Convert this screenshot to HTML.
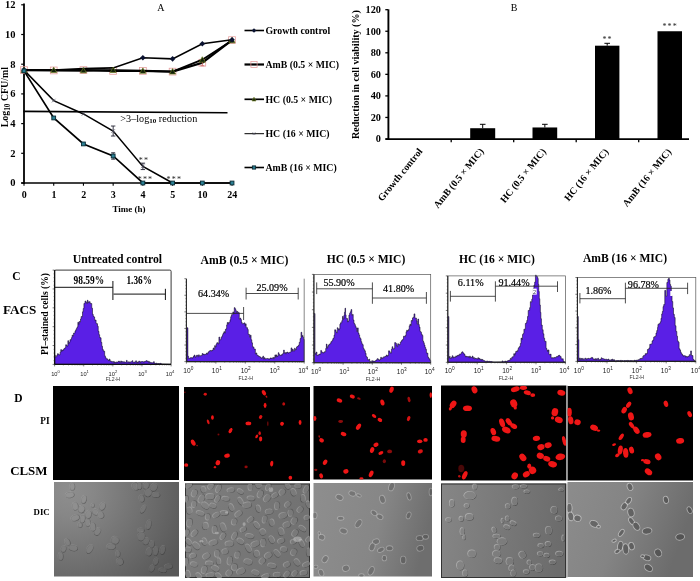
<!DOCTYPE html>
<html><head><meta charset="utf-8"><title>Figure</title>
<style>html,body{margin:0;padding:0;background:#fff}svg{display:block}</style></head>
<body>
<svg width="700" height="581" viewBox="0 0 700 581">
<rect width="700" height="581" fill="#fff"/>
<!-- panel A -->
<line x1="24" y1="3.6" x2="24" y2="183.9" stroke="#000" stroke-width="1.8"/>
<line x1="21.2" y1="183" x2="233" y2="183" stroke="#000" stroke-width="1.7"/>
<line x1="21.2" y1="183" x2="24" y2="183" stroke="#000" stroke-width="1.2"/>
<text x="15.6" y="186.4" font-family='"Liberation Serif", serif' font-size="10.5" font-weight="bold" text-anchor="end" fill="#000">0</text>
<line x1="21.2" y1="153.3" x2="24" y2="153.3" stroke="#000" stroke-width="1.2"/>
<text x="15.6" y="156.7" font-family='"Liberation Serif", serif' font-size="10.5" font-weight="bold" text-anchor="end" fill="#000">2</text>
<line x1="21.2" y1="123.6" x2="24" y2="123.6" stroke="#000" stroke-width="1.2"/>
<text x="15.6" y="127" font-family='"Liberation Serif", serif' font-size="10.5" font-weight="bold" text-anchor="end" fill="#000">4</text>
<line x1="21.2" y1="93.9" x2="24" y2="93.9" stroke="#000" stroke-width="1.2"/>
<text x="15.6" y="97.3" font-family='"Liberation Serif", serif' font-size="10.5" font-weight="bold" text-anchor="end" fill="#000">6</text>
<line x1="21.2" y1="64.2" x2="24" y2="64.2" stroke="#000" stroke-width="1.2"/>
<text x="15.6" y="67.6" font-family='"Liberation Serif", serif' font-size="10.5" font-weight="bold" text-anchor="end" fill="#000">8</text>
<line x1="21.2" y1="34.5" x2="24" y2="34.5" stroke="#000" stroke-width="1.2"/>
<text x="15.6" y="37.9" font-family='"Liberation Serif", serif' font-size="10.5" font-weight="bold" text-anchor="end" fill="#000">10</text>
<line x1="21.2" y1="4.8" x2="24" y2="4.8" stroke="#000" stroke-width="1.2"/>
<text x="15.6" y="8.2" font-family='"Liberation Serif", serif' font-size="10.5" font-weight="bold" text-anchor="end" fill="#000">12</text>
<text x="24.2" y="198" font-family='"Liberation Serif", serif' font-size="10" font-weight="bold" text-anchor="middle" fill="#000">0</text>
<line x1="24" y1="183" x2="24" y2="185.8" stroke="#000" stroke-width="1.1"/>
<text x="53.92" y="198" font-family='"Liberation Serif", serif' font-size="10" font-weight="bold" text-anchor="middle" fill="#000">1</text>
<line x1="53.72" y1="183" x2="53.72" y2="185.8" stroke="#000" stroke-width="1.1"/>
<text x="83.64" y="198" font-family='"Liberation Serif", serif' font-size="10" font-weight="bold" text-anchor="middle" fill="#000">2</text>
<line x1="83.44" y1="183" x2="83.44" y2="185.8" stroke="#000" stroke-width="1.1"/>
<text x="113.36" y="198" font-family='"Liberation Serif", serif' font-size="10" font-weight="bold" text-anchor="middle" fill="#000">3</text>
<line x1="113.16" y1="183" x2="113.16" y2="185.8" stroke="#000" stroke-width="1.1"/>
<text x="143.08" y="198" font-family='"Liberation Serif", serif' font-size="10" font-weight="bold" text-anchor="middle" fill="#000">4</text>
<line x1="142.88" y1="183" x2="142.88" y2="185.8" stroke="#000" stroke-width="1.1"/>
<text x="172.8" y="198" font-family='"Liberation Serif", serif' font-size="10" font-weight="bold" text-anchor="middle" fill="#000">5</text>
<line x1="172.6" y1="183" x2="172.6" y2="185.8" stroke="#000" stroke-width="1.1"/>
<text x="202.52" y="198" font-family='"Liberation Serif", serif' font-size="10" font-weight="bold" text-anchor="middle" fill="#000">10</text>
<line x1="202.32" y1="183" x2="202.32" y2="185.8" stroke="#000" stroke-width="1.1"/>
<text x="232.24" y="198" font-family='"Liberation Serif", serif' font-size="10" font-weight="bold" text-anchor="middle" fill="#000">24</text>
<line x1="232.04" y1="183" x2="232.04" y2="185.8" stroke="#000" stroke-width="1.1"/>
<text x="129" y="212" font-family='"Liberation Serif", serif' font-size="9" font-weight="bold" text-anchor="middle" fill="#000">Time (h)</text>
<text transform="translate(8.4,97.2) rotate(-90)" font-family='"Liberation Serif", serif' font-size="9.9" font-weight="bold" text-anchor="middle">Log<tspan font-size="7.3" dy="1.6">10</tspan><tspan dy="-1.6"> CFU/ml</tspan></text>
<text x="157.2" y="11.4" font-family='"Liberation Serif", serif' font-size="10" text-anchor="start" fill="#000">A</text>
<line x1="23.5" y1="111.4" x2="227.5" y2="112.7" stroke="#000" stroke-width="1.6"/>
<text x="120.3" y="121.7" font-family='"Liberation Serif", serif' font-size="10.2">&gt;3–log<tspan font-size="7" dy="1.5" font-weight="bold">10</tspan><tspan dy="-1.5"> reduction</tspan></text>
<rect x="20.6" y="66.74" width="6.8" height="6.8" fill="none" stroke="#e59a9a" stroke-width="0.75"/>
<rect x="50.32" y="67.04" width="6.8" height="6.8" fill="none" stroke="#e59a9a" stroke-width="0.75"/>
<rect x="80.04" y="66.74" width="6.8" height="6.8" fill="none" stroke="#e59a9a" stroke-width="0.75"/>
<rect x="109.76" y="67.48" width="6.8" height="6.8" fill="none" stroke="#e59a9a" stroke-width="0.75"/>
<rect x="139.48" y="67.48" width="6.8" height="6.8" fill="none" stroke="#e59a9a" stroke-width="0.75"/>
<rect x="169.2" y="68.22" width="6.8" height="6.8" fill="none" stroke="#e59a9a" stroke-width="0.75"/>
<rect x="198.92" y="59.32" width="6.8" height="6.8" fill="none" stroke="#e59a9a" stroke-width="0.75"/>
<rect x="228.64" y="36.74" width="6.8" height="6.8" fill="none" stroke="#e59a9a" stroke-width="0.75"/>
<polyline points="24,70.14 53.72,70.44 83.44,70.14 113.16,70.88 142.88,70.88 172.6,71.62 202.32,62.72 232.04,40.14" fill="none" stroke="#000" stroke-width="2.2"/>
<polyline points="24,70.14 53.72,70.14 83.44,70.44 113.16,70.14 142.88,70.88 172.6,71.62 202.32,59.74 232.04,40.44" fill="none" stroke="#000" stroke-width="1.9"/>
<polyline points="24,70.14 53.72,70.14 83.44,68.66 113.16,67.91 142.88,57.81 172.6,58.85 202.32,43.71 232.04,39.7" fill="none" stroke="#000" stroke-width="1.6"/>
<polyline points="24,70.14 53.72,100.58 83.44,113.95 113.16,131.03 142.88,166.37 172.6,183" fill="none" stroke="#000" stroke-width="1.5"/>
<polyline points="24,70.88 53.72,117.96 83.44,143.94 113.16,155.97 142.88,183 172.6,183 202.32,183 232.04,183" fill="none" stroke="#000" stroke-width="1.7"/>
<line x1="113.16" y1="126.03" x2="113.16" y2="136.03" stroke="#223" stroke-width="0.9"/><line x1="110.96" y1="126.03" x2="115.36" y2="126.03" stroke="#223" stroke-width="0.9"/><line x1="110.96" y1="136.03" x2="115.36" y2="136.03" stroke="#223" stroke-width="0.9"/>
<line x1="142.88" y1="163.17" x2="142.88" y2="169.57" stroke="#223" stroke-width="0.9"/><line x1="140.68" y1="163.17" x2="145.08" y2="163.17" stroke="#223" stroke-width="0.9"/><line x1="140.68" y1="169.57" x2="145.08" y2="169.57" stroke="#223" stroke-width="0.9"/>
<line x1="113.16" y1="152.77" x2="113.16" y2="159.17" stroke="#223" stroke-width="0.9"/><line x1="111.16" y1="152.77" x2="115.16" y2="152.77" stroke="#223" stroke-width="0.9"/><line x1="111.16" y1="159.17" x2="115.16" y2="159.17" stroke="#223" stroke-width="0.9"/>
<line x1="202.32" y1="59.72" x2="202.32" y2="65.72" stroke="#c66" stroke-width="0.9"/><line x1="200.32" y1="59.72" x2="204.32" y2="59.72" stroke="#c66" stroke-width="0.9"/><line x1="200.32" y1="65.72" x2="204.32" y2="65.72" stroke="#c66" stroke-width="0.9"/>
<polygon points="24,67.14 27,72.54 21,72.54" fill="#10200a" stroke="#6b7a1f" stroke-width="0.7"/>
<polygon points="53.72,67.14 56.72,72.54 50.72,72.54" fill="#10200a" stroke="#6b7a1f" stroke-width="0.7"/>
<polygon points="83.44,67.44 86.44,72.84 80.44,72.84" fill="#10200a" stroke="#6b7a1f" stroke-width="0.7"/>
<polygon points="113.16,67.14 116.16,72.54 110.16,72.54" fill="#10200a" stroke="#6b7a1f" stroke-width="0.7"/>
<polygon points="142.88,67.88 145.88,73.28 139.88,73.28" fill="#10200a" stroke="#6b7a1f" stroke-width="0.7"/>
<polygon points="172.6,68.62 175.6,74.03 169.6,74.03" fill="#10200a" stroke="#6b7a1f" stroke-width="0.7"/>
<polygon points="202.32,56.74 205.32,62.14 199.32,62.14" fill="#10200a" stroke="#6b7a1f" stroke-width="0.7"/>
<polygon points="232.04,37.44 235.04,42.84 229.04,42.84" fill="#10200a" stroke="#6b7a1f" stroke-width="0.7"/>
<polygon points="21.2,70.14 24,67.34 26.8,70.14 24,72.94" fill="#0a1230"/>
<polygon points="140.08,57.81 142.88,55.01 145.68,57.81 142.88,60.61" fill="#0a1230"/>
<polygon points="169.8,58.85 172.6,56.05 175.4,58.85 172.6,61.65" fill="#0a1230"/>
<polygon points="199.52,43.71 202.32,40.91 205.12,43.71 202.32,46.51" fill="#0a1230"/>
<polygon points="229.24,39.7 232.04,36.9 234.84,39.7 232.04,42.5" fill="#0a1230"/>
<line x1="22.2" y1="68.34" x2="25.8" y2="71.94" stroke="#556" stroke-width="0.7"/><line x1="22.2" y1="71.94" x2="25.8" y2="68.34" stroke="#556" stroke-width="0.7"/>
<line x1="51.92" y1="98.78" x2="55.52" y2="102.38" stroke="#556" stroke-width="0.7"/><line x1="51.92" y1="102.38" x2="55.52" y2="98.78" stroke="#556" stroke-width="0.7"/>
<line x1="81.64" y1="112.15" x2="85.24" y2="115.75" stroke="#556" stroke-width="0.7"/><line x1="81.64" y1="115.75" x2="85.24" y2="112.15" stroke="#556" stroke-width="0.7"/>
<line x1="111.36" y1="129.22" x2="114.96" y2="132.83" stroke="#556" stroke-width="0.7"/><line x1="111.36" y1="132.83" x2="114.96" y2="129.22" stroke="#556" stroke-width="0.7"/>
<line x1="141.08" y1="164.57" x2="144.68" y2="168.17" stroke="#556" stroke-width="0.7"/><line x1="141.08" y1="168.17" x2="144.68" y2="164.57" stroke="#556" stroke-width="0.7"/>
<line x1="170.8" y1="181.2" x2="174.4" y2="184.8" stroke="#556" stroke-width="0.7"/><line x1="170.8" y1="184.8" x2="174.4" y2="181.2" stroke="#556" stroke-width="0.7"/>
<rect x="22.1" y="68.98" width="3.8" height="3.8" fill="#2a7f93" stroke="#0a2a33" stroke-width="0.9"/>
<rect x="51.82" y="116.06" width="3.8" height="3.8" fill="#2a7f93" stroke="#0a2a33" stroke-width="0.9"/>
<rect x="81.54" y="142.04" width="3.8" height="3.8" fill="#2a7f93" stroke="#0a2a33" stroke-width="0.9"/>
<rect x="111.26" y="154.07" width="3.8" height="3.8" fill="#2a7f93" stroke="#0a2a33" stroke-width="0.9"/>
<rect x="140.98" y="181.1" width="3.8" height="3.8" fill="#2a7f93" stroke="#0a2a33" stroke-width="0.9"/>
<rect x="170.7" y="181.1" width="3.8" height="3.8" fill="#2a7f93" stroke="#0a2a33" stroke-width="0.9"/>
<rect x="200.42" y="181.1" width="3.8" height="3.8" fill="#2a7f93" stroke="#0a2a33" stroke-width="0.9"/>
<rect x="230.14" y="181.1" width="3.8" height="3.8" fill="#2a7f93" stroke="#0a2a33" stroke-width="0.9"/>
<text x="144" y="162.6" font-family='"Liberation Serif", serif' font-size="8" text-anchor="middle" fill="#222" letter-spacing="1.2">**</text>
<text x="145.5" y="181.6" font-family='"Liberation Serif", serif' font-size="8" text-anchor="middle" fill="#222" letter-spacing="1.2">***</text>
<text x="174.3" y="181.6" font-family='"Liberation Serif", serif' font-size="8" text-anchor="middle" fill="#222" letter-spacing="1.2">***</text>
<line x1="244.5" y1="30.5" x2="264" y2="30.5" stroke="#000" stroke-width="1.6"/>
<text x="265.5" y="33.8" font-family='"Liberation Serif", serif' font-size="9.8" font-weight="bold" text-anchor="start" fill="#000">Growth control</text>
<line x1="244.5" y1="64.5" x2="264" y2="64.5" stroke="#000" stroke-width="2.2"/>
<text x="265.5" y="67.8" font-family='"Liberation Serif", serif' font-size="9.8" font-weight="bold" text-anchor="start" fill="#000">AmB (0.5 × MIC)</text>
<line x1="244.5" y1="99.3" x2="264" y2="99.3" stroke="#000" stroke-width="1.7"/>
<text x="265.5" y="102.6" font-family='"Liberation Serif", serif' font-size="9.8" font-weight="bold" text-anchor="start" fill="#000">HC (0.5 × MIC)</text>
<line x1="244.5" y1="133.7" x2="264" y2="133.7" stroke="#000" stroke-width="1"/>
<text x="265.5" y="137" font-family='"Liberation Serif", serif' font-size="9.8" font-weight="bold" text-anchor="start" fill="#000">HC (16 × MIC)</text>
<line x1="244.5" y1="167.5" x2="264" y2="167.5" stroke="#000" stroke-width="1.6"/>
<text x="265.5" y="170.8" font-family='"Liberation Serif", serif' font-size="9.8" font-weight="bold" text-anchor="start" fill="#000">AmB (16 × MIC)</text>
<polygon points="251.7,30.5 254,28.2 256.3,30.5 254,32.8" fill="#0a1230"/>
<rect x="250.9" y="61.4" width="6.2" height="6.2" fill="none" stroke="#e59a9a" stroke-width="0.75"/>
<polygon points="254,97.3 256,100.9 252,100.9" fill="#10200a" stroke="#6b7a1f" stroke-width="0.7"/>
<line x1="252.7" y1="132.4" x2="255.3" y2="135" stroke="#556" stroke-width="0.7"/><line x1="252.7" y1="135" x2="255.3" y2="132.4" stroke="#556" stroke-width="0.7"/>
<rect x="252.4" y="165.9" width="3.2" height="3.2" fill="#2a7f93" stroke="#0a2a33" stroke-width="0.9"/>
<!-- panel B -->
<line x1="388.4" y1="9.3" x2="388.4" y2="140" stroke="#000" stroke-width="1.9"/>
<line x1="385.5" y1="139.1" x2="689" y2="139.1" stroke="#000" stroke-width="1.8"/>
<line x1="385.3" y1="139" x2="388" y2="139" stroke="#000" stroke-width="1.3"/>
<text x="381" y="142.3" font-family='"Liberation Serif", serif' font-size="10.3" font-weight="bold" text-anchor="end" fill="#000">0</text>
<line x1="385.3" y1="117.45" x2="388" y2="117.45" stroke="#000" stroke-width="1.3"/>
<text x="381" y="120.75" font-family='"Liberation Serif", serif' font-size="10.3" font-weight="bold" text-anchor="end" fill="#000">20</text>
<line x1="385.3" y1="95.9" x2="388" y2="95.9" stroke="#000" stroke-width="1.3"/>
<text x="381" y="99.2" font-family='"Liberation Serif", serif' font-size="10.3" font-weight="bold" text-anchor="end" fill="#000">40</text>
<line x1="385.3" y1="74.35" x2="388" y2="74.35" stroke="#000" stroke-width="1.3"/>
<text x="381" y="77.65" font-family='"Liberation Serif", serif' font-size="10.3" font-weight="bold" text-anchor="end" fill="#000">60</text>
<line x1="385.3" y1="52.8" x2="388" y2="52.8" stroke="#000" stroke-width="1.3"/>
<text x="381" y="56.1" font-family='"Liberation Serif", serif' font-size="10.3" font-weight="bold" text-anchor="end" fill="#000">80</text>
<line x1="385.3" y1="31.25" x2="388" y2="31.25" stroke="#000" stroke-width="1.3"/>
<text x="381" y="34.55" font-family='"Liberation Serif", serif' font-size="10.3" font-weight="bold" text-anchor="end" fill="#000">100</text>
<line x1="385.3" y1="9.7" x2="388" y2="9.7" stroke="#000" stroke-width="1.3"/>
<text x="381" y="13" font-family='"Liberation Serif", serif' font-size="10.3" font-weight="bold" text-anchor="end" fill="#000">120</text>
<line x1="451.2" y1="139" x2="451.2" y2="142.2" stroke="#000" stroke-width="1.3"/>
<line x1="513.7" y1="139" x2="513.7" y2="142.2" stroke="#000" stroke-width="1.3"/>
<line x1="576.2" y1="139" x2="576.2" y2="142.2" stroke="#000" stroke-width="1.3"/>
<line x1="638.7" y1="139" x2="638.7" y2="142.2" stroke="#000" stroke-width="1.3"/>
<text transform="translate(359.2,74.6) rotate(-90)" font-family='"Liberation Serif", serif' font-size="10.05" font-weight="bold" text-anchor="middle">Reduction in cell viability (%)</text>
<text x="514" y="11.2" font-family='"Liberation Serif", serif' font-size="10" text-anchor="middle" fill="#000">B</text>
<rect x="470.2" y="128.22" width="25" height="10.78" fill="#000"/>
<line x1="482.7" y1="124.3" x2="482.7" y2="128.22" stroke="#000" stroke-width="1"/>
<line x1="479.9" y1="124.3" x2="485.5" y2="124.3" stroke="#000" stroke-width="1"/>
<rect x="532.5" y="127.47" width="24.7" height="11.53" fill="#000"/>
<line x1="544.85" y1="124.3" x2="544.85" y2="127.47" stroke="#000" stroke-width="1"/>
<line x1="542.05" y1="124.3" x2="547.65" y2="124.3" stroke="#000" stroke-width="1"/>
<rect x="595" y="45.69" width="24.4" height="93.31" fill="#000"/>
<line x1="607.2" y1="43.3" x2="607.2" y2="45.69" stroke="#000" stroke-width="1"/>
<line x1="604.4" y1="43.3" x2="610" y2="43.3" stroke="#000" stroke-width="1"/>
<rect x="657.5" y="31.25" width="24.5" height="107.75" fill="#000"/>
<text x="607.6" y="42.3" font-family='"Liberation Serif", serif' font-size="8" text-anchor="middle" fill="#222" letter-spacing="1.2">**</text>
<text x="670.2" y="29.3" font-family='"Liberation Serif", serif' font-size="8" text-anchor="middle" fill="#222" letter-spacing="1.2">***</text>
<text transform="translate(423,151.5) rotate(-51)" font-family='"Liberation Serif", serif' font-size="9.8" font-weight="bold" text-anchor="end">Growth control</text>
<text transform="translate(484.2,151.5) rotate(-51)" font-family='"Liberation Serif", serif' font-size="9.8" font-weight="bold" text-anchor="end">AmB (0.5 × MIC)</text>
<text transform="translate(546.5,151.7) rotate(-51)" font-family='"Liberation Serif", serif' font-size="9.8" font-weight="bold" text-anchor="end">HC (0.5 × MIC)</text>
<text transform="translate(609,151.9) rotate(-51)" font-family='"Liberation Serif", serif' font-size="9.8" font-weight="bold" text-anchor="end">HC (16 × MIC)</text>
<text transform="translate(671.8,151.9) rotate(-51)" font-family='"Liberation Serif", serif' font-size="9.8" font-weight="bold" text-anchor="end">AmB (16 × MIC)</text>
<!-- panel C -->
<text x="117.4" y="262.8" font-family='"Liberation Serif", serif' font-size="11.75" font-weight="bold" text-anchor="middle" fill="#000">Untreated control</text>
<text x="244.5" y="264.3" font-family='"Liberation Serif", serif' font-size="11.7" font-weight="bold" text-anchor="middle" fill="#000">AmB (0.5 × MIC)</text>
<text x="366" y="263" font-family='"Liberation Serif", serif' font-size="11.6" font-weight="bold" text-anchor="middle" fill="#000">HC (0.5 × MIC)</text>
<text x="497" y="263" font-family='"Liberation Serif", serif' font-size="11.6" font-weight="bold" text-anchor="middle" fill="#000">HC (16 × MIC)</text>
<text x="625" y="262.2" font-family='"Liberation Serif", serif' font-size="11.6" font-weight="bold" text-anchor="middle" fill="#000">AmB (16 × MIC)</text>
<text x="16.5" y="280.3" font-family='"Liberation Serif", serif' font-size="11.5" font-weight="bold" text-anchor="middle" fill="#000">C</text>
<text x="3" y="313.8" font-family='"Liberation Serif", serif' font-size="13.2" font-weight="bold" text-anchor="start" fill="#000">FACS</text>
<text transform="translate(47.6,314) rotate(-90)" font-family='"Liberation Serif", serif' font-size="9.6" font-weight="bold" text-anchor="middle">PI–stained cells (%)</text>
<polyline points="54.57,364.43 54.57,364.43 54.57,355.28 55.3,355.28 55.3,356.88 56.03,356.88 56.03,356.72 56.76,356.72 56.76,355.3 57.49,355.3 57.49,353.71 58.21,353.71 58.21,354.23 58.86,354.23 58.86,354.96 59.5,354.96 59.5,354.79 60.14,354.79 60.14,352.24 60.79,352.24 60.79,349.6 61.43,349.6 61.43,351.3 62.14,351.3 62.14,350.12 62.86,350.12 62.86,350.36 63.57,350.36 63.57,349.12 64.29,349.12 64.29,348.35 65,348.35 65,347.81 65.71,347.81 65.71,344.74 66.43,344.74 66.43,345.58 67.14,345.58 67.14,346.1 67.86,346.1 67.86,340.7 68.57,340.7 68.57,343.8 69.29,343.8 69.29,342.27 70,342.27 70,339.64 70.71,339.64 70.71,339.91 71.43,339.91 71.43,337.67 72.14,337.67 72.14,335.18 72.86,335.18 72.86,335.93 73.57,335.93 73.57,333.04 74.29,333.04 74.29,333.18 75,333.18 75,330.89 75.71,330.89 75.71,329.82 76.43,329.82 76.43,328.42 77.14,328.42 77.14,326.91 77.86,326.91 77.86,322.34 78.57,322.34 78.57,324.32 79.21,324.32 79.21,321.5 79.86,321.5 79.86,321.92 80.5,321.92 80.5,319.04 81.14,319.04 81.14,316.52 81.79,316.52 81.79,316.7 82.5,316.7 82.5,311.83 83.21,311.83 83.21,308.49 83.93,308.49 83.93,303.5 84.46,303.5 84.46,303.49 85,303.49 85,301.14 85.86,301.14 85.86,302.16 86.71,302.16 86.71,303.53 87.36,303.53 87.36,300.25 88,300.25 88,302.66 88.64,302.66 88.64,301.74 89.29,301.74 89.29,301.68 90.14,301.68 90.14,303.48 91,303.48 91,303.56 91.75,303.56 91.75,308.23 92.5,308.23 92.5,314.31 93.21,314.31 93.21,316.29 93.93,316.29 93.93,317.01 94.64,317.01 94.64,320.25 95.36,320.25 95.36,319.97 96.07,319.97 96.07,323.42 96.79,323.42 96.79,323.68 97.5,323.68 97.5,326.22 98.21,326.22 98.21,331.34 98.93,331.34 98.93,334.68 99.64,334.68 99.64,337.58 100.36,337.58 100.36,337.83 101.07,337.83 101.07,342.34 101.79,342.34 101.79,346.25 102.5,346.25 102.5,349.36 103.21,349.36 103.21,350.86 103.93,350.86 103.93,351.23 104.64,351.23 104.64,355.9 105.36,355.9 105.36,357.39 106,357.39 106,358.7 106.64,358.7 106.64,358.63 107.29,358.63 107.29,359.46 107.93,359.46 107.93,360 108.57,360 108.57,360.7 109.29,360.7 109.29,359.15 110,359.15 110,360.89 110.71,360.89 110.71,361.18 111.43,361.18 111.43,361.96 112.14,361.96 112.14,361.71 112.86,361.71 112.86,361.46 113.57,361.46 113.57,362.72 114.29,362.72 114.29,361.87 115,361.87 115,362.69 115.71,362.69 115.71,362.17 116.43,362.17 116.43,361.98 117.14,361.98 117.14,362.3 117.86,362.3 117.86,361.77 118.57,361.77 118.57,361.07 119.29,361.07 119.29,361.86 120,361.86 120,362.45 120.71,362.45 120.71,360.97 121.43,360.97 121.43,362.28 122.14,362.28 122.14,361.64 122.86,361.64 122.86,362.29 123.57,362.29 123.57,361.73 124.29,361.73 124.29,362.08 125,362.08 125,362.38 125.71,362.38 125.71,362.08 126.43,362.08 126.43,360.39 127.14,360.39 127.14,362.17 127.86,362.17 127.86,362.29 128.57,362.29 128.57,361.77 129.29,361.77 129.29,362.37 130,362.37 130,362.49 130.71,362.49 130.71,361.64 131.43,361.64 131.43,361.64 132.14,361.64 132.14,360.69 132.86,360.69 132.86,362.47 133.57,362.47 133.57,362.27 134.29,362.27 134.29,362.05 135,362.05 135,361.91 135.71,361.91 135.71,360.84 136.43,360.84 136.43,362.7 137.14,362.7 137.14,361.98 137.86,361.98 137.86,362.52 138.57,362.52 138.57,361.29 139.29,361.29 139.29,361.27 140,361.27 140,362.57 140.71,362.57 140.71,361.59 141.43,361.59 141.43,361.68 142.14,361.68 142.14,361.49 142.86,361.49 142.86,361.74 143.57,361.74 143.57,362.28 144.28,362.28 144.28,361.52 145,361.52 145,361.3 145.71,361.3 145.71,361.19 146.43,361.19 146.43,360.62 147.14,360.62 147.14,361.56 147.86,361.56 147.86,361.31 148.57,361.31 148.57,362.48 149.28,362.48 149.28,361.74 150,361.74 150,362.45 150.71,362.45 150.71,362.55 151.43,362.55 151.43,362.85 152.14,362.85 152.14,362.84 152.86,362.84 152.86,362.66 153.57,362.66 153.57,361.68 154.28,361.68 154.28,363.26 155,363.26 155,363.64 155.71,363.64 155.71,363.16 156.43,363.16 156.43,363.28 157.14,363.28 157.14,363.9 157.86,363.9 157.86,363.51 158.57,363.51 158.57,363.83 159.28,363.83 159.28,363.65 160,363.65 160,363.32 160.7,363.32 160.7,363.65 161.39,363.65 161.39,364.05 162.09,364.05 162.09,364.08 162.78,364.08 162.78,364.11 163.48,364.11 163.48,364.13 164.18,364.13 164.18,364.16 164.87,364.16 164.87,364.19 165.57,364.19 165.57,364.21 166.27,364.21 166.27,364.24 166.96,364.24 166.96,364.27 167.66,364.27 167.66,364.29 168.36,364.29 168.36,364.32 169.05,364.32 169.05,364.35 169.75,364.35 169.75,364.37 170.45,364.37 170.45,364.4 171.14,364.4 171.14,364.43 171.1,364.4 54.6,364.4" fill="#5a1fe6" stroke="#08021a" stroke-width="0.55"/>
<rect x="54.6" y="270.1" width="116.5" height="94.3" fill="none" stroke="#383838" stroke-width="1" rx="1.2"/>
<line x1="54.6" y1="270.1" x2="54.6" y2="364.4" stroke="#111" stroke-width="1.3"/>
<line x1="54.6" y1="364.4" x2="171.1" y2="364.4" stroke="#111" stroke-width="1.2"/>
<line x1="52.6" y1="364.4" x2="54.6" y2="364.4" stroke="#222" stroke-width="0.6"/><line x1="53.5" y1="360.63" x2="54.6" y2="360.63" stroke="#222" stroke-width="0.4"/><line x1="53.5" y1="356.86" x2="54.6" y2="356.86" stroke="#222" stroke-width="0.4"/><line x1="53.5" y1="353.08" x2="54.6" y2="353.08" stroke="#222" stroke-width="0.4"/><line x1="53.5" y1="349.31" x2="54.6" y2="349.31" stroke="#222" stroke-width="0.4"/><line x1="52.6" y1="345.54" x2="54.6" y2="345.54" stroke="#222" stroke-width="0.6"/><line x1="53.5" y1="341.77" x2="54.6" y2="341.77" stroke="#222" stroke-width="0.4"/><line x1="53.5" y1="338" x2="54.6" y2="338" stroke="#222" stroke-width="0.4"/><line x1="53.5" y1="334.22" x2="54.6" y2="334.22" stroke="#222" stroke-width="0.4"/><line x1="53.5" y1="330.45" x2="54.6" y2="330.45" stroke="#222" stroke-width="0.4"/><line x1="52.6" y1="326.68" x2="54.6" y2="326.68" stroke="#222" stroke-width="0.6"/><line x1="53.5" y1="322.91" x2="54.6" y2="322.91" stroke="#222" stroke-width="0.4"/><line x1="53.5" y1="319.14" x2="54.6" y2="319.14" stroke="#222" stroke-width="0.4"/><line x1="53.5" y1="315.36" x2="54.6" y2="315.36" stroke="#222" stroke-width="0.4"/><line x1="53.5" y1="311.59" x2="54.6" y2="311.59" stroke="#222" stroke-width="0.4"/><line x1="52.6" y1="307.82" x2="54.6" y2="307.82" stroke="#222" stroke-width="0.6"/><line x1="53.5" y1="304.05" x2="54.6" y2="304.05" stroke="#222" stroke-width="0.4"/><line x1="53.5" y1="300.28" x2="54.6" y2="300.28" stroke="#222" stroke-width="0.4"/><line x1="53.5" y1="296.5" x2="54.6" y2="296.5" stroke="#222" stroke-width="0.4"/><line x1="53.5" y1="292.73" x2="54.6" y2="292.73" stroke="#222" stroke-width="0.4"/><line x1="52.6" y1="288.96" x2="54.6" y2="288.96" stroke="#222" stroke-width="0.6"/><line x1="53.5" y1="285.19" x2="54.6" y2="285.19" stroke="#222" stroke-width="0.4"/><line x1="53.5" y1="281.42" x2="54.6" y2="281.42" stroke="#222" stroke-width="0.4"/><line x1="53.5" y1="277.64" x2="54.6" y2="277.64" stroke="#222" stroke-width="0.4"/><line x1="53.5" y1="273.87" x2="54.6" y2="273.87" stroke="#222" stroke-width="0.4"/><line x1="52.6" y1="270.1" x2="54.6" y2="270.1" stroke="#222" stroke-width="0.6"/>
<line x1="63.37" y1="364.4" x2="63.37" y2="365.6" stroke="#222" stroke-width="0.35"/><line x1="68.5" y1="364.4" x2="68.5" y2="365.6" stroke="#222" stroke-width="0.35"/><line x1="72.13" y1="364.4" x2="72.13" y2="365.6" stroke="#222" stroke-width="0.35"/><line x1="74.96" y1="364.4" x2="74.96" y2="365.6" stroke="#222" stroke-width="0.35"/><line x1="77.26" y1="364.4" x2="77.26" y2="365.6" stroke="#222" stroke-width="0.35"/><line x1="79.21" y1="364.4" x2="79.21" y2="365.6" stroke="#222" stroke-width="0.35"/><line x1="80.9" y1="364.4" x2="80.9" y2="365.6" stroke="#222" stroke-width="0.35"/><line x1="82.39" y1="364.4" x2="82.39" y2="365.6" stroke="#222" stroke-width="0.35"/><line x1="92.49" y1="364.4" x2="92.49" y2="365.6" stroke="#222" stroke-width="0.35"/><line x1="97.62" y1="364.4" x2="97.62" y2="365.6" stroke="#222" stroke-width="0.35"/><line x1="101.26" y1="364.4" x2="101.26" y2="365.6" stroke="#222" stroke-width="0.35"/><line x1="104.08" y1="364.4" x2="104.08" y2="365.6" stroke="#222" stroke-width="0.35"/><line x1="106.39" y1="364.4" x2="106.39" y2="365.6" stroke="#222" stroke-width="0.35"/><line x1="108.34" y1="364.4" x2="108.34" y2="365.6" stroke="#222" stroke-width="0.35"/><line x1="110.03" y1="364.4" x2="110.03" y2="365.6" stroke="#222" stroke-width="0.35"/><line x1="111.52" y1="364.4" x2="111.52" y2="365.6" stroke="#222" stroke-width="0.35"/><line x1="121.62" y1="364.4" x2="121.62" y2="365.6" stroke="#222" stroke-width="0.35"/><line x1="126.75" y1="364.4" x2="126.75" y2="365.6" stroke="#222" stroke-width="0.35"/><line x1="130.38" y1="364.4" x2="130.38" y2="365.6" stroke="#222" stroke-width="0.35"/><line x1="133.21" y1="364.4" x2="133.21" y2="365.6" stroke="#222" stroke-width="0.35"/><line x1="135.51" y1="364.4" x2="135.51" y2="365.6" stroke="#222" stroke-width="0.35"/><line x1="137.46" y1="364.4" x2="137.46" y2="365.6" stroke="#222" stroke-width="0.35"/><line x1="139.15" y1="364.4" x2="139.15" y2="365.6" stroke="#222" stroke-width="0.35"/><line x1="140.64" y1="364.4" x2="140.64" y2="365.6" stroke="#222" stroke-width="0.35"/><line x1="150.74" y1="364.4" x2="150.74" y2="365.6" stroke="#222" stroke-width="0.35"/><line x1="155.87" y1="364.4" x2="155.87" y2="365.6" stroke="#222" stroke-width="0.35"/><line x1="159.51" y1="364.4" x2="159.51" y2="365.6" stroke="#222" stroke-width="0.35"/><line x1="162.33" y1="364.4" x2="162.33" y2="365.6" stroke="#222" stroke-width="0.35"/><line x1="164.64" y1="364.4" x2="164.64" y2="365.6" stroke="#222" stroke-width="0.35"/><line x1="166.59" y1="364.4" x2="166.59" y2="365.6" stroke="#222" stroke-width="0.35"/><line x1="168.28" y1="364.4" x2="168.28" y2="365.6" stroke="#222" stroke-width="0.35"/><line x1="169.77" y1="364.4" x2="169.77" y2="365.6" stroke="#222" stroke-width="0.35"/><line x1="54.6" y1="364.4" x2="54.6" y2="366.4" stroke="#222" stroke-width="0.6"/><line x1="83.72" y1="364.4" x2="83.72" y2="366.4" stroke="#222" stroke-width="0.6"/><line x1="112.85" y1="364.4" x2="112.85" y2="366.4" stroke="#222" stroke-width="0.6"/><line x1="141.97" y1="364.4" x2="141.97" y2="366.4" stroke="#222" stroke-width="0.6"/><line x1="171.1" y1="364.4" x2="171.1" y2="366.4" stroke="#222" stroke-width="0.6"/>
<line x1="54.6" y1="287.3" x2="112.9" y2="287.3" stroke="#111" stroke-width="1"/><line x1="112.9" y1="281" x2="112.9" y2="300" stroke="#111" stroke-width="1"/>
<line x1="113.5" y1="294.1" x2="165.4" y2="294.1" stroke="#111" stroke-width="1"/><line x1="165.4" y1="288.8" x2="165.4" y2="300" stroke="#111" stroke-width="1"/>
<text x="88.9" y="284.4" font-family='"Liberation Serif", serif' font-size="11.6" font-weight="bold" text-anchor="middle" fill="#000" textLength="30.6" lengthAdjust="spacingAndGlyphs">98.59%</text>
<text x="139.2" y="284.4" font-family='"Liberation Serif", serif' font-size="11.6" font-weight="bold" text-anchor="middle" fill="#000" textLength="25.5" lengthAdjust="spacingAndGlyphs">1.36%</text>
<text x="55.43" y="375.6" font-family='"Liberation Sans", sans-serif' font-size="5.7" text-anchor="middle" fill="#222">10<tspan font-size="4.1" dy="-2.6">0</tspan></text><text x="84.57" y="375.6" font-family='"Liberation Sans", sans-serif' font-size="5.7" text-anchor="middle" fill="#222">10<tspan font-size="4.1" dy="-2.6">1</tspan></text><text x="112.86" y="375.6" font-family='"Liberation Sans", sans-serif' font-size="5.7" text-anchor="middle" fill="#222">10<tspan font-size="4.1" dy="-2.6">2</tspan></text><text x="142.43" y="375.6" font-family='"Liberation Sans", sans-serif' font-size="5.7" text-anchor="middle" fill="#222">10<tspan font-size="4.1" dy="-2.6">3</tspan></text><text x="170.07" y="375.6" font-family='"Liberation Sans", sans-serif' font-size="5.7" text-anchor="middle" fill="#222">10<tspan font-size="4.1" dy="-2.6">4</tspan></text><text x="112.9" y="381.3" font-family='"Liberation Sans", sans-serif' font-size="5.2" text-anchor="middle" fill="#333">FL2-H</text>
<polyline points="186.36,361.64 187,361.64 187,327.8 187.86,327.8 187.86,356.33 188.57,356.33 188.57,358.49 189.29,358.49 189.29,358.21 190,358.21 190,357.99 190.71,357.99 190.71,357.55 191.43,357.55 191.43,357.88 192.14,357.88 192.14,358.11 192.86,358.11 192.86,357.04 193.57,357.04 193.57,356.11 194.29,356.11 194.29,355.02 195,355.02 195,357.33 195.71,357.33 195.71,356.53 196.43,356.53 196.43,355.31 197.14,355.31 197.14,355.28 197.86,355.28 197.86,356.77 198.57,356.77 198.57,354.87 199.29,354.87 199.29,355.9 200,355.9 200,355.91 200.71,355.91 200.71,355.43 201.43,355.43 201.43,355.63 202.14,355.63 202.14,353.56 202.86,353.56 202.86,354.58 203.57,354.58 203.57,353.98 204.29,353.98 204.29,354.73 205,354.73 205,354.34 205.71,354.34 205.71,354.29 206.43,354.29 206.43,353.1 207.14,353.1 207.14,354.05 207.81,354.05 207.81,352.57 208.48,352.57 208.48,351.75 209.15,351.75 209.15,350.91 209.82,350.91 209.82,350.77 210.49,350.77 210.49,350.46 211.16,350.46 211.16,351.18 211.83,351.18 211.83,350.24 212.5,350.24 212.5,350.05 213.21,350.05 213.21,347.98 213.93,347.98 213.93,349.41 214.64,349.41 214.64,345.65 215.36,345.65 215.36,347.01 216.07,347.01 216.07,344.21 216.79,344.21 216.79,342.84 217.5,342.84 217.5,342.71 218.21,342.71 218.21,343.97 218.93,343.97 218.93,337.07 219.64,337.07 219.64,339.81 220.36,339.81 220.36,339.67 221.07,339.67 221.07,337.39 221.79,337.39 221.79,336.46 222.5,336.46 222.5,334.71 223.21,334.71 223.21,333.08 223.93,333.08 223.93,331.63 224.64,331.63 224.64,333.03 225.36,333.03 225.36,329.36 226,329.36 226,328.79 226.64,328.79 226.64,324.92 227.29,324.92 227.29,322.53 227.93,322.53 227.93,323.96 228.57,323.96 228.57,322.38 229.29,322.38 229.29,322.15 230,322.15 230,319.78 230.71,319.78 230.71,316.78 231.43,316.78 231.43,314.67 232.14,314.67 232.14,314.63 232.86,314.63 232.86,311.92 233.57,311.92 233.57,313.61 234.29,313.61 234.29,307.63 235,307.63 235,308.86 235.71,308.86 235.71,310.7 236.43,310.7 236.43,312.7 237.14,312.7 237.14,311.45 237.86,311.45 237.86,312.47 238.57,312.47 238.57,312.71 239.29,312.71 239.29,319.18 240,319.18 240,318.1 240.71,318.1 240.71,319.6 241.43,319.6 241.43,322.36 242.14,322.36 242.14,323.73 242.86,323.73 242.86,323.78 243.57,323.78 243.57,323.36 244.21,323.36 244.21,322.87 244.86,322.87 244.86,325.49 245.5,325.49 245.5,323.87 246.14,323.87 246.14,327.77 246.79,327.77 246.79,327.66 247.5,327.66 247.5,329.46 248.21,329.46 248.21,334.28 248.93,334.28 248.93,334.54 249.64,334.54 249.64,337.2 250.36,337.2 250.36,335.17 251.07,335.17 251.07,339.75 251.79,339.75 251.79,342.87 252.5,342.87 252.5,346.99 253.21,346.99 253.21,346.93 253.93,346.93 253.93,349.04 254.64,349.04 254.64,349 255.36,349 255.36,353.85 256.07,353.85 256.07,352.98 256.79,352.98 256.79,354.97 257.5,354.97 257.5,355.67 258.14,355.67 258.14,355.78 258.79,355.78 258.79,356.69 259.43,356.69 259.43,356.52 260.07,356.52 260.07,357.09 260.71,357.09 260.71,357.78 261.43,357.78 261.43,358.47 262.14,358.47 262.14,357.53 262.86,357.53 262.86,356.14 263.57,356.14 263.57,359.08 264.29,359.08 264.29,357.68 265,357.68 265,358.97 265.71,358.97 265.71,358.63 266.43,358.63 266.43,358.66 267.14,358.66 267.14,358.47 267.86,358.47 267.86,358.69 268.57,358.69 268.57,359.1 269.29,359.1 269.29,359.06 270,359.06 270,358.01 270.71,358.01 270.71,357.96 271.43,357.96 271.43,358.54 272.14,358.54 272.14,358.29 272.86,358.29 272.86,357.39 273.57,357.39 273.57,358.79 274.24,358.79 274.24,357.47 274.91,357.47 274.91,354.89 275.58,354.89 275.58,357.18 276.25,357.18 276.25,354.88 276.92,354.88 276.92,356.56 277.59,356.56 277.59,355.91 278.26,355.91 278.26,352.69 278.93,352.69 278.93,354.31 279.6,354.31 279.6,355.36 280.27,355.36 280.27,355.49 280.94,355.49 280.94,354.81 281.61,354.81 281.61,355.22 282.28,355.22 282.28,353.99 282.95,353.99 282.95,353.41 283.62,353.41 283.62,350.07 284.28,350.07 284.28,353.04 284.95,353.04 284.95,352.64 285.62,352.64 285.62,353.84 286.29,353.84 286.29,352.54 286.96,352.54 286.96,352.04 287.63,352.04 287.63,352.75 288.3,352.75 288.3,353.12 288.97,353.12 288.97,352.39 289.64,352.39 289.64,352.38 290.36,352.38 290.36,351.94 291.07,351.94 291.07,347.88 291.78,347.88 291.78,351.28 292.5,351.28 292.5,349.12 293.21,349.12 293.21,350.82 293.93,350.82 293.93,350.99 294.57,350.99 294.57,348.14 295.21,348.14 295.21,349.76 295.86,349.76 295.86,349.27 296.5,349.27 296.5,347.06 297.14,347.06 297.14,346.43 297.86,346.43 297.86,345.97 298.57,345.97 298.57,345.01 299.28,345.01 299.28,342.29 300.14,342.29 300.14,338.6 301,338.6 301,332.29 301.75,332.29 301.75,336.75 302.5,336.75 302.5,335.4 303.03,335.4 303.03,337.15 303.57,337.15 303.57,339.51 304.21,339.51 304.21,361.64 304.2,361.6 186.4,361.6" fill="#5a1fe6" stroke="#08021a" stroke-width="0.55"/>
<line x1="186.4" y1="278.7" x2="186.4" y2="361.6" stroke="#222" stroke-width="1.1"/>
<line x1="186.4" y1="361.6" x2="304.2" y2="361.6" stroke="#222" stroke-width="1.1"/>
<line x1="304.2" y1="278.7" x2="304.2" y2="361.6" stroke="#555" stroke-width="0.7"/>
<line x1="184.4" y1="361.6" x2="186.4" y2="361.6" stroke="#222" stroke-width="0.6"/><line x1="185.3" y1="358.28" x2="186.4" y2="358.28" stroke="#222" stroke-width="0.4"/><line x1="185.3" y1="354.97" x2="186.4" y2="354.97" stroke="#222" stroke-width="0.4"/><line x1="185.3" y1="351.65" x2="186.4" y2="351.65" stroke="#222" stroke-width="0.4"/><line x1="185.3" y1="348.34" x2="186.4" y2="348.34" stroke="#222" stroke-width="0.4"/><line x1="184.4" y1="345.02" x2="186.4" y2="345.02" stroke="#222" stroke-width="0.6"/><line x1="185.3" y1="341.7" x2="186.4" y2="341.7" stroke="#222" stroke-width="0.4"/><line x1="185.3" y1="338.39" x2="186.4" y2="338.39" stroke="#222" stroke-width="0.4"/><line x1="185.3" y1="335.07" x2="186.4" y2="335.07" stroke="#222" stroke-width="0.4"/><line x1="185.3" y1="331.76" x2="186.4" y2="331.76" stroke="#222" stroke-width="0.4"/><line x1="184.4" y1="328.44" x2="186.4" y2="328.44" stroke="#222" stroke-width="0.6"/><line x1="185.3" y1="325.12" x2="186.4" y2="325.12" stroke="#222" stroke-width="0.4"/><line x1="185.3" y1="321.81" x2="186.4" y2="321.81" stroke="#222" stroke-width="0.4"/><line x1="185.3" y1="318.49" x2="186.4" y2="318.49" stroke="#222" stroke-width="0.4"/><line x1="185.3" y1="315.18" x2="186.4" y2="315.18" stroke="#222" stroke-width="0.4"/><line x1="184.4" y1="311.86" x2="186.4" y2="311.86" stroke="#222" stroke-width="0.6"/><line x1="185.3" y1="308.54" x2="186.4" y2="308.54" stroke="#222" stroke-width="0.4"/><line x1="185.3" y1="305.23" x2="186.4" y2="305.23" stroke="#222" stroke-width="0.4"/><line x1="185.3" y1="301.91" x2="186.4" y2="301.91" stroke="#222" stroke-width="0.4"/><line x1="185.3" y1="298.6" x2="186.4" y2="298.6" stroke="#222" stroke-width="0.4"/><line x1="184.4" y1="295.28" x2="186.4" y2="295.28" stroke="#222" stroke-width="0.6"/><line x1="185.3" y1="291.96" x2="186.4" y2="291.96" stroke="#222" stroke-width="0.4"/><line x1="185.3" y1="288.65" x2="186.4" y2="288.65" stroke="#222" stroke-width="0.4"/><line x1="185.3" y1="285.33" x2="186.4" y2="285.33" stroke="#222" stroke-width="0.4"/><line x1="185.3" y1="282.02" x2="186.4" y2="282.02" stroke="#222" stroke-width="0.4"/><line x1="184.4" y1="278.7" x2="186.4" y2="278.7" stroke="#222" stroke-width="0.6"/>
<line x1="195.27" y1="361.6" x2="195.27" y2="362.8" stroke="#222" stroke-width="0.35"/><line x1="200.45" y1="361.6" x2="200.45" y2="362.8" stroke="#222" stroke-width="0.35"/><line x1="204.13" y1="361.6" x2="204.13" y2="362.8" stroke="#222" stroke-width="0.35"/><line x1="206.98" y1="361.6" x2="206.98" y2="362.8" stroke="#222" stroke-width="0.35"/><line x1="209.32" y1="361.6" x2="209.32" y2="362.8" stroke="#222" stroke-width="0.35"/><line x1="211.29" y1="361.6" x2="211.29" y2="362.8" stroke="#222" stroke-width="0.35"/><line x1="213" y1="361.6" x2="213" y2="362.8" stroke="#222" stroke-width="0.35"/><line x1="214.5" y1="361.6" x2="214.5" y2="362.8" stroke="#222" stroke-width="0.35"/><line x1="224.72" y1="361.6" x2="224.72" y2="362.8" stroke="#222" stroke-width="0.35"/><line x1="229.9" y1="361.6" x2="229.9" y2="362.8" stroke="#222" stroke-width="0.35"/><line x1="233.58" y1="361.6" x2="233.58" y2="362.8" stroke="#222" stroke-width="0.35"/><line x1="236.43" y1="361.6" x2="236.43" y2="362.8" stroke="#222" stroke-width="0.35"/><line x1="238.77" y1="361.6" x2="238.77" y2="362.8" stroke="#222" stroke-width="0.35"/><line x1="240.74" y1="361.6" x2="240.74" y2="362.8" stroke="#222" stroke-width="0.35"/><line x1="242.45" y1="361.6" x2="242.45" y2="362.8" stroke="#222" stroke-width="0.35"/><line x1="243.95" y1="361.6" x2="243.95" y2="362.8" stroke="#222" stroke-width="0.35"/><line x1="254.17" y1="361.6" x2="254.17" y2="362.8" stroke="#222" stroke-width="0.35"/><line x1="259.35" y1="361.6" x2="259.35" y2="362.8" stroke="#222" stroke-width="0.35"/><line x1="263.03" y1="361.6" x2="263.03" y2="362.8" stroke="#222" stroke-width="0.35"/><line x1="265.88" y1="361.6" x2="265.88" y2="362.8" stroke="#222" stroke-width="0.35"/><line x1="268.22" y1="361.6" x2="268.22" y2="362.8" stroke="#222" stroke-width="0.35"/><line x1="270.19" y1="361.6" x2="270.19" y2="362.8" stroke="#222" stroke-width="0.35"/><line x1="271.9" y1="361.6" x2="271.9" y2="362.8" stroke="#222" stroke-width="0.35"/><line x1="273.4" y1="361.6" x2="273.4" y2="362.8" stroke="#222" stroke-width="0.35"/><line x1="283.62" y1="361.6" x2="283.62" y2="362.8" stroke="#222" stroke-width="0.35"/><line x1="288.8" y1="361.6" x2="288.8" y2="362.8" stroke="#222" stroke-width="0.35"/><line x1="292.48" y1="361.6" x2="292.48" y2="362.8" stroke="#222" stroke-width="0.35"/><line x1="295.33" y1="361.6" x2="295.33" y2="362.8" stroke="#222" stroke-width="0.35"/><line x1="297.67" y1="361.6" x2="297.67" y2="362.8" stroke="#222" stroke-width="0.35"/><line x1="299.64" y1="361.6" x2="299.64" y2="362.8" stroke="#222" stroke-width="0.35"/><line x1="301.35" y1="361.6" x2="301.35" y2="362.8" stroke="#222" stroke-width="0.35"/><line x1="302.85" y1="361.6" x2="302.85" y2="362.8" stroke="#222" stroke-width="0.35"/><line x1="186.4" y1="361.6" x2="186.4" y2="363.6" stroke="#222" stroke-width="0.6"/><line x1="215.85" y1="361.6" x2="215.85" y2="363.6" stroke="#222" stroke-width="0.6"/><line x1="245.3" y1="361.6" x2="245.3" y2="363.6" stroke="#222" stroke-width="0.6"/><line x1="274.75" y1="361.6" x2="274.75" y2="363.6" stroke="#222" stroke-width="0.6"/><line x1="304.2" y1="361.6" x2="304.2" y2="363.6" stroke="#222" stroke-width="0.6"/>
<line x1="186.4" y1="313.4" x2="243.6" y2="313.4" stroke="#222" stroke-width="0.8"/><line x1="243.6" y1="307" x2="243.6" y2="320" stroke="#222" stroke-width="0.8"/>
<line x1="246.1" y1="293.5" x2="298.2" y2="293.5" stroke="#222" stroke-width="0.8"/><line x1="246.1" y1="287.7" x2="246.1" y2="299.5" stroke="#222" stroke-width="0.8"/><line x1="298.2" y1="287.7" x2="298.2" y2="299.5" stroke="#222" stroke-width="0.8"/>
<text x="213.6" y="296.6" font-family='"Liberation Serif", serif' font-size="10.1" text-anchor="middle" fill="#000" stroke="#000" stroke-width="0.2">64.34%</text>
<text x="272" y="290.8" font-family='"Liberation Serif", serif' font-size="10.1" text-anchor="middle" fill="#000" stroke="#000" stroke-width="0.2">25.09%</text>
<text x="188.29" y="373" font-family='"Liberation Sans", sans-serif' font-size="6.6" text-anchor="middle" fill="#222">10<tspan font-size="4.75" dy="-2.6">0</tspan></text><text x="216.79" y="373" font-family='"Liberation Sans", sans-serif' font-size="6.6" text-anchor="middle" fill="#222">10<tspan font-size="4.75" dy="-2.6">1</tspan></text><text x="245.71" y="373" font-family='"Liberation Sans", sans-serif' font-size="6.6" text-anchor="middle" fill="#222">10<tspan font-size="4.75" dy="-2.6">2</tspan></text><text x="274.64" y="373" font-family='"Liberation Sans", sans-serif' font-size="6.6" text-anchor="middle" fill="#222">10<tspan font-size="4.75" dy="-2.6">3</tspan></text><text x="303.14" y="373" font-family='"Liberation Sans", sans-serif' font-size="6.6" text-anchor="middle" fill="#222">10<tspan font-size="4.75" dy="-2.6">4</tspan></text><text x="245.7" y="379.5" font-family='"Liberation Sans", sans-serif' font-size="5.2" text-anchor="middle" fill="#333">FL2-H</text>
<polyline points="313.93,362.71 314.36,362.71 314.36,313.5 315,313.5 315,354.34 315.64,354.34 315.64,353.11 316.29,353.11 316.29,352.04 316.93,352.04 316.93,355.54 317.57,355.54 317.57,355.24 318.21,355.24 318.21,354.85 318.86,354.85 318.86,354.54 319.5,354.54 319.5,353.97 320.14,353.97 320.14,354.05 320.79,354.05 320.79,350.38 321.43,350.38 321.43,351.77 322.14,351.77 322.14,352.4 322.86,352.4 322.86,353 323.57,353 323.57,352.61 324.29,352.61 324.29,351.75 325,351.75 325,351.66 325.71,351.66 325.71,348.51 326.36,348.51 326.36,344.1 327,344.1 327,348.07 327.64,348.07 327.64,346.58 328.29,346.58 328.29,344.95 328.93,344.95 328.93,344.72 329.57,344.72 329.57,343.99 330.21,343.99 330.21,343.54 330.86,343.54 330.86,341.81 331.5,341.81 331.5,341.42 332.14,341.42 332.14,340.5 332.79,340.5 332.79,338.75 333.43,338.75 333.43,338.1 334.07,338.1 334.07,335.08 334.71,335.08 334.71,329.78 335.36,329.78 335.36,330.09 336,330.09 336,331.89 336.64,331.89 336.64,332.89 337.29,332.89 337.29,327.74 337.93,327.74 337.93,328.81 338.57,328.81 338.57,330.06 339.21,330.06 339.21,328.84 339.86,328.84 339.86,324.26 340.5,324.26 340.5,322.81 341.14,322.81 341.14,322.87 341.79,322.87 341.79,320.69 342.5,320.69 342.5,316.39 343.21,316.39 343.21,319.04 343.93,319.04 343.93,315.34 344.46,315.34 344.46,312.25 345,312.25 345,308.2 345.54,308.2 345.54,314.92 346.07,314.92 346.07,318.45 346.79,318.45 346.79,318.48 347.5,318.48 347.5,321.83 348.21,321.83 348.21,321.02 348.93,321.02 348.93,315.04 349.64,315.04 349.64,313.13 350.36,313.13 350.36,311.74 351,311.74 351,309.6 351.75,309.6 351.75,315.26 352.5,315.26 352.5,314.46 353.21,314.46 353.21,319.95 353.93,319.95 353.93,323.32 354.64,323.32 354.64,324.64 355.36,324.64 355.36,326.45 356.07,326.45 356.07,327.99 356.79,327.99 356.79,331.46 357.5,331.46 357.5,327.89 358.21,327.89 358.21,333.07 358.93,333.07 358.93,334.91 359.64,334.91 359.64,337.75 360.36,337.75 360.36,338.71 361.07,338.71 361.07,341.68 361.79,341.68 361.79,343.84 362.5,343.84 362.5,344.66 363.21,344.66 363.21,348.16 363.93,348.16 363.93,349.63 364.64,349.63 364.64,350.87 365.36,350.87 365.36,353.32 366.07,353.32 366.07,356.61 366.79,356.61 366.79,357.25 367.5,357.25 367.5,359.69 368.21,359.69 368.21,359.95 368.93,359.95 368.93,359.17 369.64,359.17 369.64,361.42 370.36,361.42 370.36,361.4 371.07,361.4 371.07,361.94 371.79,361.94 371.79,360.65 372.5,360.65 372.5,361.68 373.21,361.68 373.21,360.99 373.93,360.99 373.93,361.54 374.6,361.54 374.6,361.12 375.27,361.12 375.27,360.82 375.94,360.82 375.94,360.1 376.61,360.1 376.61,359.81 377.28,359.81 377.28,358.63 377.95,358.63 377.95,359.14 378.62,359.14 378.62,359.95 379.29,359.95 379.29,360.09 380,360.09 380,359.23 380.71,359.23 380.71,357.29 381.43,357.29 381.43,358.67 382.14,358.67 382.14,357.87 382.86,357.87 382.86,357.88 383.57,357.88 383.57,356.83 384.29,356.83 384.29,356.91 385,356.91 385,356.29 385.71,356.29 385.71,356.31 386.43,356.31 386.43,354.97 387.14,354.97 387.14,356.12 387.86,356.12 387.86,355.39 388.57,355.39 388.57,350.85 389.29,350.85 389.29,351.21 390,351.21 390,352.81 390.71,352.81 390.71,353.05 391.43,353.05 391.43,349.21 392.14,349.21 392.14,346.72 392.86,346.72 392.86,348.86 393.57,348.86 393.57,348.83 394.29,348.83 394.29,348.21 394.71,348.21 394.71,342.58 395.57,342.58 395.57,343.31 396.43,343.31 396.43,345.21 397.07,345.21 397.07,346.69 397.71,346.69 397.71,343.77 398.36,343.77 398.36,344.18 399,344.18 399,344.99 399.64,344.99 399.64,344.42 400.28,344.42 400.28,342.24 400.93,342.24 400.93,341.61 401.57,341.61 401.57,340.49 402.21,340.49 402.21,339.77 402.86,339.77 402.86,339.19 403.5,339.19 403.5,336.24 404.14,336.24 404.14,336.22 404.78,336.22 404.78,336.76 405.43,336.76 405.43,335.33 406.07,335.33 406.07,331.78 406.71,331.78 406.71,330.21 407.36,330.21 407.36,331.07 408,331.07 408,330.46 408.64,330.46 408.64,329.18 409.28,329.18 409.28,325.85 409.93,325.85 409.93,324.22 410.57,324.22 410.57,325.68 411.21,325.68 411.21,320.54 411.86,320.54 411.86,320.98 412.5,320.98 412.5,317.92 413.25,317.92 413.25,317.18 414,317.18 414,313.89 414.86,313.89 414.86,318.16 415.71,318.16 415.71,318.06 416.43,318.06 416.43,320.87 417.14,320.87 417.14,324.18 417.86,324.18 417.86,319.01 418.57,319.01 418.57,324.57 419.28,324.57 419.28,327.09 420,327.09 420,331.39 420.71,331.39 420.71,332.16 421.43,332.16 421.43,334.24 422.14,334.24 422.14,335.43 422.86,335.43 422.86,341.1 423.57,341.1 423.57,342.8 424.28,342.8 424.28,345.1 425,345.1 425,347.54 425.71,347.54 425.71,349.37 426.43,349.37 426.43,353.05 427.14,353.05 427.14,353.09 427.86,353.09 427.86,357.12 428.57,357.12 428.57,358.29 429.28,358.29 429.28,359.19 430,359.19 430,360.56 430.71,360.56 430.71,362.28 430.7,362.7 313.9,362.7" fill="#5a1fe6" stroke="#08021a" stroke-width="0.55"/>
<rect x="313.9" y="274.4" width="116.8" height="88.3" fill="none" stroke="#555" stroke-width="0.7"/>
<line x1="313.9" y1="274.4" x2="313.9" y2="362.7" stroke="#222" stroke-width="1.1"/>
<line x1="313.9" y1="362.7" x2="430.7" y2="362.7" stroke="#222" stroke-width="1.1"/>
<line x1="311.9" y1="362.7" x2="313.9" y2="362.7" stroke="#222" stroke-width="0.6"/><line x1="312.8" y1="359.17" x2="313.9" y2="359.17" stroke="#222" stroke-width="0.4"/><line x1="312.8" y1="355.64" x2="313.9" y2="355.64" stroke="#222" stroke-width="0.4"/><line x1="312.8" y1="352.1" x2="313.9" y2="352.1" stroke="#222" stroke-width="0.4"/><line x1="312.8" y1="348.57" x2="313.9" y2="348.57" stroke="#222" stroke-width="0.4"/><line x1="311.9" y1="345.04" x2="313.9" y2="345.04" stroke="#222" stroke-width="0.6"/><line x1="312.8" y1="341.51" x2="313.9" y2="341.51" stroke="#222" stroke-width="0.4"/><line x1="312.8" y1="337.98" x2="313.9" y2="337.98" stroke="#222" stroke-width="0.4"/><line x1="312.8" y1="334.44" x2="313.9" y2="334.44" stroke="#222" stroke-width="0.4"/><line x1="312.8" y1="330.91" x2="313.9" y2="330.91" stroke="#222" stroke-width="0.4"/><line x1="311.9" y1="327.38" x2="313.9" y2="327.38" stroke="#222" stroke-width="0.6"/><line x1="312.8" y1="323.85" x2="313.9" y2="323.85" stroke="#222" stroke-width="0.4"/><line x1="312.8" y1="320.32" x2="313.9" y2="320.32" stroke="#222" stroke-width="0.4"/><line x1="312.8" y1="316.78" x2="313.9" y2="316.78" stroke="#222" stroke-width="0.4"/><line x1="312.8" y1="313.25" x2="313.9" y2="313.25" stroke="#222" stroke-width="0.4"/><line x1="311.9" y1="309.72" x2="313.9" y2="309.72" stroke="#222" stroke-width="0.6"/><line x1="312.8" y1="306.19" x2="313.9" y2="306.19" stroke="#222" stroke-width="0.4"/><line x1="312.8" y1="302.66" x2="313.9" y2="302.66" stroke="#222" stroke-width="0.4"/><line x1="312.8" y1="299.12" x2="313.9" y2="299.12" stroke="#222" stroke-width="0.4"/><line x1="312.8" y1="295.59" x2="313.9" y2="295.59" stroke="#222" stroke-width="0.4"/><line x1="311.9" y1="292.06" x2="313.9" y2="292.06" stroke="#222" stroke-width="0.6"/><line x1="312.8" y1="288.53" x2="313.9" y2="288.53" stroke="#222" stroke-width="0.4"/><line x1="312.8" y1="285" x2="313.9" y2="285" stroke="#222" stroke-width="0.4"/><line x1="312.8" y1="281.46" x2="313.9" y2="281.46" stroke="#222" stroke-width="0.4"/><line x1="312.8" y1="277.93" x2="313.9" y2="277.93" stroke="#222" stroke-width="0.4"/><line x1="311.9" y1="274.4" x2="313.9" y2="274.4" stroke="#222" stroke-width="0.6"/>
<line x1="322.69" y1="362.7" x2="322.69" y2="363.9" stroke="#222" stroke-width="0.35"/><line x1="327.83" y1="362.7" x2="327.83" y2="363.9" stroke="#222" stroke-width="0.35"/><line x1="331.48" y1="362.7" x2="331.48" y2="363.9" stroke="#222" stroke-width="0.35"/><line x1="334.31" y1="362.7" x2="334.31" y2="363.9" stroke="#222" stroke-width="0.35"/><line x1="336.62" y1="362.7" x2="336.62" y2="363.9" stroke="#222" stroke-width="0.35"/><line x1="338.58" y1="362.7" x2="338.58" y2="363.9" stroke="#222" stroke-width="0.35"/><line x1="340.27" y1="362.7" x2="340.27" y2="363.9" stroke="#222" stroke-width="0.35"/><line x1="341.76" y1="362.7" x2="341.76" y2="363.9" stroke="#222" stroke-width="0.35"/><line x1="351.89" y1="362.7" x2="351.89" y2="363.9" stroke="#222" stroke-width="0.35"/><line x1="357.03" y1="362.7" x2="357.03" y2="363.9" stroke="#222" stroke-width="0.35"/><line x1="360.68" y1="362.7" x2="360.68" y2="363.9" stroke="#222" stroke-width="0.35"/><line x1="363.51" y1="362.7" x2="363.51" y2="363.9" stroke="#222" stroke-width="0.35"/><line x1="365.82" y1="362.7" x2="365.82" y2="363.9" stroke="#222" stroke-width="0.35"/><line x1="367.78" y1="362.7" x2="367.78" y2="363.9" stroke="#222" stroke-width="0.35"/><line x1="369.47" y1="362.7" x2="369.47" y2="363.9" stroke="#222" stroke-width="0.35"/><line x1="370.96" y1="362.7" x2="370.96" y2="363.9" stroke="#222" stroke-width="0.35"/><line x1="381.09" y1="362.7" x2="381.09" y2="363.9" stroke="#222" stroke-width="0.35"/><line x1="386.23" y1="362.7" x2="386.23" y2="363.9" stroke="#222" stroke-width="0.35"/><line x1="389.88" y1="362.7" x2="389.88" y2="363.9" stroke="#222" stroke-width="0.35"/><line x1="392.71" y1="362.7" x2="392.71" y2="363.9" stroke="#222" stroke-width="0.35"/><line x1="395.02" y1="362.7" x2="395.02" y2="363.9" stroke="#222" stroke-width="0.35"/><line x1="396.98" y1="362.7" x2="396.98" y2="363.9" stroke="#222" stroke-width="0.35"/><line x1="398.67" y1="362.7" x2="398.67" y2="363.9" stroke="#222" stroke-width="0.35"/><line x1="400.16" y1="362.7" x2="400.16" y2="363.9" stroke="#222" stroke-width="0.35"/><line x1="410.29" y1="362.7" x2="410.29" y2="363.9" stroke="#222" stroke-width="0.35"/><line x1="415.43" y1="362.7" x2="415.43" y2="363.9" stroke="#222" stroke-width="0.35"/><line x1="419.08" y1="362.7" x2="419.08" y2="363.9" stroke="#222" stroke-width="0.35"/><line x1="421.91" y1="362.7" x2="421.91" y2="363.9" stroke="#222" stroke-width="0.35"/><line x1="424.22" y1="362.7" x2="424.22" y2="363.9" stroke="#222" stroke-width="0.35"/><line x1="426.18" y1="362.7" x2="426.18" y2="363.9" stroke="#222" stroke-width="0.35"/><line x1="427.87" y1="362.7" x2="427.87" y2="363.9" stroke="#222" stroke-width="0.35"/><line x1="429.36" y1="362.7" x2="429.36" y2="363.9" stroke="#222" stroke-width="0.35"/><line x1="313.9" y1="362.7" x2="313.9" y2="364.7" stroke="#222" stroke-width="0.6"/><line x1="343.1" y1="362.7" x2="343.1" y2="364.7" stroke="#222" stroke-width="0.6"/><line x1="372.3" y1="362.7" x2="372.3" y2="364.7" stroke="#222" stroke-width="0.6"/><line x1="401.5" y1="362.7" x2="401.5" y2="364.7" stroke="#222" stroke-width="0.6"/><line x1="430.7" y1="362.7" x2="430.7" y2="364.7" stroke="#222" stroke-width="0.6"/>
<line x1="316.7" y1="288.8" x2="372.4" y2="288.8" stroke="#222" stroke-width="0.8"/><line x1="316.7" y1="282.4" x2="316.7" y2="294.1" stroke="#222" stroke-width="0.8"/><line x1="372.4" y1="282.4" x2="372.4" y2="303.8" stroke="#222" stroke-width="0.8"/>
<line x1="372.4" y1="298" x2="426.4" y2="298" stroke="#222" stroke-width="0.8"/><line x1="426.4" y1="292" x2="426.4" y2="303.8" stroke="#222" stroke-width="0.8"/>
<text x="339" y="285.9" font-family='"Liberation Serif", serif' font-size="10.1" text-anchor="middle" fill="#000" stroke="#000" stroke-width="0.2">55.90%</text>
<text x="398.6" y="292.3" font-family='"Liberation Serif", serif' font-size="10.1" text-anchor="middle" fill="#000" stroke="#000" stroke-width="0.2">41.80%</text>
<text x="316.07" y="374" font-family='"Liberation Sans", sans-serif' font-size="6.6" text-anchor="middle" fill="#222">10<tspan font-size="4.75" dy="-2.6">0</tspan></text><text x="344.36" y="374" font-family='"Liberation Sans", sans-serif' font-size="6.6" text-anchor="middle" fill="#222">10<tspan font-size="4.75" dy="-2.6">1</tspan></text><text x="372.86" y="374" font-family='"Liberation Sans", sans-serif' font-size="6.6" text-anchor="middle" fill="#222">10<tspan font-size="4.75" dy="-2.6">2</tspan></text><text x="401.78" y="374" font-family='"Liberation Sans", sans-serif' font-size="6.6" text-anchor="middle" fill="#222">10<tspan font-size="4.75" dy="-2.6">3</tspan></text><text x="429.64" y="374" font-family='"Liberation Sans", sans-serif' font-size="6.6" text-anchor="middle" fill="#222">10<tspan font-size="4.75" dy="-2.6">4</tspan></text><text x="373" y="380.5" font-family='"Liberation Sans", sans-serif' font-size="5.2" text-anchor="middle" fill="#333">FL2-H</text>
<polyline points="447.79,362.28 448.21,362.28 448.21,316.57 448.86,316.57 448.86,357.95 449.53,357.95 449.53,356.47 450.2,356.47 450.2,358.44 450.88,358.44 450.88,357.99 451.55,357.99 451.55,357.33 452.22,357.33 452.22,355.74 452.9,355.74 452.9,357.91 453.57,357.91 453.57,356.88 454.29,356.88 454.29,357.26 455,357.26 455,357.35 455.71,357.35 455.71,355.94 456.43,355.94 456.43,356.59 457.14,356.59 457.14,355.56 457.86,355.56 457.86,355.15 458.57,355.15 458.57,355.79 459.29,355.79 459.29,354.17 460,354.17 460,354.02 460.71,354.02 460.71,353.91 461.43,353.91 461.43,352.42 462.14,352.42 462.14,351.8 462.86,351.8 462.86,352.86 463.57,352.86 463.57,353.72 464.29,353.72 464.29,354.32 464.96,354.32 464.96,355.96 465.62,355.96 465.62,356.97 466.29,356.97 466.29,356.25 466.96,356.25 466.96,356.77 467.63,356.77 467.63,356.54 468.3,356.54 468.3,356.68 468.97,356.68 468.97,357.72 469.64,357.72 469.64,356.05 470.31,356.05 470.31,357.62 470.98,357.62 470.98,357.35 471.65,357.35 471.65,357.67 472.32,357.67 472.32,356.04 472.99,356.04 472.99,358.31 473.66,358.31 473.66,357.49 474.33,357.49 474.33,358.88 475,358.88 475,358.28 475.71,358.28 475.71,358.79 476.43,358.79 476.43,358.62 477.14,358.62 477.14,359.05 477.86,359.05 477.86,357.73 478.57,357.73 478.57,359.03 479.29,359.03 479.29,358.42 480,358.42 480,359.84 480.71,359.84 480.71,359.22 481.43,359.22 481.43,360.09 482.14,360.09 482.14,359.46 482.86,359.46 482.86,360.32 483.57,360.32 483.57,360.66 484.29,360.66 484.29,360.66 485,360.66 485,361.41 485.71,361.41 485.71,361.72 486.43,361.72 486.43,361.14 487.14,361.14 487.14,361.08 487.86,361.08 487.86,361.39 488.57,361.39 488.57,361.96 489.29,361.96 489.29,361.3 490,361.3 490,361.54 490.71,361.54 490.71,361.58 491.43,361.58 491.43,361.55 492.14,361.55 492.14,361.93 492.86,361.93 492.86,361.98 493.57,361.98 493.57,362.02 494.29,362.02 494.29,362.07 495,362.07 495,362.05 495.71,362.05 495.71,362.03 496.43,362.03 496.43,362.02 497.14,362.02 497.14,362 497.86,362 497.86,361.98 498.57,361.98 498.57,361.96 499.29,361.96 499.29,361.95 500,361.95 500,361.93 500.71,361.93 500.71,361.91 501.43,361.91 501.43,361.89 502.14,361.89 502.14,360.88 502.86,360.88 502.86,361.75 503.53,361.75 503.53,361.81 504.2,361.81 504.2,361.74 504.87,361.74 504.87,360.97 505.54,360.97 505.54,361.55 506.2,361.55 506.2,361.44 506.87,361.44 506.87,361.02 507.54,361.02 507.54,360.85 508.21,360.85 508.21,360.58 508.93,360.58 508.93,360.21 509.64,360.21 509.64,359.96 510.36,359.96 510.36,358.41 511.07,358.41 511.07,359 511.79,359 511.79,357.24 512.5,357.24 512.5,356.79 513.14,356.79 513.14,356.72 513.79,356.72 513.79,353.69 514.43,353.69 514.43,355.17 515.07,355.17 515.07,353.36 515.71,353.36 515.71,351.56 516.36,351.56 516.36,351.14 517,351.14 517,351.51 517.64,351.51 517.64,349.92 518.29,349.92 518.29,347.98 518.93,347.98 518.93,347.21 519.64,347.21 519.64,346.25 520.36,346.25 520.36,343.44 521.07,343.44 521.07,338.12 521.79,338.12 521.79,339.36 522.5,339.36 522.5,334.52 523.21,334.52 523.21,333.38 523.93,333.38 523.93,329.17 524.64,329.17 524.64,329.26 525.36,329.26 525.36,323.51 526.07,323.51 526.07,322.85 526.79,322.85 526.79,320.47 527.5,320.47 527.5,316.54 528.21,316.54 528.21,310.45 528.93,310.45 528.93,310.33 529.64,310.33 529.64,307.69 530.36,307.69 530.36,301.71 531.07,301.71 531.07,302.14 531.78,302.14 531.78,299.18 532.5,299.18 532.5,295.1 533.21,295.1 533.21,288.83 533.93,288.83 533.93,285.07 534.68,285.07 534.68,282.11 535.43,282.11 535.43,275.16 536.28,275.16 536.28,276.41 537.14,276.41 537.14,276.67 537.68,276.67 537.68,278.56 538.21,278.56 538.21,284.31 538.75,284.31 538.75,291.59 539.28,291.59 539.28,298.71 539.82,298.71 539.82,305.09 540.36,305.09 540.36,312.35 540.89,312.35 540.89,318.77 541.43,318.77 541.43,325.08 542.28,325.08 542.28,329.74 543.14,329.74 543.14,333.81 543.89,333.81 543.89,338.17 544.64,338.17 544.64,341.29 545.36,341.29 545.36,341.3 546.07,341.3 546.07,348.37 546.78,348.37 546.78,349.98 547.5,349.98 547.5,351.5 548.21,351.5 548.21,349.93 548.93,349.93 548.93,354.38 549.64,354.38 549.64,354.83 550.36,354.83 550.36,354.1 551.07,354.1 551.07,357.75 551.71,357.75 551.71,358.09 552.36,358.09 552.36,357.7 553,357.7 553,357.81 553.64,357.81 553.64,358.19 554.28,358.19 554.28,357.45 554.93,357.45 554.93,357.87 555.57,357.87 555.57,357.45 556.21,357.45 556.21,356.64 556.86,356.64 556.86,356.45 557.5,356.45 557.5,356.87 558.21,356.87 558.21,355.58 558.93,355.58 558.93,355.24 559.64,355.24 559.64,356.02 560.39,356.02 560.39,356.64 561.14,356.64 561.14,358.81 561.84,358.81 561.84,359.1 562.53,359.1 562.53,358.8 563.23,358.8 563.23,360.93 563.93,360.93 563.93,362.03 564.68,362.03 564.68,361.96 565.43,361.96 565.43,362.28 565.4,362.3 447.8,362.3" fill="#5a1fe6" stroke="#08021a" stroke-width="0.55"/>
<rect x="447.8" y="275.9" width="117.6" height="86.4" fill="none" stroke="#555" stroke-width="0.7"/>
<line x1="447.8" y1="275.9" x2="447.8" y2="362.3" stroke="#222" stroke-width="1.1"/>
<line x1="447.8" y1="362.3" x2="565.4" y2="362.3" stroke="#222" stroke-width="1.1"/>
<line x1="445.8" y1="362.3" x2="447.8" y2="362.3" stroke="#222" stroke-width="0.6"/><line x1="446.7" y1="358.84" x2="447.8" y2="358.84" stroke="#222" stroke-width="0.4"/><line x1="446.7" y1="355.39" x2="447.8" y2="355.39" stroke="#222" stroke-width="0.4"/><line x1="446.7" y1="351.93" x2="447.8" y2="351.93" stroke="#222" stroke-width="0.4"/><line x1="446.7" y1="348.48" x2="447.8" y2="348.48" stroke="#222" stroke-width="0.4"/><line x1="445.8" y1="345.02" x2="447.8" y2="345.02" stroke="#222" stroke-width="0.6"/><line x1="446.7" y1="341.56" x2="447.8" y2="341.56" stroke="#222" stroke-width="0.4"/><line x1="446.7" y1="338.11" x2="447.8" y2="338.11" stroke="#222" stroke-width="0.4"/><line x1="446.7" y1="334.65" x2="447.8" y2="334.65" stroke="#222" stroke-width="0.4"/><line x1="446.7" y1="331.2" x2="447.8" y2="331.2" stroke="#222" stroke-width="0.4"/><line x1="445.8" y1="327.74" x2="447.8" y2="327.74" stroke="#222" stroke-width="0.6"/><line x1="446.7" y1="324.28" x2="447.8" y2="324.28" stroke="#222" stroke-width="0.4"/><line x1="446.7" y1="320.83" x2="447.8" y2="320.83" stroke="#222" stroke-width="0.4"/><line x1="446.7" y1="317.37" x2="447.8" y2="317.37" stroke="#222" stroke-width="0.4"/><line x1="446.7" y1="313.92" x2="447.8" y2="313.92" stroke="#222" stroke-width="0.4"/><line x1="445.8" y1="310.46" x2="447.8" y2="310.46" stroke="#222" stroke-width="0.6"/><line x1="446.7" y1="307" x2="447.8" y2="307" stroke="#222" stroke-width="0.4"/><line x1="446.7" y1="303.55" x2="447.8" y2="303.55" stroke="#222" stroke-width="0.4"/><line x1="446.7" y1="300.09" x2="447.8" y2="300.09" stroke="#222" stroke-width="0.4"/><line x1="446.7" y1="296.64" x2="447.8" y2="296.64" stroke="#222" stroke-width="0.4"/><line x1="445.8" y1="293.18" x2="447.8" y2="293.18" stroke="#222" stroke-width="0.6"/><line x1="446.7" y1="289.72" x2="447.8" y2="289.72" stroke="#222" stroke-width="0.4"/><line x1="446.7" y1="286.27" x2="447.8" y2="286.27" stroke="#222" stroke-width="0.4"/><line x1="446.7" y1="282.81" x2="447.8" y2="282.81" stroke="#222" stroke-width="0.4"/><line x1="446.7" y1="279.36" x2="447.8" y2="279.36" stroke="#222" stroke-width="0.4"/><line x1="445.8" y1="275.9" x2="447.8" y2="275.9" stroke="#222" stroke-width="0.6"/>
<line x1="456.65" y1="362.3" x2="456.65" y2="363.5" stroke="#222" stroke-width="0.35"/><line x1="461.83" y1="362.3" x2="461.83" y2="363.5" stroke="#222" stroke-width="0.35"/><line x1="465.5" y1="362.3" x2="465.5" y2="363.5" stroke="#222" stroke-width="0.35"/><line x1="468.35" y1="362.3" x2="468.35" y2="363.5" stroke="#222" stroke-width="0.35"/><line x1="470.68" y1="362.3" x2="470.68" y2="363.5" stroke="#222" stroke-width="0.35"/><line x1="472.65" y1="362.3" x2="472.65" y2="363.5" stroke="#222" stroke-width="0.35"/><line x1="474.35" y1="362.3" x2="474.35" y2="363.5" stroke="#222" stroke-width="0.35"/><line x1="475.85" y1="362.3" x2="475.85" y2="363.5" stroke="#222" stroke-width="0.35"/><line x1="486.05" y1="362.3" x2="486.05" y2="363.5" stroke="#222" stroke-width="0.35"/><line x1="491.23" y1="362.3" x2="491.23" y2="363.5" stroke="#222" stroke-width="0.35"/><line x1="494.9" y1="362.3" x2="494.9" y2="363.5" stroke="#222" stroke-width="0.35"/><line x1="497.75" y1="362.3" x2="497.75" y2="363.5" stroke="#222" stroke-width="0.35"/><line x1="500.08" y1="362.3" x2="500.08" y2="363.5" stroke="#222" stroke-width="0.35"/><line x1="502.05" y1="362.3" x2="502.05" y2="363.5" stroke="#222" stroke-width="0.35"/><line x1="503.75" y1="362.3" x2="503.75" y2="363.5" stroke="#222" stroke-width="0.35"/><line x1="505.25" y1="362.3" x2="505.25" y2="363.5" stroke="#222" stroke-width="0.35"/><line x1="515.45" y1="362.3" x2="515.45" y2="363.5" stroke="#222" stroke-width="0.35"/><line x1="520.63" y1="362.3" x2="520.63" y2="363.5" stroke="#222" stroke-width="0.35"/><line x1="524.3" y1="362.3" x2="524.3" y2="363.5" stroke="#222" stroke-width="0.35"/><line x1="527.15" y1="362.3" x2="527.15" y2="363.5" stroke="#222" stroke-width="0.35"/><line x1="529.48" y1="362.3" x2="529.48" y2="363.5" stroke="#222" stroke-width="0.35"/><line x1="531.45" y1="362.3" x2="531.45" y2="363.5" stroke="#222" stroke-width="0.35"/><line x1="533.15" y1="362.3" x2="533.15" y2="363.5" stroke="#222" stroke-width="0.35"/><line x1="534.65" y1="362.3" x2="534.65" y2="363.5" stroke="#222" stroke-width="0.35"/><line x1="544.85" y1="362.3" x2="544.85" y2="363.5" stroke="#222" stroke-width="0.35"/><line x1="550.03" y1="362.3" x2="550.03" y2="363.5" stroke="#222" stroke-width="0.35"/><line x1="553.7" y1="362.3" x2="553.7" y2="363.5" stroke="#222" stroke-width="0.35"/><line x1="556.55" y1="362.3" x2="556.55" y2="363.5" stroke="#222" stroke-width="0.35"/><line x1="558.88" y1="362.3" x2="558.88" y2="363.5" stroke="#222" stroke-width="0.35"/><line x1="560.85" y1="362.3" x2="560.85" y2="363.5" stroke="#222" stroke-width="0.35"/><line x1="562.55" y1="362.3" x2="562.55" y2="363.5" stroke="#222" stroke-width="0.35"/><line x1="564.05" y1="362.3" x2="564.05" y2="363.5" stroke="#222" stroke-width="0.35"/><line x1="447.8" y1="362.3" x2="447.8" y2="364.3" stroke="#222" stroke-width="0.6"/><line x1="477.2" y1="362.3" x2="477.2" y2="364.3" stroke="#222" stroke-width="0.6"/><line x1="506.6" y1="362.3" x2="506.6" y2="364.3" stroke="#222" stroke-width="0.6"/><line x1="536" y1="362.3" x2="536" y2="364.3" stroke="#222" stroke-width="0.6"/><line x1="565.4" y1="362.3" x2="565.4" y2="364.3" stroke="#222" stroke-width="0.6"/>
<line x1="450.4" y1="296.3" x2="495.4" y2="296.3" stroke="#222" stroke-width="0.8"/><line x1="450.4" y1="290.9" x2="450.4" y2="301.6" stroke="#222" stroke-width="0.8"/><line x1="495.4" y1="281.3" x2="495.4" y2="301.6" stroke="#222" stroke-width="0.8"/>
<line x1="495.4" y1="286.2" x2="557.5" y2="286.2" stroke="#222" stroke-width="0.8"/><line x1="557.5" y1="281.3" x2="557.5" y2="292" stroke="#222" stroke-width="0.8"/>
<text x="470.7" y="286.2" font-family='"Liberation Serif", serif' font-size="10.1" text-anchor="middle" fill="#000" stroke="#000" stroke-width="0.2">6.11%</text>
<text x="514" y="286.2" font-family='"Liberation Serif", serif' font-size="10.1" text-anchor="middle" fill="#000" stroke="#000" stroke-width="0.2">91.44%</text>
<rect x="532.3" y="288.6" width="4.4" height="6" fill="#fff"/>
<text x="534.5" y="293.8" font-family='"Liberation Sans", sans-serif' font-size="5.5" text-anchor="middle" fill="#335">2</text>
<text x="449.71" y="373" font-family='"Liberation Sans", sans-serif' font-size="6.6" text-anchor="middle" fill="#222">10<tspan font-size="4.75" dy="-2.6">0</tspan></text><text x="478.64" y="373" font-family='"Liberation Sans", sans-serif' font-size="6.6" text-anchor="middle" fill="#222">10<tspan font-size="4.75" dy="-2.6">1</tspan></text><text x="507.14" y="373" font-family='"Liberation Sans", sans-serif' font-size="6.6" text-anchor="middle" fill="#222">10<tspan font-size="4.75" dy="-2.6">2</tspan></text><text x="536.07" y="373" font-family='"Liberation Sans", sans-serif' font-size="6.6" text-anchor="middle" fill="#222">10<tspan font-size="4.75" dy="-2.6">3</tspan></text><text x="564.36" y="373" font-family='"Liberation Sans", sans-serif' font-size="6.6" text-anchor="middle" fill="#222">10<tspan font-size="4.75" dy="-2.6">4</tspan></text><text x="506" y="379.5" font-family='"Liberation Sans", sans-serif' font-size="5.2" text-anchor="middle" fill="#333">FL2-H</text>
<polyline points="577.37,361.43 577.79,361.43 577.79,316.41 578.2,316.41 578.2,339.7 578.82,339.7 578.82,359.75 579.56,359.75 579.56,357.98 580.3,357.98 580.3,359.73 581.04,359.73 581.04,358.44 581.78,358.44 581.78,359.41 582.52,359.41 582.52,358.42 583.26,358.42 583.26,359.6 584,359.6 584,359.63 584.69,359.63 584.69,358.39 585.38,358.39 585.38,358.21 586.07,358.21 586.07,359.49 586.76,359.49 586.76,358.65 587.45,358.65 587.45,358.8 588.14,358.8 588.14,358.32 588.83,358.32 588.83,358.73 589.52,358.73 589.52,358.84 590.21,358.84 590.21,358.14 590.9,358.14 590.9,358.07 591.6,358.07 591.6,357.39 592.29,357.39 592.29,357.76 592.98,357.76 592.98,359.27 593.67,359.27 593.67,358.91 594.36,358.91 594.36,359.47 595.05,359.47 595.05,358.69 595.74,358.69 595.74,359.92 596.43,359.92 596.43,358.82 597.12,358.82 597.12,359.19 597.81,359.19 597.81,358.23 598.5,358.23 598.5,359.72 599.19,359.72 599.19,359.82 599.88,359.82 599.88,359.14 600.57,359.14 600.57,359.47 601.26,359.47 601.26,357.81 601.95,357.81 601.95,358.53 602.64,358.53 602.64,358.49 603.33,358.49 603.33,359.17 604.02,359.17 604.02,359.03 604.71,359.03 604.71,359.38 605.4,359.38 605.4,359.29 606.1,359.29 606.1,359.2 606.79,359.2 606.79,359.93 607.48,359.93 607.48,359.57 608.17,359.57 608.17,359.03 608.86,359.03 608.86,359.93 609.55,359.93 609.55,360.49 610.24,360.49 610.24,360.16 610.93,360.16 610.93,359.59 611.62,359.59 611.62,360.6 612.31,360.6 612.31,359.13 613,359.13 613,360.62 613.69,360.62 613.69,359.68 614.38,359.68 614.38,360.26 615.07,360.26 615.07,360.91 615.76,360.91 615.76,360.92 616.45,360.92 616.45,360.53 617.14,360.53 617.14,360.56 617.83,360.56 617.83,360.51 618.52,360.51 618.52,360.5 619.21,360.5 619.21,361.01 619.9,361.01 619.9,360.63 620.6,360.63 620.6,360.3 621.29,360.3 621.29,360.9 621.98,360.9 621.98,360.56 622.67,360.56 622.67,360.92 623.36,360.92 623.36,360.84 624.05,360.84 624.05,360.6 624.74,360.6 624.74,360.55 625.43,360.55 625.43,360.97 626.12,360.97 626.12,360.59 626.81,360.59 626.81,360.9 627.5,360.9 627.5,360.38 628.19,360.38 628.19,360.56 628.88,360.56 628.88,360.71 629.57,360.71 629.57,360.84 630.26,360.84 630.26,360.57 630.95,360.57 630.95,360.87 631.64,360.87 631.64,360.52 632.33,360.52 632.33,360.94 633.02,360.94 633.02,361.01 633.71,361.01 633.71,360.59 634.4,360.59 634.4,360.15 635.1,360.15 635.1,360.69 635.79,360.69 635.79,360.34 636.48,360.34 636.48,360.24 637.17,360.24 637.17,360.15 637.86,360.15 637.86,359.91 638.55,359.91 638.55,359.63 639.24,359.63 639.24,359.4 639.93,359.4 639.93,358.54 640.62,358.54 640.62,358.72 641.31,358.72 641.31,358.23 642,358.23 642,358.44 642.78,358.44 642.78,356.45 643.55,356.45 643.55,355.51 644.33,355.51 644.33,355.54 645.11,355.54 645.11,353.72 645.88,353.72 645.88,354.03 646.66,354.03 646.66,353.29 647.44,353.29 647.44,349.52 648.21,349.52 648.21,349.19 648.99,349.19 648.99,347.88 649.77,347.88 649.77,344.37 650.54,344.37 650.54,344.13 651.32,344.13 651.32,343.88 652.1,343.88 652.1,340.97 652.87,340.97 652.87,339.98 653.65,339.98 653.65,337.16 654.43,337.16 654.43,336.67 655.21,336.67 655.21,336.14 655.98,336.14 655.98,333.03 656.76,333.03 656.76,330.59 657.54,330.59 657.54,327.4 657.95,327.4 657.95,324.41 658.78,324.41 658.78,323.77 659.61,323.77 659.61,323.39 660.3,323.39 660.3,321.82 660.99,321.82 660.99,318.34 661.68,318.34 661.68,313.97 662.37,313.97 662.37,311.49 663.06,311.49 663.06,306.61 663.75,306.61 663.75,304.59 664.79,304.59 664.79,290.4 665.82,290.4 665.82,296.2 666.86,296.2 666.86,282.51 667.89,282.51 667.89,279.22 668.62,279.22 668.62,278.32 669.34,278.32 669.34,280.01 669.96,280.01 669.96,284.4 670.59,284.4 670.59,286.21 671.31,286.21 671.31,295.28 672.04,295.28 672.04,301.57 672.76,301.57 672.76,307.88 673.49,307.88 673.49,314.34 674.31,314.34 674.31,317.57 675.14,317.57 675.14,325.74 675.97,325.74 675.97,331.41 676.8,331.41 676.8,336.16 677.52,336.16 677.52,340.88 678.25,340.88 678.25,342.17 679.08,342.17 679.08,348.8 679.91,348.8 679.91,350.08 680.53,350.08 680.53,351.93 681.15,351.93 681.15,353.46 681.77,353.46 681.77,354.11 682.39,354.11 682.39,355.01 683.17,355.01 683.17,356.09 683.95,356.09 683.95,355.73 684.72,355.73 684.72,355.85 685.5,355.85 685.5,357.09 686.28,357.09 686.28,356.41 687.05,356.41 687.05,357.07 687.83,357.07 687.83,356.34 688.61,356.34 688.61,356.21 689.3,356.21 689.3,354.67 689.99,354.67 689.99,354.64 690.68,354.64 690.68,350.91 691.4,350.91 691.4,355.42 692.13,355.42 692.13,355.55 692.96,355.55 692.96,359.33 693.79,359.33 693.79,360.28 694.48,360.28 694.48,361.15 695.17,361.15 695.17,361.29 695.86,361.29 695.86,361.43 695.8,361.4 577.4,361.4" fill="#5a1fe6" stroke="#08021a" stroke-width="0.55"/>
<rect x="577.4" y="277.5" width="118.4" height="83.9" fill="none" stroke="#555" stroke-width="0.7"/>
<line x1="577.4" y1="277.5" x2="577.4" y2="361.4" stroke="#222" stroke-width="1.1"/>
<line x1="577.4" y1="361.4" x2="695.8" y2="361.4" stroke="#222" stroke-width="1.1"/>
<line x1="575.4" y1="361.4" x2="577.4" y2="361.4" stroke="#222" stroke-width="0.6"/><line x1="576.3" y1="358.04" x2="577.4" y2="358.04" stroke="#222" stroke-width="0.4"/><line x1="576.3" y1="354.69" x2="577.4" y2="354.69" stroke="#222" stroke-width="0.4"/><line x1="576.3" y1="351.33" x2="577.4" y2="351.33" stroke="#222" stroke-width="0.4"/><line x1="576.3" y1="347.98" x2="577.4" y2="347.98" stroke="#222" stroke-width="0.4"/><line x1="575.4" y1="344.62" x2="577.4" y2="344.62" stroke="#222" stroke-width="0.6"/><line x1="576.3" y1="341.26" x2="577.4" y2="341.26" stroke="#222" stroke-width="0.4"/><line x1="576.3" y1="337.91" x2="577.4" y2="337.91" stroke="#222" stroke-width="0.4"/><line x1="576.3" y1="334.55" x2="577.4" y2="334.55" stroke="#222" stroke-width="0.4"/><line x1="576.3" y1="331.2" x2="577.4" y2="331.2" stroke="#222" stroke-width="0.4"/><line x1="575.4" y1="327.84" x2="577.4" y2="327.84" stroke="#222" stroke-width="0.6"/><line x1="576.3" y1="324.48" x2="577.4" y2="324.48" stroke="#222" stroke-width="0.4"/><line x1="576.3" y1="321.13" x2="577.4" y2="321.13" stroke="#222" stroke-width="0.4"/><line x1="576.3" y1="317.77" x2="577.4" y2="317.77" stroke="#222" stroke-width="0.4"/><line x1="576.3" y1="314.42" x2="577.4" y2="314.42" stroke="#222" stroke-width="0.4"/><line x1="575.4" y1="311.06" x2="577.4" y2="311.06" stroke="#222" stroke-width="0.6"/><line x1="576.3" y1="307.7" x2="577.4" y2="307.7" stroke="#222" stroke-width="0.4"/><line x1="576.3" y1="304.35" x2="577.4" y2="304.35" stroke="#222" stroke-width="0.4"/><line x1="576.3" y1="300.99" x2="577.4" y2="300.99" stroke="#222" stroke-width="0.4"/><line x1="576.3" y1="297.64" x2="577.4" y2="297.64" stroke="#222" stroke-width="0.4"/><line x1="575.4" y1="294.28" x2="577.4" y2="294.28" stroke="#222" stroke-width="0.6"/><line x1="576.3" y1="290.92" x2="577.4" y2="290.92" stroke="#222" stroke-width="0.4"/><line x1="576.3" y1="287.57" x2="577.4" y2="287.57" stroke="#222" stroke-width="0.4"/><line x1="576.3" y1="284.21" x2="577.4" y2="284.21" stroke="#222" stroke-width="0.4"/><line x1="576.3" y1="280.86" x2="577.4" y2="280.86" stroke="#222" stroke-width="0.4"/><line x1="575.4" y1="277.5" x2="577.4" y2="277.5" stroke="#222" stroke-width="0.6"/>
<line x1="586.31" y1="361.4" x2="586.31" y2="362.6" stroke="#222" stroke-width="0.35"/><line x1="591.52" y1="361.4" x2="591.52" y2="362.6" stroke="#222" stroke-width="0.35"/><line x1="595.22" y1="361.4" x2="595.22" y2="362.6" stroke="#222" stroke-width="0.35"/><line x1="598.09" y1="361.4" x2="598.09" y2="362.6" stroke="#222" stroke-width="0.35"/><line x1="600.43" y1="361.4" x2="600.43" y2="362.6" stroke="#222" stroke-width="0.35"/><line x1="602.41" y1="361.4" x2="602.41" y2="362.6" stroke="#222" stroke-width="0.35"/><line x1="604.13" y1="361.4" x2="604.13" y2="362.6" stroke="#222" stroke-width="0.35"/><line x1="605.65" y1="361.4" x2="605.65" y2="362.6" stroke="#222" stroke-width="0.35"/><line x1="615.91" y1="361.4" x2="615.91" y2="362.6" stroke="#222" stroke-width="0.35"/><line x1="621.12" y1="361.4" x2="621.12" y2="362.6" stroke="#222" stroke-width="0.35"/><line x1="624.82" y1="361.4" x2="624.82" y2="362.6" stroke="#222" stroke-width="0.35"/><line x1="627.69" y1="361.4" x2="627.69" y2="362.6" stroke="#222" stroke-width="0.35"/><line x1="630.03" y1="361.4" x2="630.03" y2="362.6" stroke="#222" stroke-width="0.35"/><line x1="632.01" y1="361.4" x2="632.01" y2="362.6" stroke="#222" stroke-width="0.35"/><line x1="633.73" y1="361.4" x2="633.73" y2="362.6" stroke="#222" stroke-width="0.35"/><line x1="635.25" y1="361.4" x2="635.25" y2="362.6" stroke="#222" stroke-width="0.35"/><line x1="645.51" y1="361.4" x2="645.51" y2="362.6" stroke="#222" stroke-width="0.35"/><line x1="650.72" y1="361.4" x2="650.72" y2="362.6" stroke="#222" stroke-width="0.35"/><line x1="654.42" y1="361.4" x2="654.42" y2="362.6" stroke="#222" stroke-width="0.35"/><line x1="657.29" y1="361.4" x2="657.29" y2="362.6" stroke="#222" stroke-width="0.35"/><line x1="659.63" y1="361.4" x2="659.63" y2="362.6" stroke="#222" stroke-width="0.35"/><line x1="661.61" y1="361.4" x2="661.61" y2="362.6" stroke="#222" stroke-width="0.35"/><line x1="663.33" y1="361.4" x2="663.33" y2="362.6" stroke="#222" stroke-width="0.35"/><line x1="664.85" y1="361.4" x2="664.85" y2="362.6" stroke="#222" stroke-width="0.35"/><line x1="675.11" y1="361.4" x2="675.11" y2="362.6" stroke="#222" stroke-width="0.35"/><line x1="680.32" y1="361.4" x2="680.32" y2="362.6" stroke="#222" stroke-width="0.35"/><line x1="684.02" y1="361.4" x2="684.02" y2="362.6" stroke="#222" stroke-width="0.35"/><line x1="686.89" y1="361.4" x2="686.89" y2="362.6" stroke="#222" stroke-width="0.35"/><line x1="689.23" y1="361.4" x2="689.23" y2="362.6" stroke="#222" stroke-width="0.35"/><line x1="691.21" y1="361.4" x2="691.21" y2="362.6" stroke="#222" stroke-width="0.35"/><line x1="692.93" y1="361.4" x2="692.93" y2="362.6" stroke="#222" stroke-width="0.35"/><line x1="694.45" y1="361.4" x2="694.45" y2="362.6" stroke="#222" stroke-width="0.35"/><line x1="577.4" y1="361.4" x2="577.4" y2="363.4" stroke="#222" stroke-width="0.6"/><line x1="607" y1="361.4" x2="607" y2="363.4" stroke="#222" stroke-width="0.6"/><line x1="636.6" y1="361.4" x2="636.6" y2="363.4" stroke="#222" stroke-width="0.6"/><line x1="666.2" y1="361.4" x2="666.2" y2="363.4" stroke="#222" stroke-width="0.6"/><line x1="695.8" y1="361.4" x2="695.8" y2="363.4" stroke="#222" stroke-width="0.6"/>
<line x1="579.9" y1="298.7" x2="625.4" y2="298.7" stroke="#222" stroke-width="0.8"/><line x1="579.9" y1="293" x2="579.9" y2="303.4" stroke="#222" stroke-width="0.8"/><line x1="625.4" y1="282.7" x2="625.4" y2="303.4" stroke="#222" stroke-width="0.8"/>
<line x1="625.4" y1="288.3" x2="687.6" y2="288.3" stroke="#222" stroke-width="0.8"/><line x1="687.6" y1="282.7" x2="687.6" y2="294.1" stroke="#222" stroke-width="0.8"/>
<text x="598.5" y="294.2" font-family='"Liberation Serif", serif' font-size="10.1" text-anchor="middle" fill="#000" stroke="#000" stroke-width="0.2">1.86%</text>
<text x="643.4" y="287.6" font-family='"Liberation Serif", serif' font-size="10.1" text-anchor="middle" fill="#000" stroke="#000" stroke-width="0.2">96.78%</text>
<rect x="670.3" y="291" width="2.4" height="5" fill="#fff"/>
<text x="578.82" y="372.6" font-family='"Liberation Sans", sans-serif' font-size="6.6" text-anchor="middle" fill="#222">10<tspan font-size="4.75" dy="-2.6">0</tspan></text><text x="607.82" y="372.6" font-family='"Liberation Sans", sans-serif' font-size="6.6" text-anchor="middle" fill="#222">10<tspan font-size="4.75" dy="-2.6">1</tspan></text><text x="636.82" y="372.6" font-family='"Liberation Sans", sans-serif' font-size="6.6" text-anchor="middle" fill="#222">10<tspan font-size="4.75" dy="-2.6">2</tspan></text><text x="665.82" y="372.6" font-family='"Liberation Sans", sans-serif' font-size="6.6" text-anchor="middle" fill="#222">10<tspan font-size="4.75" dy="-2.6">3</tspan></text><text x="695.86" y="372.6" font-family='"Liberation Sans", sans-serif' font-size="6.6" text-anchor="middle" fill="#222">10<tspan font-size="4.75" dy="-2.6">4</tspan></text><text x="636.8" y="378.6" font-family='"Liberation Sans", sans-serif' font-size="5.2" text-anchor="middle" fill="#333">FL2-H</text>
<!-- panel D -->
<defs><filter id="b1" x="-5%" y="-5%" width="110%" height="110%"><feGaussianBlur stdDeviation="0.6"/></filter><filter id="b2" x="-5%" y="-5%" width="110%" height="110%"><feGaussianBlur stdDeviation="0.55"/></filter><clipPath id="p1"><rect x="53" y="386" width="126" height="94"/></clipPath><clipPath id="p2"><rect x="184" y="387" width="126" height="94"/></clipPath><clipPath id="p3"><rect x="313.5" y="386" width="118.5" height="93.5"/></clipPath><clipPath id="p4"><rect x="441" y="385.5" width="125" height="95"/></clipPath><clipPath id="p5"><rect x="567.5" y="386" width="125.5" height="94.5"/></clipPath><clipPath id="d1"><rect x="54" y="482" width="125" height="94.5"/></clipPath><clipPath id="d2"><rect x="185" y="483.5" width="125" height="94.5"/></clipPath><clipPath id="d3"><rect x="313.5" y="483" width="118.5" height="93.5"/></clipPath><clipPath id="d4"><rect x="441" y="483.5" width="125" height="94.5"/></clipPath><clipPath id="d5"><rect x="567.5" y="482" width="125.5" height="95"/></clipPath><radialGradient id="gd1" gradientUnits="userSpaceOnUse" cx="69" cy="490" r="125"><stop offset="0" stop-color="#8e8e8e"/><stop offset="0.2" stop-color="#878787"/><stop offset="1" stop-color="#585858"/></radialGradient><linearGradient id="gd2" gradientUnits="userSpaceOnUse" x1="185" y1="483.5" x2="297.5" y2="521"><stop offset="0" stop-color="#7e7e7e"/><stop offset="1" stop-color="#727272"/></linearGradient><linearGradient id="gd3" gradientUnits="userSpaceOnUse" x1="313.5" y1="483" x2="432" y2="512.62"><stop offset="0" stop-color="#8e8e8e"/><stop offset="0.6" stop-color="#868686"/><stop offset="1" stop-color="#6e6e6e"/></linearGradient><linearGradient id="gd4" gradientUnits="userSpaceOnUse" x1="441" y1="483.5" x2="566" y2="498.5"><stop offset="0" stop-color="#868686"/><stop offset="1" stop-color="#6c6c6c"/></linearGradient><linearGradient id="gd5" gradientUnits="userSpaceOnUse" x1="567.5" y1="482" x2="686.73" y2="525.92"><stop offset="0" stop-color="#8c8c8c"/><stop offset="0.5" stop-color="#848484"/><stop offset="1" stop-color="#6c6c6c"/></linearGradient></defs>
<rect x="53" y="386" width="126" height="94" fill="#000"/>
<rect x="184" y="387" width="126" height="94" fill="#000"/>
<rect x="313.5" y="386" width="118.5" height="93.5" fill="#000"/>
<rect x="441" y="385.5" width="125" height="95" fill="#000"/>
<rect x="567.5" y="386" width="125.5" height="94.5" fill="#000"/>
<rect x="566" y="385.5" width="1.5" height="95" fill="#9a9a9a"/>
<rect x="566" y="483.5" width="1.5" height="94" fill="#b0b0b0"/>
<rect x="54" y="482" width="125" height="94.5" fill="url(#gd1)"/>
<rect x="185" y="483.5" width="125" height="94.5" fill="url(#gd2)"/>
<rect x="313.5" y="483" width="118.5" height="93.5" fill="url(#gd3)"/>
<rect x="441" y="483.5" width="125" height="94.5" fill="url(#gd4)"/>
<rect x="567.5" y="482" width="125.5" height="95" fill="url(#gd5)"/>
<rect x="185.5" y="484" width="124" height="93.5" fill="none" stroke="#333" stroke-width="1"/>
<rect x="441.5" y="484" width="124" height="93.5" fill="none" stroke="#333" stroke-width="1"/>
<g clip-path="url(#p2)" filter="url(#b1)"><ellipse cx="205.26" cy="394.27" rx="1.63" ry="1.43" fill="#ee1414" opacity="0.9" transform="rotate(0 205.26 394.27)"/><ellipse cx="263.93" cy="392.71" rx="1.84" ry="2.86" fill="#ee1414" opacity="1" transform="rotate(-30 263.93 392.71)"/><ellipse cx="266.46" cy="396.6" rx="0.82" ry="1.22" fill="#ee1414" opacity="0.8" transform="rotate(-30 266.46 396.6)"/><ellipse cx="265.1" cy="405.34" rx="1.43" ry="2.65" fill="#ee1414" opacity="1" transform="rotate(0 265.1 405.34)"/><ellipse cx="283.75" cy="403.98" rx="1.43" ry="1.63" fill="#ee1414" opacity="0.8" transform="rotate(0 283.75 403.98)"/><ellipse cx="212.45" cy="417.58" rx="1.43" ry="2.24" fill="#ee1414" opacity="1" transform="rotate(0 212.45 417.58)"/><ellipse cx="208.17" cy="421.86" rx="1.22" ry="2.45" fill="#ee1414" opacity="0.9" transform="rotate(-20 208.17 421.86)"/><ellipse cx="260.63" cy="417" rx="1.63" ry="2.04" fill="#ee1414" opacity="0.9" transform="rotate(30 260.63 417)"/><ellipse cx="248.39" cy="423.41" rx="2.86" ry="1.84" fill="#ee1414" opacity="1" transform="rotate(0 248.39 423.41)"/><ellipse cx="267.82" cy="423.8" rx="0.82" ry="2.45" fill="#ee1414" opacity="0.4" transform="rotate(0 267.82 423.8)"/><ellipse cx="282" cy="423.8" rx="1.84" ry="2.04" fill="#ee1414" opacity="1" transform="rotate(40 282 423.8)"/><ellipse cx="300.07" cy="422.44" rx="1.43" ry="2.45" fill="#ee1414" opacity="1" transform="rotate(0 300.07 422.44)"/><ellipse cx="230.51" cy="430.6" rx="1.63" ry="2.86" fill="#ee1414" opacity="1" transform="rotate(30 230.51 430.6)"/><ellipse cx="218.47" cy="434.49" rx="1.02" ry="1.02" fill="#ee1414" opacity="0.5" transform="rotate(0 218.47 434.49)"/><ellipse cx="259.66" cy="433.13" rx="1.22" ry="1.84" fill="#ee1414" opacity="0.9" transform="rotate(0 259.66 433.13)"/><ellipse cx="256.74" cy="436.43" rx="1.22" ry="2.04" fill="#ee1414" opacity="1" transform="rotate(30 256.74 436.43)"/><ellipse cx="260.63" cy="438.95" rx="1.63" ry="2.45" fill="#ee1414" opacity="1" transform="rotate(0 260.63 438.95)"/><ellipse cx="193.21" cy="442.65" rx="2.04" ry="3.26" fill="#ee1414" opacity="1" transform="rotate(-30 193.21 442.65)"/><ellipse cx="197.1" cy="445.56" rx="0.82" ry="0.82" fill="#ee1414" opacity="0.6" transform="rotate(0 197.1 445.56)"/><ellipse cx="227.02" cy="455.66" rx="2.86" ry="2.04" fill="#ee1414" opacity="1" transform="rotate(-15 227.02 455.66)"/><ellipse cx="217.89" cy="462.66" rx="2.24" ry="2.65" fill="#ee1414" opacity="1" transform="rotate(20 217.89 462.66)"/><ellipse cx="214.97" cy="467.13" rx="1.22" ry="1.22" fill="#ee1414" opacity="0.9" transform="rotate(0 214.97 467.13)"/><ellipse cx="186.22" cy="464.99" rx="2.04" ry="1.84" fill="#ee1414" opacity="1" transform="rotate(0 186.22 464.99)"/><ellipse cx="246.06" cy="466.93" rx="1.63" ry="1.43" fill="#ee1414" opacity="0.6" transform="rotate(0 246.06 466.93)"/><ellipse cx="271.7" cy="463.63" rx="1.63" ry="2.86" fill="#ee1414" opacity="1" transform="rotate(10 271.7 463.63)"/><ellipse cx="290.36" cy="477.81" rx="1.84" ry="2.04" fill="#ee1414" opacity="1" transform="rotate(0 290.36 477.81)"/><ellipse cx="184.86" cy="392.33" rx="0.82" ry="0.82" fill="#ee1414" opacity="0.5" transform="rotate(0 184.86 392.33)"/></g>
<g clip-path="url(#p3)" filter="url(#b1)"><ellipse cx="391.54" cy="389.8" rx="2.04" ry="3.26" fill="#ee1414" opacity="1" transform="rotate(20 391.54 389.8)"/><ellipse cx="339.47" cy="400.49" rx="2.86" ry="2.04" fill="#ee1414" opacity="1" transform="rotate(25 339.47 400.49)"/><ellipse cx="352.3" cy="396.6" rx="2.65" ry="1.84" fill="#ee1414" opacity="1" transform="rotate(20 352.3 396.6)"/><ellipse cx="358.9" cy="398.54" rx="1.84" ry="1.02" fill="#ee1414" opacity="0.6" transform="rotate(20 358.9 398.54)"/><ellipse cx="382.41" cy="402.43" rx="2.04" ry="3.06" fill="#ee1414" opacity="1" transform="rotate(-15 382.41 402.43)"/><ellipse cx="409.03" cy="399.51" rx="1.43" ry="2.86" fill="#ee1414" opacity="0.7" transform="rotate(-15 409.03 399.51)"/><ellipse cx="430.79" cy="395.05" rx="1.22" ry="2.86" fill="#ee1414" opacity="1" transform="rotate(0 430.79 395.05)"/><ellipse cx="314.8" cy="418.55" rx="1.63" ry="2.45" fill="#ee1414" opacity="1" transform="rotate(0 314.8 418.55)"/><ellipse cx="340.64" cy="421.47" rx="2.45" ry="1.43" fill="#ee1414" opacity="0.6" transform="rotate(0 340.64 421.47)"/><ellipse cx="374.06" cy="416.03" rx="2.45" ry="1.63" fill="#ee1414" opacity="1" transform="rotate(35 374.06 416.03)"/><ellipse cx="379.89" cy="419.91" rx="2.45" ry="1.84" fill="#ee1414" opacity="1" transform="rotate(30 379.89 419.91)"/><ellipse cx="408.64" cy="418.55" rx="1.63" ry="2.65" fill="#ee1414" opacity="0.9" transform="rotate(20 408.64 418.55)"/><ellipse cx="358.51" cy="426.71" rx="2.04" ry="3.47" fill="#ee1414" opacity="1" transform="rotate(35 358.51 426.71)"/><ellipse cx="343.55" cy="434.1" rx="2.86" ry="2.04" fill="#ee1414" opacity="1" transform="rotate(20 343.55 434.1)"/><ellipse cx="321.6" cy="440.31" rx="2.45" ry="2.04" fill="#ee1414" opacity="1" transform="rotate(25 321.6 440.31)"/><ellipse cx="319.27" cy="436.43" rx="0.82" ry="1.22" fill="#ee1414" opacity="0.7" transform="rotate(-20 319.27 436.43)"/><ellipse cx="419.72" cy="441.29" rx="2.65" ry="1.84" fill="#ee1414" opacity="1" transform="rotate(0 419.72 441.29)"/><ellipse cx="425.54" cy="439.93" rx="2.24" ry="1.84" fill="#ee1414" opacity="1" transform="rotate(0 425.54 439.93)"/><ellipse cx="376" cy="444.78" rx="2.65" ry="2.04" fill="#ee1414" opacity="1" transform="rotate(-20 376 444.78)"/><ellipse cx="372.12" cy="450.03" rx="2.04" ry="3.06" fill="#ee1414" opacity="1" transform="rotate(20 372.12 450.03)"/><ellipse cx="380.86" cy="452.94" rx="2.65" ry="1.63" fill="#ee1414" opacity="1" transform="rotate(-25 380.86 452.94)"/><ellipse cx="389.6" cy="451.39" rx="2.45" ry="1.84" fill="#ee1414" opacity="0.6" transform="rotate(0 389.6 451.39)"/><ellipse cx="420.3" cy="451.39" rx="2.65" ry="2.04" fill="#ee1414" opacity="0.9" transform="rotate(-20 420.3 451.39)"/><ellipse cx="325.1" cy="462.27" rx="2.04" ry="2.86" fill="#ee1414" opacity="1" transform="rotate(30 325.1 462.27)"/><ellipse cx="384.36" cy="461.3" rx="1.63" ry="2.04" fill="#ee1414" opacity="0.5" transform="rotate(0 384.36 461.3)"/><ellipse cx="403.2" cy="463.05" rx="2.04" ry="2.86" fill="#ee1414" opacity="1" transform="rotate(0 403.2 463.05)"/><ellipse cx="345.89" cy="471.4" rx="2.65" ry="2.24" fill="#ee1414" opacity="1" transform="rotate(-20 345.89 471.4)"/><ellipse cx="371.14" cy="473.93" rx="2.04" ry="3.47" fill="#ee1414" opacity="1" transform="rotate(25 371.14 473.93)"/><ellipse cx="321.21" cy="475.87" rx="1.84" ry="2.65" fill="#ee1414" opacity="1" transform="rotate(-20 321.21 475.87)"/><ellipse cx="315.77" cy="469.85" rx="1.63" ry="1.22" fill="#ee1414" opacity="0.6" transform="rotate(0 315.77 469.85)"/><ellipse cx="361.43" cy="478.59" rx="2.04" ry="1.22" fill="#ee1414" opacity="1" transform="rotate(0 361.43 478.59)"/></g>
<g clip-path="url(#p4)" filter="url(#b1)"><ellipse cx="474.47" cy="389.8" rx="2.86" ry="3.67" fill="#ee1414" opacity="1" transform="rotate(-20 474.47 389.8)"/><ellipse cx="515.27" cy="389.22" rx="4.49" ry="2.65" fill="#ee1414" opacity="1" transform="rotate(-15 515.27 389.22)"/><ellipse cx="523.43" cy="387.86" rx="3.67" ry="2.04" fill="#ee1414" opacity="1" transform="rotate(0 523.43 387.86)"/><ellipse cx="527.32" cy="392.71" rx="3.67" ry="2.24" fill="#ee1414" opacity="1" transform="rotate(15 527.32 392.71)"/><ellipse cx="532.76" cy="395.05" rx="2.45" ry="1.84" fill="#ee1414" opacity="1" transform="rotate(0 532.76 395.05)"/><ellipse cx="561.32" cy="392.71" rx="4.08" ry="2.86" fill="#ee1414" opacity="1" transform="rotate(15 561.32 392.71)"/><ellipse cx="453.1" cy="404.37" rx="2.86" ry="4.08" fill="#ee1414" opacity="1" transform="rotate(35 453.1 404.37)"/><ellipse cx="450.38" cy="408.65" rx="1.43" ry="1.84" fill="#ee1414" opacity="1" transform="rotate(35 450.38 408.65)"/><ellipse cx="467.47" cy="408.26" rx="4.49" ry="2.86" fill="#ee1414" opacity="1" transform="rotate(0 467.47 408.26)"/><ellipse cx="513.72" cy="403.4" rx="3.47" ry="4.08" fill="#ee1414" opacity="1" transform="rotate(-20 513.72 403.4)"/><ellipse cx="515.27" cy="407.67" rx="1.63" ry="1.84" fill="#ee1414" opacity="1" transform="rotate(0 515.27 407.67)"/><ellipse cx="554.9" cy="412.14" rx="3.26" ry="4.08" fill="#ee1414" opacity="1" transform="rotate(15 554.9 412.14)"/><ellipse cx="552.57" cy="417.97" rx="1.63" ry="1.63" fill="#ee1414" opacity="1" transform="rotate(0 552.57 417.97)"/><ellipse cx="558.79" cy="419.91" rx="4.08" ry="3.06" fill="#ee1414" opacity="1" transform="rotate(20 558.79 419.91)"/><ellipse cx="502.06" cy="422.83" rx="2.65" ry="4.49" fill="#ee1414" opacity="1" transform="rotate(-20 502.06 422.83)"/><ellipse cx="508.86" cy="421.86" rx="2.45" ry="4.08" fill="#ee1414" opacity="1" transform="rotate(-35 508.86 421.86)"/><ellipse cx="513.72" cy="426.13" rx="3.67" ry="2.45" fill="#ee1414" opacity="1" transform="rotate(30 513.72 426.13)"/><ellipse cx="506.33" cy="430.02" rx="4.49" ry="3.06" fill="#ee1414" opacity="1" transform="rotate(25 506.33 430.02)"/><ellipse cx="493.31" cy="431.57" rx="2.65" ry="3.67" fill="#ee1414" opacity="1" transform="rotate(-20 493.31 431.57)"/><ellipse cx="495.84" cy="438.76" rx="4.49" ry="2.86" fill="#ee1414" opacity="1" transform="rotate(10 495.84 438.76)"/><ellipse cx="463.78" cy="433.9" rx="3.06" ry="3.67" fill="#ee1414" opacity="1" transform="rotate(0 463.78 433.9)"/><ellipse cx="463.2" cy="439.73" rx="2.45" ry="3.26" fill="#ee1414" opacity="1" transform="rotate(0 463.2 439.73)"/><ellipse cx="536.45" cy="438.37" rx="3.67" ry="2.65" fill="#ee1414" opacity="1" transform="rotate(-10 536.45 438.37)"/><ellipse cx="548.1" cy="445.17" rx="3.67" ry="2.86" fill="#ee1414" opacity="1" transform="rotate(-15 548.1 445.17)"/><ellipse cx="540.92" cy="447.12" rx="3.67" ry="2.86" fill="#ee1414" opacity="1" transform="rotate(-15 540.92 447.12)"/><ellipse cx="564.23" cy="440.9" rx="1.84" ry="4.9" fill="#ee1414" opacity="1" transform="rotate(-15 564.23 440.9)"/><ellipse cx="540.33" cy="455.86" rx="3.67" ry="3.06" fill="#ee1414" opacity="1" transform="rotate(20 540.33 455.86)"/><ellipse cx="546.74" cy="458.77" rx="3.67" ry="2.65" fill="#ee1414" opacity="1" transform="rotate(20 546.74 458.77)"/><ellipse cx="560.34" cy="456.83" rx="4.9" ry="3.26" fill="#ee1414" opacity="1" transform="rotate(-10 560.34 456.83)"/><ellipse cx="522.85" cy="457.41" rx="3.06" ry="4.08" fill="#ee1414" opacity="1" transform="rotate(-40 522.85 457.41)"/><ellipse cx="552.57" cy="464.21" rx="4.49" ry="3.06" fill="#ee1414" opacity="1" transform="rotate(15 552.57 464.21)"/><ellipse cx="529.26" cy="466.16" rx="2.04" ry="2.65" fill="#ee1414" opacity="1" transform="rotate(0 529.26 466.16)"/><ellipse cx="532.56" cy="470.43" rx="3.67" ry="3.67" fill="#ee1414" opacity="1" transform="rotate(-30 532.56 470.43)"/><ellipse cx="526.34" cy="474.32" rx="3.67" ry="2.86" fill="#ee1414" opacity="1" transform="rotate(-30 526.34 474.32)"/><ellipse cx="514.69" cy="475.87" rx="3.06" ry="3.67" fill="#ee1414" opacity="1" transform="rotate(30 514.69 475.87)"/><ellipse cx="461.26" cy="468.49" rx="3.06" ry="3.67" fill="#ee1414" opacity="0.3" transform="rotate(0 461.26 468.49)"/><ellipse cx="464.75" cy="475.29" rx="2.24" ry="4.49" fill="#ee1414" opacity="1" transform="rotate(25 464.75 475.29)"/><ellipse cx="459.31" cy="476.26" rx="1.22" ry="1.22" fill="#ee1414" opacity="0.8" transform="rotate(0 459.31 476.26)"/></g>
<g clip-path="url(#p5)" filter="url(#b1)"><ellipse cx="630" cy="390.77" rx="2.45" ry="3.47" fill="#ee1414" opacity="1" transform="rotate(-20 630 390.77)"/><ellipse cx="628.64" cy="404.76" rx="2.04" ry="3.47" fill="#ee1414" opacity="1" transform="rotate(35 628.64 404.76)"/><ellipse cx="624.17" cy="410.2" rx="2.45" ry="3.47" fill="#ee1414" opacity="1" transform="rotate(30 624.17 410.2)"/><ellipse cx="630.97" cy="416.42" rx="2.86" ry="4.08" fill="#ee1414" opacity="1" transform="rotate(-15 630.97 416.42)"/><ellipse cx="665.94" cy="403.79" rx="2.24" ry="3.26" fill="#ee1414" opacity="1" transform="rotate(-15 665.94 403.79)"/><ellipse cx="689.65" cy="414.09" rx="2.04" ry="3.26" fill="#ee1414" opacity="1" transform="rotate(-25 689.65 414.09)"/><ellipse cx="569.38" cy="412.14" rx="2.45" ry="4.49" fill="#ee1414" opacity="1" transform="rotate(0 569.38 412.14)"/><ellipse cx="570.74" cy="420.3" rx="2.65" ry="4.08" fill="#ee1414" opacity="1" transform="rotate(-10 570.74 420.3)"/><ellipse cx="577.54" cy="422.25" rx="3.26" ry="2.86" fill="#ee1414" opacity="1" transform="rotate(15 577.54 422.25)"/><ellipse cx="594.06" cy="427.69" rx="4.08" ry="2.86" fill="#ee1414" opacity="1" transform="rotate(25 594.06 427.69)"/><ellipse cx="598.53" cy="430.6" rx="1.63" ry="1.22" fill="#ee1414" opacity="1" transform="rotate(0 598.53 430.6)"/><ellipse cx="631.56" cy="425.16" rx="2.04" ry="3.67" fill="#ee1414" opacity="1" transform="rotate(-35 631.56 425.16)"/><ellipse cx="636.41" cy="430.21" rx="2.65" ry="4.08" fill="#ee1414" opacity="1" transform="rotate(-35 636.41 430.21)"/><ellipse cx="647.1" cy="434.87" rx="4.49" ry="2.86" fill="#ee1414" opacity="1" transform="rotate(-10 647.1 434.87)"/><ellipse cx="621.26" cy="436.82" rx="1.84" ry="3.67" fill="#ee1414" opacity="1" transform="rotate(35 621.26 436.82)"/><ellipse cx="680.13" cy="440.9" rx="4.08" ry="2.86" fill="#ee1414" opacity="1" transform="rotate(-10 680.13 440.9)"/><ellipse cx="614.07" cy="444.59" rx="2.04" ry="1.22" fill="#ee1414" opacity="1" transform="rotate(-20 614.07 444.59)"/><ellipse cx="620.29" cy="450.03" rx="2.45" ry="4.49" fill="#ee1414" opacity="1" transform="rotate(10 620.29 450.03)"/><ellipse cx="625.73" cy="452.94" rx="2.65" ry="4.9" fill="#ee1414" opacity="1" transform="rotate(-5 625.73 452.94)"/><ellipse cx="631.56" cy="450.03" rx="2.45" ry="3.47" fill="#ee1414" opacity="1" transform="rotate(-15 631.56 450.03)"/><ellipse cx="617.37" cy="455.28" rx="2.45" ry="1.63" fill="#ee1414" opacity="1" transform="rotate(-30 617.37 455.28)"/><ellipse cx="658.17" cy="456.83" rx="3.06" ry="3.67" fill="#ee1414" opacity="1" transform="rotate(-30 658.17 456.83)"/><ellipse cx="646.9" cy="461.69" rx="3.67" ry="2.45" fill="#ee1414" opacity="1" transform="rotate(15 646.9 461.69)"/><ellipse cx="642.63" cy="460.13" rx="1.63" ry="1.22" fill="#ee1414" opacity="1" transform="rotate(0 642.63 460.13)"/><ellipse cx="648.46" cy="471.79" rx="4.08" ry="2.86" fill="#ee1414" opacity="1" transform="rotate(35 648.46 471.79)"/></g>
<g clip-path="url(#d1)" filter="url(#b2)"><g transform="rotate(0 72.29 486.38)"><ellipse cx="72.54" cy="486.63" rx="2.72" ry="3.89" fill="rgba(0,0,0,0.26)"/><ellipse cx="72.04" cy="486.13" rx="2.72" ry="3.89" fill="rgba(255,255,255,0.12)"/><ellipse cx="72.29" cy="486.38" rx="2.17" ry="3.34" fill="url(#gd1)"/><ellipse cx="72.29" cy="486.38" rx="2.17" ry="3.34" fill="rgba(255,255,255,0.05)"/></g><g transform="rotate(-10 69.76 494.93)"><ellipse cx="70.01" cy="495.18" rx="4.66" ry="3.11" fill="rgba(0,0,0,0.26)"/><ellipse cx="69.51" cy="494.68" rx="4.66" ry="3.11" fill="rgba(255,255,255,0.12)"/><ellipse cx="69.76" cy="494.93" rx="4.11" ry="2.56" fill="url(#gd1)"/><ellipse cx="69.76" cy="494.93" rx="4.11" ry="2.56" fill="rgba(255,255,255,0.05)"/></g><g transform="rotate(15 83.94 499.4)"><ellipse cx="84.19" cy="499.65" rx="2.72" ry="4.27" fill="rgba(0,0,0,0.26)"/><ellipse cx="83.69" cy="499.15" rx="2.72" ry="4.27" fill="rgba(255,255,255,0.12)"/><ellipse cx="83.94" cy="499.4" rx="2.17" ry="3.72" fill="url(#gd1)"/><ellipse cx="83.94" cy="499.4" rx="2.17" ry="3.72" fill="rgba(255,255,255,0.05)"/></g><g transform="rotate(-10 75.2 506.2)"><ellipse cx="75.45" cy="506.45" rx="3.11" ry="4.27" fill="rgba(0,0,0,0.26)"/><ellipse cx="74.95" cy="505.95" rx="3.11" ry="4.27" fill="rgba(255,255,255,0.12)"/><ellipse cx="75.2" cy="506.2" rx="2.56" ry="3.72" fill="url(#gd1)"/><ellipse cx="75.2" cy="506.2" rx="2.56" ry="3.72" fill="rgba(255,255,255,0.05)"/></g><g transform="rotate(20 81.42 509.11)"><ellipse cx="81.67" cy="509.36" rx="3.5" ry="3.89" fill="rgba(0,0,0,0.26)"/><ellipse cx="81.17" cy="508.86" rx="3.5" ry="3.89" fill="rgba(255,255,255,0.12)"/><ellipse cx="81.42" cy="509.11" rx="2.95" ry="3.34" fill="url(#gd1)"/><ellipse cx="81.42" cy="509.11" rx="2.95" ry="3.34" fill="rgba(255,255,255,0.05)"/></g><g transform="rotate(0 92.69 505.23)"><ellipse cx="92.94" cy="505.48" rx="1.94" ry="2.33" fill="rgba(0,0,0,0.26)"/><ellipse cx="92.44" cy="504.98" rx="1.94" ry="2.33" fill="rgba(255,255,255,0.12)"/><ellipse cx="92.69" cy="505.23" rx="1.39" ry="1.78" fill="url(#gd1)"/><ellipse cx="92.69" cy="505.23" rx="1.39" ry="1.78" fill="rgba(255,255,255,0.05)"/></g><g transform="rotate(20 102.4 506.2)"><ellipse cx="102.65" cy="506.45" rx="3.11" ry="4.27" fill="rgba(0,0,0,0.26)"/><ellipse cx="102.15" cy="505.95" rx="3.11" ry="4.27" fill="rgba(255,255,255,0.12)"/><ellipse cx="102.4" cy="506.2" rx="2.56" ry="3.72" fill="url(#gd1)"/><ellipse cx="102.4" cy="506.2" rx="2.56" ry="3.72" fill="rgba(255,255,255,0.05)"/></g><g transform="rotate(30 95.6 512.03)"><ellipse cx="95.85" cy="512.28" rx="3.5" ry="3.11" fill="rgba(0,0,0,0.26)"/><ellipse cx="95.35" cy="511.78" rx="3.5" ry="3.11" fill="rgba(255,255,255,0.12)"/><ellipse cx="95.6" cy="512.03" rx="2.95" ry="2.56" fill="url(#gd1)"/><ellipse cx="95.6" cy="512.03" rx="2.95" ry="2.56" fill="rgba(255,255,255,0.05)"/></g><g transform="rotate(10 88.41 514.36)"><ellipse cx="88.66" cy="514.61" rx="3.11" ry="4.27" fill="rgba(0,0,0,0.26)"/><ellipse cx="88.16" cy="514.11" rx="3.11" ry="4.27" fill="rgba(255,255,255,0.12)"/><ellipse cx="88.41" cy="514.36" rx="2.56" ry="3.72" fill="url(#gd1)"/><ellipse cx="88.41" cy="514.36" rx="2.56" ry="3.72" fill="rgba(255,255,255,0.05)"/></g><g transform="rotate(-20 100.46 514.94)"><ellipse cx="100.71" cy="515.19" rx="3.5" ry="3.89" fill="rgba(0,0,0,0.26)"/><ellipse cx="100.21" cy="514.69" rx="3.5" ry="3.89" fill="rgba(255,255,255,0.12)"/><ellipse cx="100.46" cy="514.94" rx="2.95" ry="3.34" fill="url(#gd1)"/><ellipse cx="100.46" cy="514.94" rx="2.95" ry="3.34" fill="rgba(255,255,255,0.05)"/></g><g transform="rotate(-20 75.2 517.86)"><ellipse cx="75.45" cy="518.11" rx="4.66" ry="3.11" fill="rgba(0,0,0,0.26)"/><ellipse cx="74.95" cy="517.61" rx="4.66" ry="3.11" fill="rgba(255,255,255,0.12)"/><ellipse cx="75.2" cy="517.86" rx="4.11" ry="2.56" fill="url(#gd1)"/><ellipse cx="75.2" cy="517.86" rx="4.11" ry="2.56" fill="rgba(255,255,255,0.05)"/></g><g transform="rotate(10 82.58 518.83)"><ellipse cx="82.83" cy="519.08" rx="2.72" ry="4.27" fill="rgba(0,0,0,0.26)"/><ellipse cx="82.33" cy="518.58" rx="2.72" ry="4.27" fill="rgba(255,255,255,0.12)"/><ellipse cx="82.58" cy="518.83" rx="2.17" ry="3.72" fill="url(#gd1)"/><ellipse cx="82.58" cy="518.83" rx="2.17" ry="3.72" fill="rgba(255,255,255,0.05)"/></g><g transform="rotate(0 80.06 525.05)"><ellipse cx="80.31" cy="525.3" rx="2.33" ry="2.72" fill="rgba(0,0,0,0.26)"/><ellipse cx="79.81" cy="524.8" rx="2.33" ry="2.72" fill="rgba(255,255,255,0.12)"/><ellipse cx="80.06" cy="525.05" rx="1.78" ry="2.17" fill="url(#gd1)"/><ellipse cx="80.06" cy="525.05" rx="1.78" ry="2.17" fill="rgba(255,255,255,0.05)"/></g><g transform="rotate(0 87.83 522.71)"><ellipse cx="88.08" cy="522.96" rx="2.72" ry="3.89" fill="rgba(0,0,0,0.26)"/><ellipse cx="87.58" cy="522.46" rx="2.72" ry="3.89" fill="rgba(255,255,255,0.12)"/><ellipse cx="87.83" cy="522.71" rx="2.17" ry="3.34" fill="url(#gd1)"/><ellipse cx="87.83" cy="522.71" rx="2.17" ry="3.34" fill="rgba(255,255,255,0.05)"/></g><g transform="rotate(-10 92.69 526.6)"><ellipse cx="92.94" cy="526.85" rx="3.11" ry="4.66" fill="rgba(0,0,0,0.26)"/><ellipse cx="92.44" cy="526.35" rx="3.11" ry="4.66" fill="rgba(255,255,255,0.12)"/><ellipse cx="92.69" cy="526.6" rx="2.56" ry="4.11" fill="url(#gd1)"/><ellipse cx="92.69" cy="526.6" rx="2.56" ry="4.11" fill="rgba(255,255,255,0.05)"/></g><g transform="rotate(30 97.54 531.46)"><ellipse cx="97.79" cy="531.71" rx="3.11" ry="4.27" fill="rgba(0,0,0,0.26)"/><ellipse cx="97.29" cy="531.21" rx="3.11" ry="4.27" fill="rgba(255,255,255,0.12)"/><ellipse cx="97.54" cy="531.46" rx="2.56" ry="3.72" fill="url(#gd1)"/><ellipse cx="97.54" cy="531.46" rx="2.56" ry="3.72" fill="rgba(255,255,255,0.05)"/></g><g transform="rotate(-30 135.43 486.38)"><ellipse cx="135.68" cy="486.63" rx="3.5" ry="4.27" fill="rgba(0,0,0,0.26)"/><ellipse cx="135.18" cy="486.13" rx="3.5" ry="4.27" fill="rgba(255,255,255,0.12)"/><ellipse cx="135.43" cy="486.38" rx="2.95" ry="3.72" fill="url(#gd1)"/><ellipse cx="135.43" cy="486.38" rx="2.95" ry="3.72" fill="rgba(255,255,255,0.05)"/></g><g transform="rotate(0 139.32 485.8)"><ellipse cx="139.57" cy="486.05" rx="2.72" ry="3.89" fill="rgba(0,0,0,0.26)"/><ellipse cx="139.07" cy="485.55" rx="2.72" ry="3.89" fill="rgba(255,255,255,0.12)"/><ellipse cx="139.32" cy="485.8" rx="2.17" ry="3.34" fill="url(#gd1)"/><ellipse cx="139.32" cy="485.8" rx="2.17" ry="3.34" fill="rgba(255,255,255,0.05)"/></g><g transform="rotate(20 146.12 485.41)"><ellipse cx="146.37" cy="485.66" rx="3.11" ry="3.89" fill="rgba(0,0,0,0.26)"/><ellipse cx="145.87" cy="485.16" rx="3.11" ry="3.89" fill="rgba(255,255,255,0.12)"/><ellipse cx="146.12" cy="485.41" rx="2.56" ry="3.34" fill="url(#gd1)"/><ellipse cx="146.12" cy="485.41" rx="2.56" ry="3.34" fill="rgba(255,255,255,0.05)"/></g><g transform="rotate(30 153.89 487.16)"><ellipse cx="154.14" cy="487.41" rx="3.5" ry="4.27" fill="rgba(0,0,0,0.26)"/><ellipse cx="153.64" cy="486.91" rx="3.5" ry="4.27" fill="rgba(255,255,255,0.12)"/><ellipse cx="153.89" cy="487.16" rx="2.95" ry="3.72" fill="url(#gd1)"/><ellipse cx="153.89" cy="487.16" rx="2.95" ry="3.72" fill="rgba(255,255,255,0.05)"/></g><g transform="rotate(30 148.06 492.6)"><ellipse cx="148.31" cy="492.85" rx="3.89" ry="4.27" fill="rgba(0,0,0,0.26)"/><ellipse cx="147.81" cy="492.35" rx="3.89" ry="4.27" fill="rgba(255,255,255,0.12)"/><ellipse cx="148.06" cy="492.6" rx="3.34" ry="3.72" fill="url(#gd1)"/><ellipse cx="148.06" cy="492.6" rx="3.34" ry="3.72" fill="rgba(255,255,255,0.05)"/></g><g transform="rotate(0 155.83 494.93)"><ellipse cx="156.08" cy="495.18" rx="4.27" ry="2.72" fill="rgba(0,0,0,0.26)"/><ellipse cx="155.58" cy="494.68" rx="4.27" ry="2.72" fill="rgba(255,255,255,0.12)"/><ellipse cx="155.83" cy="494.93" rx="3.72" ry="2.17" fill="url(#gd1)"/><ellipse cx="155.83" cy="494.93" rx="3.72" ry="2.17" fill="rgba(255,255,255,0.05)"/></g><g transform="rotate(-10 141.65 498.43)"><ellipse cx="141.9" cy="498.68" rx="2.72" ry="3.89" fill="rgba(0,0,0,0.26)"/><ellipse cx="141.4" cy="498.18" rx="2.72" ry="3.89" fill="rgba(255,255,255,0.12)"/><ellipse cx="141.65" cy="498.43" rx="2.17" ry="3.34" fill="url(#gd1)"/><ellipse cx="141.65" cy="498.43" rx="2.17" ry="3.34" fill="rgba(255,255,255,0.05)"/></g><g transform="rotate(30 143.2 509.11)"><ellipse cx="143.45" cy="509.36" rx="2.33" ry="4.66" fill="rgba(0,0,0,0.26)"/><ellipse cx="142.95" cy="508.86" rx="2.33" ry="4.66" fill="rgba(255,255,255,0.12)"/><ellipse cx="143.2" cy="509.11" rx="1.78" ry="4.11" fill="url(#gd1)"/><ellipse cx="143.2" cy="509.11" rx="1.78" ry="4.11" fill="rgba(255,255,255,0.05)"/></g><g transform="rotate(15 148.64 524.66)"><ellipse cx="148.89" cy="524.91" rx="2.72" ry="5.05" fill="rgba(0,0,0,0.26)"/><ellipse cx="148.39" cy="524.41" rx="2.72" ry="5.05" fill="rgba(255,255,255,0.12)"/><ellipse cx="148.64" cy="524.66" rx="2.17" ry="4.5" fill="url(#gd1)"/><ellipse cx="148.64" cy="524.66" rx="2.17" ry="4.5" fill="rgba(255,255,255,0.05)"/></g><g transform="rotate(0 140.87 530.49)"><ellipse cx="141.12" cy="530.74" rx="3.5" ry="2.72" fill="rgba(0,0,0,0.26)"/><ellipse cx="140.62" cy="530.24" rx="3.5" ry="2.72" fill="rgba(255,255,255,0.12)"/><ellipse cx="140.87" cy="530.49" rx="2.95" ry="2.17" fill="url(#gd1)"/><ellipse cx="140.87" cy="530.49" rx="2.95" ry="2.17" fill="rgba(255,255,255,0.05)"/></g><g transform="rotate(20 141.26 536.31)"><ellipse cx="141.51" cy="536.56" rx="3.89" ry="4.66" fill="rgba(0,0,0,0.26)"/><ellipse cx="141.01" cy="536.06" rx="3.89" ry="4.66" fill="rgba(255,255,255,0.12)"/><ellipse cx="141.26" cy="536.31" rx="3.34" ry="4.11" fill="url(#gd1)"/><ellipse cx="141.26" cy="536.31" rx="3.34" ry="4.11" fill="rgba(255,255,255,0.05)"/></g><g transform="rotate(30 146.12 541.17)"><ellipse cx="146.37" cy="541.42" rx="3.11" ry="3.89" fill="rgba(0,0,0,0.26)"/><ellipse cx="145.87" cy="540.92" rx="3.11" ry="3.89" fill="rgba(255,255,255,0.12)"/><ellipse cx="146.12" cy="541.17" rx="2.56" ry="3.34" fill="url(#gd1)"/><ellipse cx="146.12" cy="541.17" rx="2.56" ry="3.34" fill="rgba(255,255,255,0.05)"/></g><g transform="rotate(10 151.94 544.09)"><ellipse cx="152.19" cy="544.34" rx="2.72" ry="3.89" fill="rgba(0,0,0,0.26)"/><ellipse cx="151.69" cy="543.84" rx="2.72" ry="3.89" fill="rgba(255,255,255,0.12)"/><ellipse cx="151.94" cy="544.09" rx="2.17" ry="3.34" fill="url(#gd1)"/><ellipse cx="151.94" cy="544.09" rx="2.17" ry="3.34" fill="rgba(255,255,255,0.05)"/></g><g transform="rotate(10 149.03 551.86)"><ellipse cx="149.28" cy="552.11" rx="3.11" ry="4.27" fill="rgba(0,0,0,0.26)"/><ellipse cx="148.78" cy="551.61" rx="3.11" ry="4.27" fill="rgba(255,255,255,0.12)"/><ellipse cx="149.03" cy="551.86" rx="2.56" ry="3.72" fill="url(#gd1)"/><ellipse cx="149.03" cy="551.86" rx="2.56" ry="3.72" fill="rgba(255,255,255,0.05)"/></g><g transform="rotate(10 155.83 550.89)"><ellipse cx="156.08" cy="551.14" rx="2.72" ry="4.66" fill="rgba(0,0,0,0.26)"/><ellipse cx="155.58" cy="550.64" rx="2.72" ry="4.66" fill="rgba(255,255,255,0.12)"/><ellipse cx="155.83" cy="550.89" rx="2.17" ry="4.11" fill="url(#gd1)"/><ellipse cx="155.83" cy="550.89" rx="2.17" ry="4.11" fill="rgba(255,255,255,0.05)"/></g><g transform="rotate(15 162.63 549.92)"><ellipse cx="162.88" cy="550.17" rx="2.72" ry="4.66" fill="rgba(0,0,0,0.26)"/><ellipse cx="162.38" cy="549.67" rx="2.72" ry="4.66" fill="rgba(255,255,255,0.12)"/><ellipse cx="162.63" cy="549.92" rx="2.17" ry="4.11" fill="url(#gd1)"/><ellipse cx="162.63" cy="549.92" rx="2.17" ry="4.11" fill="rgba(255,255,255,0.05)"/></g><g transform="rotate(20 155.83 561.57)"><ellipse cx="156.08" cy="561.82" rx="2.72" ry="3.89" fill="rgba(0,0,0,0.26)"/><ellipse cx="155.58" cy="561.32" rx="2.72" ry="3.89" fill="rgba(255,255,255,0.12)"/><ellipse cx="155.83" cy="561.57" rx="2.17" ry="3.34" fill="url(#gd1)"/><ellipse cx="155.83" cy="561.57" rx="2.17" ry="3.34" fill="rgba(255,255,255,0.05)"/></g><g transform="rotate(25 151.94 568.37)"><ellipse cx="152.19" cy="568.62" rx="2.72" ry="3.89" fill="rgba(0,0,0,0.26)"/><ellipse cx="151.69" cy="568.12" rx="2.72" ry="3.89" fill="rgba(255,255,255,0.12)"/><ellipse cx="151.94" cy="568.37" rx="2.17" ry="3.34" fill="url(#gd1)"/><ellipse cx="151.94" cy="568.37" rx="2.17" ry="3.34" fill="rgba(255,255,255,0.05)"/></g><g transform="rotate(-10 168.46 566.43)"><ellipse cx="168.71" cy="566.68" rx="4.27" ry="2.72" fill="rgba(0,0,0,0.26)"/><ellipse cx="168.21" cy="566.18" rx="4.27" ry="2.72" fill="rgba(255,255,255,0.12)"/><ellipse cx="168.46" cy="566.43" rx="3.72" ry="2.17" fill="url(#gd1)"/><ellipse cx="168.46" cy="566.43" rx="3.72" ry="2.17" fill="rgba(255,255,255,0.05)"/></g><g transform="rotate(10 162.63 570.32)"><ellipse cx="162.88" cy="570.57" rx="4.27" ry="2.33" fill="rgba(0,0,0,0.26)"/><ellipse cx="162.38" cy="570.07" rx="4.27" ry="2.33" fill="rgba(255,255,255,0.12)"/><ellipse cx="162.63" cy="570.32" rx="3.72" ry="1.78" fill="url(#gd1)"/><ellipse cx="162.63" cy="570.32" rx="3.72" ry="1.78" fill="rgba(255,255,255,0.05)"/></g><g transform="rotate(-20 67.43 542.14)"><ellipse cx="67.68" cy="542.39" rx="2.72" ry="3.89" fill="rgba(0,0,0,0.26)"/><ellipse cx="67.18" cy="541.89" rx="2.72" ry="3.89" fill="rgba(255,255,255,0.12)"/><ellipse cx="67.43" cy="542.14" rx="2.17" ry="3.34" fill="url(#gd1)"/><ellipse cx="67.43" cy="542.14" rx="2.17" ry="3.34" fill="rgba(255,255,255,0.05)"/></g><g transform="rotate(10 73.26 547.97)"><ellipse cx="73.51" cy="548.22" rx="4.66" ry="3.11" fill="rgba(0,0,0,0.26)"/><ellipse cx="73.01" cy="547.72" rx="4.66" ry="3.11" fill="rgba(255,255,255,0.12)"/><ellipse cx="73.26" cy="547.97" rx="4.11" ry="2.56" fill="url(#gd1)"/><ellipse cx="73.26" cy="547.97" rx="4.11" ry="2.56" fill="rgba(255,255,255,0.05)"/></g><g transform="rotate(20 63.54 548.94)"><ellipse cx="63.79" cy="549.19" rx="2.72" ry="3.5" fill="rgba(0,0,0,0.26)"/><ellipse cx="63.29" cy="548.69" rx="2.72" ry="3.5" fill="rgba(255,255,255,0.12)"/><ellipse cx="63.54" cy="548.94" rx="2.17" ry="2.95" fill="url(#gd1)"/><ellipse cx="63.54" cy="548.94" rx="2.17" ry="2.95" fill="rgba(255,255,255,0.05)"/></g><g transform="rotate(0 60.63 556.33)"><ellipse cx="60.88" cy="556.58" rx="2.72" ry="4.27" fill="rgba(0,0,0,0.26)"/><ellipse cx="60.38" cy="556.08" rx="2.72" ry="4.27" fill="rgba(255,255,255,0.12)"/><ellipse cx="60.63" cy="556.33" rx="2.17" ry="3.72" fill="url(#gd1)"/><ellipse cx="60.63" cy="556.33" rx="2.17" ry="3.72" fill="rgba(255,255,255,0.05)"/></g><g transform="rotate(30 89.77 548.94)"><ellipse cx="90.02" cy="549.19" rx="3.11" ry="5.05" fill="rgba(0,0,0,0.26)"/><ellipse cx="89.52" cy="548.69" rx="3.11" ry="5.05" fill="rgba(255,255,255,0.12)"/><ellipse cx="89.77" cy="548.94" rx="2.56" ry="4.5" fill="url(#gd1)"/><ellipse cx="89.77" cy="548.94" rx="2.56" ry="4.5" fill="rgba(255,255,255,0.05)"/></g><g transform="rotate(20 115.03 540.2)"><ellipse cx="115.28" cy="540.45" rx="4.27" ry="3.89" fill="rgba(0,0,0,0.26)"/><ellipse cx="114.78" cy="539.95" rx="4.27" ry="3.89" fill="rgba(255,255,255,0.12)"/><ellipse cx="115.03" cy="540.2" rx="3.72" ry="3.34" fill="url(#gd1)"/><ellipse cx="115.03" cy="540.2" rx="3.72" ry="3.34" fill="rgba(255,255,255,0.05)"/></g><g transform="rotate(0 111.14 546.61)"><ellipse cx="111.39" cy="546.86" rx="4.66" ry="3.11" fill="rgba(0,0,0,0.26)"/><ellipse cx="110.89" cy="546.36" rx="4.66" ry="3.11" fill="rgba(255,255,255,0.12)"/><ellipse cx="111.14" cy="546.61" rx="4.11" ry="2.56" fill="url(#gd1)"/><ellipse cx="111.14" cy="546.61" rx="4.11" ry="2.56" fill="rgba(255,255,255,0.05)"/></g><g transform="rotate(0 117.94 553.8)"><ellipse cx="118.19" cy="554.05" rx="2.33" ry="3.5" fill="rgba(0,0,0,0.26)"/><ellipse cx="117.69" cy="553.55" rx="2.33" ry="3.5" fill="rgba(255,255,255,0.12)"/><ellipse cx="117.94" cy="553.8" rx="1.78" ry="2.95" fill="url(#gd1)"/><ellipse cx="117.94" cy="553.8" rx="1.78" ry="2.95" fill="rgba(255,255,255,0.05)"/></g><g transform="rotate(-20 119.89 561.57)"><ellipse cx="120.14" cy="561.82" rx="3.5" ry="3.89" fill="rgba(0,0,0,0.26)"/><ellipse cx="119.64" cy="561.32" rx="3.5" ry="3.89" fill="rgba(255,255,255,0.12)"/><ellipse cx="119.89" cy="561.57" rx="2.95" ry="3.34" fill="url(#gd1)"/><ellipse cx="119.89" cy="561.57" rx="2.95" ry="3.34" fill="rgba(255,255,255,0.05)"/></g></g>
<g clip-path="url(#d2)" filter="url(#b2)"><g transform="rotate(6.46 225.78 498.75)"><ellipse cx="226.18" cy="499.15" rx="4.19" ry="2.39" fill="rgba(0,0,0,0.2)"/><ellipse cx="225.38" cy="498.35" rx="4.19" ry="2.39" fill="rgba(255,255,255,0.24)"/><ellipse cx="225.78" cy="498.75" rx="3.59" ry="1.79" fill="url(#gd2)"/><ellipse cx="225.78" cy="498.75" rx="3.59" ry="1.79" fill="rgba(255,255,255,0.05)"/></g><g transform="rotate(-11.94 230.94 490.18)"><ellipse cx="231.34" cy="490.58" rx="3.99" ry="2.36" fill="rgba(0,0,0,0.2)"/><ellipse cx="230.54" cy="489.78" rx="3.99" ry="2.36" fill="rgba(255,255,255,0.24)"/><ellipse cx="230.94" cy="490.18" rx="3.39" ry="1.76" fill="url(#gd2)"/><ellipse cx="230.94" cy="490.18" rx="3.39" ry="1.76" fill="rgba(255,255,255,0.05)"/></g><g transform="rotate(-67.72 194.45 493.2)"><ellipse cx="194.85" cy="493.6" rx="3.88" ry="2.97" fill="rgba(0,0,0,0.2)"/><ellipse cx="194.05" cy="492.8" rx="3.88" ry="2.97" fill="rgba(255,255,255,0.24)"/><ellipse cx="194.45" cy="493.2" rx="3.28" ry="2.37" fill="url(#gd2)"/><ellipse cx="194.45" cy="493.2" rx="3.28" ry="2.37" fill="rgba(255,255,255,0.05)"/></g><g transform="rotate(-18.6 213.37 542.73)"><ellipse cx="213.77" cy="543.13" rx="4.59" ry="2.78" fill="rgba(0,0,0,0.2)"/><ellipse cx="212.97" cy="542.33" rx="4.59" ry="2.78" fill="rgba(255,255,255,0.24)"/><ellipse cx="213.37" cy="542.73" rx="3.99" ry="2.18" fill="url(#gd2)"/><ellipse cx="213.37" cy="542.73" rx="3.99" ry="2.18" fill="rgba(255,255,255,0.05)"/></g><g transform="rotate(-64.03 306.27 489.13)"><ellipse cx="306.67" cy="489.53" rx="4.47" ry="2.56" fill="rgba(0,0,0,0.2)"/><ellipse cx="305.87" cy="488.73" rx="4.47" ry="2.56" fill="rgba(255,255,255,0.24)"/><ellipse cx="306.27" cy="489.13" rx="3.87" ry="1.96" fill="url(#gd2)"/><ellipse cx="306.27" cy="489.13" rx="3.87" ry="1.96" fill="rgba(255,255,255,0.05)"/></g><g transform="rotate(14.69 200.36 513.3)"><ellipse cx="200.76" cy="513.7" rx="4.41" ry="2.47" fill="rgba(0,0,0,0.2)"/><ellipse cx="199.96" cy="512.9" rx="4.41" ry="2.47" fill="rgba(255,255,255,0.24)"/><ellipse cx="200.36" cy="513.3" rx="3.81" ry="1.87" fill="url(#gd2)"/><ellipse cx="200.36" cy="513.3" rx="3.81" ry="1.87" fill="rgba(255,255,255,0.05)"/></g><g transform="rotate(-79.27 264.65 519.2)"><ellipse cx="265.05" cy="519.6" rx="4.05" ry="2.38" fill="rgba(0,0,0,0.2)"/><ellipse cx="264.25" cy="518.8" rx="4.05" ry="2.38" fill="rgba(255,255,255,0.24)"/><ellipse cx="264.65" cy="519.2" rx="3.45" ry="1.78" fill="url(#gd2)"/><ellipse cx="264.65" cy="519.2" rx="3.45" ry="1.78" fill="rgba(255,255,255,0.05)"/></g><g transform="rotate(-36.04 238.58 513.82)"><ellipse cx="238.98" cy="514.22" rx="4.1" ry="2.68" fill="rgba(0,0,0,0.2)"/><ellipse cx="238.18" cy="513.42" rx="4.1" ry="2.68" fill="rgba(255,255,255,0.24)"/><ellipse cx="238.58" cy="513.82" rx="3.5" ry="2.08" fill="url(#gd2)"/><ellipse cx="238.58" cy="513.82" rx="3.5" ry="2.08" fill="rgba(255,255,255,0.05)"/></g><g transform="rotate(4.54 283.83 549.34)"><ellipse cx="284.23" cy="549.74" rx="3.63" ry="2.78" fill="rgba(0,0,0,0.2)"/><ellipse cx="283.43" cy="548.94" rx="3.63" ry="2.78" fill="rgba(255,255,255,0.24)"/><ellipse cx="283.83" cy="549.34" rx="3.03" ry="2.18" fill="url(#gd2)"/><ellipse cx="283.83" cy="549.34" rx="3.03" ry="2.18" fill="rgba(255,255,255,0.05)"/></g><g transform="rotate(-68.75 293.8 552.15)"><ellipse cx="294.2" cy="552.55" rx="3.69" ry="3.09" fill="rgba(0,0,0,0.2)"/><ellipse cx="293.4" cy="551.75" rx="3.69" ry="3.09" fill="rgba(255,255,255,0.24)"/><ellipse cx="293.8" cy="552.15" rx="3.09" ry="2.49" fill="url(#gd2)"/><ellipse cx="293.8" cy="552.15" rx="3.09" ry="2.49" fill="rgba(255,255,255,0.05)"/></g><g transform="rotate(-82.94 237.41 554.7)"><ellipse cx="237.81" cy="555.1" rx="3.51" ry="2.71" fill="rgba(0,0,0,0.2)"/><ellipse cx="237.01" cy="554.3" rx="3.51" ry="2.71" fill="rgba(255,255,255,0.24)"/><ellipse cx="237.41" cy="554.7" rx="2.91" ry="2.11" fill="url(#gd2)"/><ellipse cx="237.41" cy="554.7" rx="2.91" ry="2.11" fill="rgba(255,255,255,0.05)"/></g><g transform="rotate(-33.53 268.27 555.39)"><ellipse cx="268.67" cy="555.79" rx="4.08" ry="3.01" fill="rgba(0,0,0,0.2)"/><ellipse cx="267.87" cy="554.99" rx="4.08" ry="3.01" fill="rgba(255,255,255,0.24)"/><ellipse cx="268.27" cy="555.39" rx="3.48" ry="2.41" fill="url(#gd2)"/><ellipse cx="268.27" cy="555.39" rx="3.48" ry="2.41" fill="rgba(255,255,255,0.05)"/></g><g transform="rotate(61.19 271.61 539.68)"><ellipse cx="272.01" cy="540.08" rx="4.09" ry="2.69" fill="rgba(0,0,0,0.2)"/><ellipse cx="271.21" cy="539.28" rx="4.09" ry="2.69" fill="rgba(255,255,255,0.24)"/><ellipse cx="271.61" cy="539.68" rx="3.49" ry="2.09" fill="url(#gd2)"/><ellipse cx="271.61" cy="539.68" rx="3.49" ry="2.09" fill="rgba(255,255,255,0.05)"/></g><g transform="rotate(36.27 302.38 528.58)"><ellipse cx="302.78" cy="528.98" rx="4.21" ry="2.38" fill="rgba(0,0,0,0.2)"/><ellipse cx="301.98" cy="528.18" rx="4.21" ry="2.38" fill="rgba(255,255,255,0.24)"/><ellipse cx="302.38" cy="528.58" rx="3.61" ry="1.78" fill="url(#gd2)"/><ellipse cx="302.38" cy="528.58" rx="3.61" ry="1.78" fill="rgba(255,255,255,0.05)"/></g><g transform="rotate(-20.56 265.67 576.48)"><ellipse cx="266.07" cy="576.88" rx="4.42" ry="2.55" fill="rgba(0,0,0,0.2)"/><ellipse cx="265.27" cy="576.08" rx="4.42" ry="2.55" fill="rgba(255,255,255,0.24)"/><ellipse cx="265.67" cy="576.48" rx="3.82" ry="1.95" fill="url(#gd2)"/><ellipse cx="265.67" cy="576.48" rx="3.82" ry="1.95" fill="rgba(255,255,255,0.05)"/></g><g transform="rotate(-68.92 268.32 486.91)"><ellipse cx="268.72" cy="487.31" rx="3.93" ry="2.46" fill="rgba(0,0,0,0.2)"/><ellipse cx="267.92" cy="486.51" rx="3.93" ry="2.46" fill="rgba(255,255,255,0.24)"/><ellipse cx="268.32" cy="486.91" rx="3.33" ry="1.86" fill="url(#gd2)"/><ellipse cx="268.32" cy="486.91" rx="3.33" ry="1.86" fill="rgba(255,255,255,0.05)"/></g><g transform="rotate(-19.63 193.1 555.73)"><ellipse cx="193.5" cy="556.13" rx="3.48" ry="2.52" fill="rgba(0,0,0,0.2)"/><ellipse cx="192.7" cy="555.33" rx="3.48" ry="2.52" fill="rgba(255,255,255,0.24)"/><ellipse cx="193.1" cy="555.73" rx="2.88" ry="1.92" fill="url(#gd2)"/><ellipse cx="193.1" cy="555.73" rx="2.88" ry="1.92" fill="rgba(255,255,255,0.05)"/></g><g transform="rotate(69.01 293.34 492.27)"><ellipse cx="293.74" cy="492.67" rx="3.91" ry="2.76" fill="rgba(0,0,0,0.2)"/><ellipse cx="292.94" cy="491.87" rx="3.91" ry="2.76" fill="rgba(255,255,255,0.24)"/><ellipse cx="293.34" cy="492.27" rx="3.31" ry="2.16" fill="url(#gd2)"/><ellipse cx="293.34" cy="492.27" rx="3.31" ry="2.16" fill="rgba(255,255,255,0.05)"/></g><g transform="rotate(-25.42 286.91 564.56)"><ellipse cx="287.31" cy="564.96" rx="3.68" ry="2.65" fill="rgba(0,0,0,0.2)"/><ellipse cx="286.51" cy="564.16" rx="3.68" ry="2.65" fill="rgba(255,255,255,0.24)"/><ellipse cx="286.91" cy="564.56" rx="3.08" ry="2.05" fill="url(#gd2)"/><ellipse cx="286.91" cy="564.56" rx="3.08" ry="2.05" fill="rgba(255,255,255,0.05)"/></g><g transform="rotate(-48.25 294.91 573.21)"><ellipse cx="295.31" cy="573.61" rx="3.51" ry="2.47" fill="rgba(0,0,0,0.2)"/><ellipse cx="294.51" cy="572.81" rx="3.51" ry="2.47" fill="rgba(255,255,255,0.24)"/><ellipse cx="294.91" cy="573.21" rx="2.91" ry="1.87" fill="url(#gd2)"/><ellipse cx="294.91" cy="573.21" rx="2.91" ry="1.87" fill="rgba(255,255,255,0.05)"/></g><g transform="rotate(-89.26 214.62 529.58)"><ellipse cx="215.02" cy="529.98" rx="4.1" ry="2.54" fill="rgba(0,0,0,0.2)"/><ellipse cx="214.22" cy="529.18" rx="4.1" ry="2.54" fill="rgba(255,255,255,0.24)"/><ellipse cx="214.62" cy="529.58" rx="3.5" ry="1.94" fill="url(#gd2)"/><ellipse cx="214.62" cy="529.58" rx="3.5" ry="1.94" fill="rgba(255,255,255,0.05)"/></g><g transform="rotate(21.17 255.7 572.79)"><ellipse cx="256.1" cy="573.19" rx="4.24" ry="2.73" fill="rgba(0,0,0,0.2)"/><ellipse cx="255.3" cy="572.39" rx="4.24" ry="2.73" fill="rgba(255,255,255,0.24)"/><ellipse cx="255.7" cy="572.79" rx="3.64" ry="2.13" fill="url(#gd2)"/><ellipse cx="255.7" cy="572.79" rx="3.64" ry="2.13" fill="rgba(255,255,255,0.05)"/></g><g transform="rotate(-78.8 234.24 521.65)"><ellipse cx="234.64" cy="522.05" rx="3.44" ry="2.82" fill="rgba(0,0,0,0.2)"/><ellipse cx="233.84" cy="521.25" rx="3.44" ry="2.82" fill="rgba(255,255,255,0.24)"/><ellipse cx="234.24" cy="521.65" rx="2.84" ry="2.22" fill="url(#gd2)"/><ellipse cx="234.24" cy="521.65" rx="2.84" ry="2.22" fill="rgba(255,255,255,0.05)"/></g><g transform="rotate(-80.54 194.14 504.09)"><ellipse cx="194.54" cy="504.49" rx="3.52" ry="2.6" fill="rgba(0,0,0,0.2)"/><ellipse cx="193.74" cy="503.69" rx="3.52" ry="2.6" fill="rgba(255,255,255,0.24)"/><ellipse cx="194.14" cy="504.09" rx="2.92" ry="2" fill="url(#gd2)"/><ellipse cx="194.14" cy="504.09" rx="2.92" ry="2" fill="rgba(255,255,255,0.05)"/></g><g transform="rotate(-85.41 185.86 498.79)"><ellipse cx="186.26" cy="499.19" rx="3.44" ry="2.61" fill="rgba(0,0,0,0.2)"/><ellipse cx="185.46" cy="498.39" rx="3.44" ry="2.61" fill="rgba(255,255,255,0.24)"/><ellipse cx="185.86" cy="498.79" rx="2.84" ry="2.01" fill="url(#gd2)"/><ellipse cx="185.86" cy="498.79" rx="2.84" ry="2.01" fill="rgba(255,255,255,0.05)"/></g><g transform="rotate(-27.47 293.7 541.5)"><ellipse cx="294.1" cy="541.9" rx="3.5" ry="2.53" fill="rgba(0,0,0,0.2)"/><ellipse cx="293.3" cy="541.1" rx="3.5" ry="2.53" fill="rgba(255,255,255,0.24)"/><ellipse cx="293.7" cy="541.5" rx="2.9" ry="1.93" fill="url(#gd2)"/><ellipse cx="293.7" cy="541.5" rx="2.9" ry="1.93" fill="rgba(255,255,255,0.05)"/></g><g transform="rotate(-28.33 243.32 529.48)"><ellipse cx="243.72" cy="529.88" rx="3.42" ry="2.41" fill="rgba(0,0,0,0.2)"/><ellipse cx="242.92" cy="529.08" rx="3.42" ry="2.41" fill="rgba(255,255,255,0.24)"/><ellipse cx="243.32" cy="529.48" rx="2.82" ry="1.81" fill="url(#gd2)"/><ellipse cx="243.32" cy="529.48" rx="2.82" ry="1.81" fill="rgba(255,255,255,0.05)"/></g><g transform="rotate(81.18 218.49 561.32)"><ellipse cx="218.89" cy="561.72" rx="3.52" ry="2.35" fill="rgba(0,0,0,0.2)"/><ellipse cx="218.09" cy="560.92" rx="3.52" ry="2.35" fill="rgba(255,255,255,0.24)"/><ellipse cx="218.49" cy="561.32" rx="2.92" ry="1.75" fill="url(#gd2)"/><ellipse cx="218.49" cy="561.32" rx="2.92" ry="1.75" fill="rgba(255,255,255,0.05)"/></g><g transform="rotate(5.06 251 498.36)"><ellipse cx="251.4" cy="498.76" rx="4.04" ry="2.35" fill="rgba(0,0,0,0.2)"/><ellipse cx="250.6" cy="497.96" rx="4.04" ry="2.35" fill="rgba(255,255,255,0.24)"/><ellipse cx="251" cy="498.36" rx="3.44" ry="1.75" fill="url(#gd2)"/><ellipse cx="251" cy="498.36" rx="3.44" ry="1.75" fill="rgba(255,255,255,0.05)"/></g><g transform="rotate(-23.99 306.55 564.5)"><ellipse cx="306.95" cy="564.9" rx="4.25" ry="2.53" fill="rgba(0,0,0,0.2)"/><ellipse cx="306.15" cy="564.1" rx="4.25" ry="2.53" fill="rgba(255,255,255,0.24)"/><ellipse cx="306.55" cy="564.5" rx="3.65" ry="1.93" fill="url(#gd2)"/><ellipse cx="306.55" cy="564.5" rx="3.65" ry="1.93" fill="rgba(255,255,255,0.05)"/></g><g transform="rotate(-30.66 206.44 556.07)"><ellipse cx="206.84" cy="556.47" rx="4.03" ry="2.94" fill="rgba(0,0,0,0.2)"/><ellipse cx="206.04" cy="555.67" rx="4.03" ry="2.94" fill="rgba(255,255,255,0.24)"/><ellipse cx="206.44" cy="556.07" rx="3.43" ry="2.34" fill="url(#gd2)"/><ellipse cx="206.44" cy="556.07" rx="3.43" ry="2.34" fill="rgba(255,255,255,0.05)"/></g><g transform="rotate(-84.78 277.11 505.75)"><ellipse cx="277.51" cy="506.15" rx="4.01" ry="2.61" fill="rgba(0,0,0,0.2)"/><ellipse cx="276.71" cy="505.35" rx="4.01" ry="2.61" fill="rgba(255,255,255,0.24)"/><ellipse cx="277.11" cy="505.75" rx="3.41" ry="2.01" fill="url(#gd2)"/><ellipse cx="277.11" cy="505.75" rx="3.41" ry="2.01" fill="rgba(255,255,255,0.05)"/></g><g transform="rotate(82.17 189.28 510.62)"><ellipse cx="189.68" cy="511.02" rx="3.66" ry="2.87" fill="rgba(0,0,0,0.2)"/><ellipse cx="188.88" cy="510.22" rx="3.66" ry="2.87" fill="rgba(255,255,255,0.24)"/><ellipse cx="189.28" cy="510.62" rx="3.06" ry="2.27" fill="url(#gd2)"/><ellipse cx="189.28" cy="510.62" rx="3.06" ry="2.27" fill="rgba(255,255,255,0.05)"/></g><g transform="rotate(-24.37 241 571.3)"><ellipse cx="241.4" cy="571.7" rx="4.65" ry="3.07" fill="rgba(0,0,0,0.2)"/><ellipse cx="240.6" cy="570.9" rx="4.65" ry="3.07" fill="rgba(255,255,255,0.24)"/><ellipse cx="241" cy="571.3" rx="4.05" ry="2.47" fill="url(#gd2)"/><ellipse cx="241" cy="571.3" rx="4.05" ry="2.47" fill="rgba(255,255,255,0.05)"/></g><g transform="rotate(22.33 213.03 505.76)"><ellipse cx="213.43" cy="506.16" rx="3.57" ry="2.49" fill="rgba(0,0,0,0.2)"/><ellipse cx="212.63" cy="505.36" rx="3.57" ry="2.49" fill="rgba(255,255,255,0.24)"/><ellipse cx="213.03" cy="505.76" rx="2.97" ry="1.89" fill="url(#gd2)"/><ellipse cx="213.03" cy="505.76" rx="2.97" ry="1.89" fill="rgba(255,255,255,0.05)"/></g><g transform="rotate(53.94 296.9 562.39)"><ellipse cx="297.3" cy="562.79" rx="3.95" ry="2.84" fill="rgba(0,0,0,0.2)"/><ellipse cx="296.5" cy="561.99" rx="3.95" ry="2.84" fill="rgba(255,255,255,0.24)"/><ellipse cx="296.9" cy="562.39" rx="3.35" ry="2.24" fill="url(#gd2)"/><ellipse cx="296.9" cy="562.39" rx="3.35" ry="2.24" fill="rgba(255,255,255,0.05)"/></g><g transform="rotate(45.03 196.29 545.79)"><ellipse cx="196.69" cy="546.19" rx="4.54" ry="2.94" fill="rgba(0,0,0,0.2)"/><ellipse cx="195.89" cy="545.39" rx="4.54" ry="2.94" fill="rgba(255,255,255,0.24)"/><ellipse cx="196.29" cy="545.79" rx="3.94" ry="2.34" fill="url(#gd2)"/><ellipse cx="196.29" cy="545.79" rx="3.94" ry="2.34" fill="rgba(255,255,255,0.05)"/></g><g transform="rotate(-18.75 283.19 515.52)"><ellipse cx="283.59" cy="515.92" rx="4.39" ry="3.09" fill="rgba(0,0,0,0.2)"/><ellipse cx="282.79" cy="515.12" rx="4.39" ry="3.09" fill="rgba(255,255,255,0.24)"/><ellipse cx="283.19" cy="515.52" rx="3.79" ry="2.49" fill="url(#gd2)"/><ellipse cx="283.19" cy="515.52" rx="3.79" ry="2.49" fill="rgba(255,255,255,0.05)"/></g><g transform="rotate(-63.69 201.5 498.78)"><ellipse cx="201.9" cy="499.18" rx="4.53" ry="2.96" fill="rgba(0,0,0,0.2)"/><ellipse cx="201.1" cy="498.38" rx="4.53" ry="2.96" fill="rgba(255,255,255,0.24)"/><ellipse cx="201.5" cy="498.78" rx="3.93" ry="2.36" fill="url(#gd2)"/><ellipse cx="201.5" cy="498.78" rx="3.93" ry="2.36" fill="rgba(255,255,255,0.05)"/></g><g transform="rotate(78.05 187.59 574.43)"><ellipse cx="187.99" cy="574.83" rx="4.19" ry="2.74" fill="rgba(0,0,0,0.2)"/><ellipse cx="187.19" cy="574.03" rx="4.19" ry="2.74" fill="rgba(255,255,255,0.24)"/><ellipse cx="187.59" cy="574.43" rx="3.59" ry="2.14" fill="url(#gd2)"/><ellipse cx="187.59" cy="574.43" rx="3.59" ry="2.14" fill="rgba(255,255,255,0.05)"/></g><g transform="rotate(-46.7 287.75 504.31)"><ellipse cx="288.15" cy="504.71" rx="3.65" ry="2.56" fill="rgba(0,0,0,0.2)"/><ellipse cx="287.35" cy="503.91" rx="3.65" ry="2.56" fill="rgba(255,255,255,0.24)"/><ellipse cx="287.75" cy="504.31" rx="3.05" ry="1.96" fill="url(#gd2)"/><ellipse cx="287.75" cy="504.31" rx="3.05" ry="1.96" fill="rgba(255,255,255,0.05)"/></g><g transform="rotate(73.8 258.18 508.76)"><ellipse cx="258.58" cy="509.16" rx="3.87" ry="2.43" fill="rgba(0,0,0,0.2)"/><ellipse cx="257.78" cy="508.36" rx="3.87" ry="2.43" fill="rgba(255,255,255,0.24)"/><ellipse cx="258.18" cy="508.76" rx="3.27" ry="1.83" fill="url(#gd2)"/><ellipse cx="258.18" cy="508.76" rx="3.27" ry="1.83" fill="rgba(255,255,255,0.05)"/></g><g transform="rotate(-89.29 250.42 486.55)"><ellipse cx="250.82" cy="486.95" rx="3.9" ry="2.47" fill="rgba(0,0,0,0.2)"/><ellipse cx="250.02" cy="486.15" rx="3.9" ry="2.47" fill="rgba(255,255,255,0.24)"/><ellipse cx="250.42" cy="486.55" rx="3.3" ry="1.87" fill="url(#gd2)"/><ellipse cx="250.42" cy="486.55" rx="3.3" ry="1.87" fill="rgba(255,255,255,0.05)"/></g><g transform="rotate(10.85 249.78 536.09)"><ellipse cx="250.18" cy="536.49" rx="4.37" ry="2.41" fill="rgba(0,0,0,0.2)"/><ellipse cx="249.38" cy="535.69" rx="4.37" ry="2.41" fill="rgba(255,255,255,0.24)"/><ellipse cx="249.78" cy="536.09" rx="3.77" ry="1.81" fill="url(#gd2)"/><ellipse cx="249.78" cy="536.09" rx="3.77" ry="1.81" fill="rgba(255,255,255,0.05)"/></g><g transform="rotate(74.25 281.1 531.68)"><ellipse cx="281.5" cy="532.08" rx="4.07" ry="2.92" fill="rgba(0,0,0,0.2)"/><ellipse cx="280.7" cy="531.28" rx="4.07" ry="2.92" fill="rgba(255,255,255,0.24)"/><ellipse cx="281.1" cy="531.68" rx="3.47" ry="2.32" fill="url(#gd2)"/><ellipse cx="281.1" cy="531.68" rx="3.47" ry="2.32" fill="rgba(255,255,255,0.05)"/></g><g transform="rotate(34.69 240.51 541.36)"><ellipse cx="240.91" cy="541.76" rx="3.99" ry="2.73" fill="rgba(0,0,0,0.2)"/><ellipse cx="240.11" cy="540.96" rx="3.99" ry="2.73" fill="rgba(255,255,255,0.24)"/><ellipse cx="240.51" cy="541.36" rx="3.39" ry="2.13" fill="url(#gd2)"/><ellipse cx="240.51" cy="541.36" rx="3.39" ry="2.13" fill="rgba(255,255,255,0.05)"/></g><g transform="rotate(10.71 272.09 565.72)"><ellipse cx="272.49" cy="566.12" rx="4.58" ry="2.53" fill="rgba(0,0,0,0.2)"/><ellipse cx="271.69" cy="565.32" rx="4.58" ry="2.53" fill="rgba(255,255,255,0.24)"/><ellipse cx="272.09" cy="565.72" rx="3.98" ry="1.93" fill="url(#gd2)"/><ellipse cx="272.09" cy="565.72" rx="3.98" ry="1.93" fill="rgba(255,255,255,0.05)"/></g><g transform="rotate(30.5 240.37 491.52)"><ellipse cx="240.77" cy="491.92" rx="3.63" ry="2.39" fill="rgba(0,0,0,0.2)"/><ellipse cx="239.97" cy="491.12" rx="3.63" ry="2.39" fill="rgba(255,255,255,0.24)"/><ellipse cx="240.37" cy="491.52" rx="3.03" ry="1.79" fill="url(#gd2)"/><ellipse cx="240.37" cy="491.52" rx="3.03" ry="1.79" fill="rgba(255,255,255,0.05)"/></g><g transform="rotate(-50.47 267.29 498.02)"><ellipse cx="267.69" cy="498.42" rx="4.5" ry="3.08" fill="rgba(0,0,0,0.2)"/><ellipse cx="266.89" cy="497.62" rx="4.5" ry="3.08" fill="rgba(255,255,255,0.24)"/><ellipse cx="267.29" cy="498.02" rx="3.9" ry="2.48" fill="url(#gd2)"/><ellipse cx="267.29" cy="498.02" rx="3.9" ry="2.48" fill="rgba(255,255,255,0.05)"/></g><g transform="rotate(-10.72 225.13 551.47)"><ellipse cx="225.53" cy="551.87" rx="3.33" ry="2.76" fill="rgba(0,0,0,0.2)"/><ellipse cx="224.73" cy="551.07" rx="3.33" ry="2.76" fill="rgba(255,255,255,0.24)"/><ellipse cx="225.13" cy="551.47" rx="2.73" ry="2.16" fill="url(#gd2)"/><ellipse cx="225.13" cy="551.47" rx="2.73" ry="2.16" fill="rgba(255,255,255,0.05)"/></g><g transform="rotate(51.91 262.8 532.1)"><ellipse cx="263.2" cy="532.5" rx="3.39" ry="3.1" fill="rgba(0,0,0,0.2)"/><ellipse cx="262.4" cy="531.7" rx="3.39" ry="3.1" fill="rgba(255,255,255,0.24)"/><ellipse cx="262.8" cy="532.1" rx="2.79" ry="2.5" fill="url(#gd2)"/><ellipse cx="262.8" cy="532.1" rx="2.79" ry="2.5" fill="rgba(255,255,255,0.05)"/></g><g transform="rotate(-66.68 218.59 488.48)"><ellipse cx="218.99" cy="488.88" rx="4.36" ry="2.54" fill="rgba(0,0,0,0.2)"/><ellipse cx="218.19" cy="488.08" rx="4.36" ry="2.54" fill="rgba(255,255,255,0.24)"/><ellipse cx="218.59" cy="488.48" rx="3.76" ry="1.94" fill="url(#gd2)"/><ellipse cx="218.59" cy="488.48" rx="3.76" ry="1.94" fill="rgba(255,255,255,0.05)"/></g><g transform="rotate(-73.9 204.26 569.66)"><ellipse cx="204.66" cy="570.06" rx="4.08" ry="2.88" fill="rgba(0,0,0,0.2)"/><ellipse cx="203.86" cy="569.26" rx="4.08" ry="2.88" fill="rgba(255,255,255,0.24)"/><ellipse cx="204.26" cy="569.66" rx="3.48" ry="2.28" fill="url(#gd2)"/><ellipse cx="204.26" cy="569.66" rx="3.48" ry="2.28" fill="rgba(255,255,255,0.05)"/></g><g transform="rotate(64.12 301.6 543.38)"><ellipse cx="302" cy="543.78" rx="4.39" ry="2.4" fill="rgba(0,0,0,0.2)"/><ellipse cx="301.2" cy="542.98" rx="4.39" ry="2.4" fill="rgba(255,255,255,0.24)"/><ellipse cx="301.6" cy="543.38" rx="3.79" ry="1.8" fill="url(#gd2)"/><ellipse cx="301.6" cy="543.38" rx="3.79" ry="1.8" fill="rgba(255,255,255,0.05)"/></g><g transform="rotate(9.55 194.05 564.45)"><ellipse cx="194.45" cy="564.85" rx="3.92" ry="2.6" fill="rgba(0,0,0,0.2)"/><ellipse cx="193.65" cy="564.05" rx="3.92" ry="2.6" fill="rgba(255,255,255,0.24)"/><ellipse cx="194.05" cy="564.45" rx="3.32" ry="2" fill="url(#gd2)"/><ellipse cx="194.05" cy="564.45" rx="3.32" ry="2" fill="rgba(255,255,255,0.05)"/></g><g transform="rotate(-47.08 300.15 509.55)"><ellipse cx="300.55" cy="509.95" rx="3.48" ry="2.74" fill="rgba(0,0,0,0.2)"/><ellipse cx="299.75" cy="509.15" rx="3.48" ry="2.74" fill="rgba(255,255,255,0.24)"/><ellipse cx="300.15" cy="509.55" rx="2.88" ry="2.14" fill="url(#gd2)"/><ellipse cx="300.15" cy="509.55" rx="2.88" ry="2.14" fill="rgba(255,255,255,0.05)"/></g><g transform="rotate(0.02 224.32 512.98)"><ellipse cx="224.72" cy="513.38" rx="4.34" ry="2.56" fill="rgba(0,0,0,0.2)"/><ellipse cx="223.92" cy="512.58" rx="4.34" ry="2.56" fill="rgba(255,255,255,0.24)"/><ellipse cx="224.32" cy="512.98" rx="3.74" ry="1.96" fill="url(#gd2)"/><ellipse cx="224.32" cy="512.98" rx="3.74" ry="1.96" fill="rgba(255,255,255,0.05)"/></g><g transform="rotate(-87.24 207.78 516.85)"><ellipse cx="208.18" cy="517.25" rx="3.33" ry="2.53" fill="rgba(0,0,0,0.2)"/><ellipse cx="207.38" cy="516.45" rx="3.33" ry="2.53" fill="rgba(255,255,255,0.24)"/><ellipse cx="207.78" cy="516.85" rx="2.73" ry="1.93" fill="url(#gd2)"/><ellipse cx="207.78" cy="516.85" rx="2.73" ry="1.93" fill="rgba(255,255,255,0.05)"/></g><g transform="rotate(-19.24 286.86 524.71)"><ellipse cx="287.26" cy="525.11" rx="3.98" ry="2.98" fill="rgba(0,0,0,0.2)"/><ellipse cx="286.46" cy="524.31" rx="3.98" ry="2.98" fill="rgba(255,255,255,0.24)"/><ellipse cx="286.86" cy="524.71" rx="3.38" ry="2.38" fill="url(#gd2)"/><ellipse cx="286.86" cy="524.71" rx="3.38" ry="2.38" fill="rgba(255,255,255,0.05)"/></g><g transform="rotate(59.81 248.34 548.3)"><ellipse cx="248.74" cy="548.7" rx="4.64" ry="2.6" fill="rgba(0,0,0,0.2)"/><ellipse cx="247.94" cy="547.9" rx="4.64" ry="2.6" fill="rgba(255,255,255,0.24)"/><ellipse cx="248.34" cy="548.3" rx="4.04" ry="2" fill="url(#gd2)"/><ellipse cx="248.34" cy="548.3" rx="4.04" ry="2" fill="rgba(255,255,255,0.05)"/></g><g transform="rotate(85.07 205.26 525.97)"><ellipse cx="205.66" cy="526.37" rx="3.66" ry="3.08" fill="rgba(0,0,0,0.2)"/><ellipse cx="204.86" cy="525.57" rx="3.66" ry="3.08" fill="rgba(255,255,255,0.24)"/><ellipse cx="205.26" cy="525.97" rx="3.06" ry="2.48" fill="url(#gd2)"/><ellipse cx="205.26" cy="525.97" rx="3.06" ry="2.48" fill="rgba(255,255,255,0.05)"/></g><g transform="rotate(-63.1 294.28 520.78)"><ellipse cx="294.68" cy="521.18" rx="3.75" ry="3.1" fill="rgba(0,0,0,0.2)"/><ellipse cx="293.88" cy="520.38" rx="3.75" ry="3.1" fill="rgba(255,255,255,0.24)"/><ellipse cx="294.28" cy="520.78" rx="3.15" ry="2.5" fill="url(#gd2)"/><ellipse cx="294.28" cy="520.78" rx="3.15" ry="2.5" fill="rgba(255,255,255,0.05)"/></g><g transform="rotate(15.13 248.05 561.88)"><ellipse cx="248.45" cy="562.28" rx="4.4" ry="2.97" fill="rgba(0,0,0,0.2)"/><ellipse cx="247.65" cy="561.48" rx="4.4" ry="2.97" fill="rgba(255,255,255,0.24)"/><ellipse cx="248.05" cy="561.88" rx="3.8" ry="2.37" fill="url(#gd2)"/><ellipse cx="248.05" cy="561.88" rx="3.8" ry="2.37" fill="rgba(255,255,255,0.05)"/></g><g transform="rotate(-89.4 263.28 542.62)"><ellipse cx="263.68" cy="543.02" rx="4.23" ry="2.71" fill="rgba(0,0,0,0.2)"/><ellipse cx="262.88" cy="542.22" rx="4.23" ry="2.71" fill="rgba(255,255,255,0.24)"/><ellipse cx="263.28" cy="542.62" rx="3.63" ry="2.11" fill="url(#gd2)"/><ellipse cx="263.28" cy="542.62" rx="3.63" ry="2.11" fill="rgba(255,255,255,0.05)"/></g><g transform="rotate(-3.78 277.1 574.88)"><ellipse cx="277.5" cy="575.28" rx="3.97" ry="2.63" fill="rgba(0,0,0,0.2)"/><ellipse cx="276.7" cy="574.48" rx="3.97" ry="2.63" fill="rgba(255,255,255,0.24)"/><ellipse cx="277.1" cy="574.88" rx="3.37" ry="2.03" fill="url(#gd2)"/><ellipse cx="277.1" cy="574.88" rx="3.37" ry="2.03" fill="rgba(255,255,255,0.05)"/></g><g transform="rotate(-87.76 217.16 553.42)"><ellipse cx="217.56" cy="553.82" rx="3.72" ry="2.77" fill="rgba(0,0,0,0.2)"/><ellipse cx="216.76" cy="553.02" rx="3.72" ry="2.77" fill="rgba(255,255,255,0.24)"/><ellipse cx="217.16" cy="553.42" rx="3.12" ry="2.17" fill="url(#gd2)"/><ellipse cx="217.16" cy="553.42" rx="3.12" ry="2.17" fill="rgba(255,255,255,0.05)"/></g><g transform="rotate(-6.06 269.19 511.67)"><ellipse cx="269.59" cy="512.07" rx="4.01" ry="2.69" fill="rgba(0,0,0,0.2)"/><ellipse cx="268.79" cy="511.27" rx="4.01" ry="2.69" fill="rgba(255,255,255,0.24)"/><ellipse cx="269.19" cy="511.67" rx="3.41" ry="2.09" fill="url(#gd2)"/><ellipse cx="269.19" cy="511.67" rx="3.41" ry="2.09" fill="rgba(255,255,255,0.05)"/></g><g transform="rotate(-7.39 210.41 575.1)"><ellipse cx="210.81" cy="575.5" rx="4.58" ry="2.35" fill="rgba(0,0,0,0.2)"/><ellipse cx="210.01" cy="574.7" rx="4.58" ry="2.35" fill="rgba(255,255,255,0.24)"/><ellipse cx="210.41" cy="575.1" rx="3.98" ry="1.75" fill="url(#gd2)"/><ellipse cx="210.41" cy="575.1" rx="3.98" ry="1.75" fill="rgba(255,255,255,0.05)"/></g><g transform="rotate(-52.23 286.98 574.17)"><ellipse cx="287.38" cy="574.57" rx="3.91" ry="2.54" fill="rgba(0,0,0,0.2)"/><ellipse cx="286.58" cy="573.77" rx="3.91" ry="2.54" fill="rgba(255,255,255,0.24)"/><ellipse cx="286.98" cy="574.17" rx="3.31" ry="1.94" fill="url(#gd2)"/><ellipse cx="286.98" cy="574.17" rx="3.31" ry="1.94" fill="rgba(255,255,255,0.05)"/></g><g transform="rotate(-35.65 188.89 485.16)"><ellipse cx="189.29" cy="485.56" rx="3.97" ry="2.68" fill="rgba(0,0,0,0.2)"/><ellipse cx="188.49" cy="484.76" rx="3.97" ry="2.68" fill="rgba(255,255,255,0.24)"/><ellipse cx="188.89" cy="485.16" rx="3.37" ry="2.08" fill="url(#gd2)"/><ellipse cx="188.89" cy="485.16" rx="3.37" ry="2.08" fill="rgba(255,255,255,0.05)"/></g><g transform="rotate(-40.47 309.05 539.2)"><ellipse cx="309.45" cy="539.6" rx="3.79" ry="2.66" fill="rgba(0,0,0,0.2)"/><ellipse cx="308.65" cy="538.8" rx="3.79" ry="2.66" fill="rgba(255,255,255,0.24)"/><ellipse cx="309.05" cy="539.2" rx="3.19" ry="2.06" fill="url(#gd2)"/><ellipse cx="309.05" cy="539.2" rx="3.19" ry="2.06" fill="rgba(255,255,255,0.05)"/></g><g transform="rotate(-60.9 222.94 536.26)"><ellipse cx="223.34" cy="536.66" rx="3.84" ry="2.46" fill="rgba(0,0,0,0.2)"/><ellipse cx="222.54" cy="535.86" rx="3.84" ry="2.46" fill="rgba(255,255,255,0.24)"/><ellipse cx="222.94" cy="536.26" rx="3.24" ry="1.86" fill="url(#gd2)"/><ellipse cx="222.94" cy="536.26" rx="3.24" ry="1.86" fill="rgba(255,255,255,0.05)"/></g><g transform="rotate(-9.01 247.15 505.13)"><ellipse cx="247.55" cy="505.53" rx="4.54" ry="3.11" fill="rgba(0,0,0,0.2)"/><ellipse cx="246.75" cy="504.73" rx="4.54" ry="3.11" fill="rgba(255,255,255,0.24)"/><ellipse cx="247.15" cy="505.13" rx="3.94" ry="2.51" fill="url(#gd2)"/><ellipse cx="247.15" cy="505.13" rx="3.94" ry="2.51" fill="rgba(255,255,255,0.05)"/></g><g transform="rotate(-40.05 250.5 519.61)"><ellipse cx="250.9" cy="520.01" rx="3.76" ry="2.38" fill="rgba(0,0,0,0.2)"/><ellipse cx="250.1" cy="519.21" rx="3.76" ry="2.38" fill="rgba(255,255,255,0.24)"/><ellipse cx="250.5" cy="519.61" rx="3.16" ry="1.78" fill="url(#gd2)"/><ellipse cx="250.5" cy="519.61" rx="3.16" ry="1.78" fill="rgba(255,255,255,0.05)"/></g><g transform="rotate(58.61 258.27 484.85)"><ellipse cx="258.67" cy="485.25" rx="3.84" ry="3.05" fill="rgba(0,0,0,0.2)"/><ellipse cx="257.87" cy="484.45" rx="3.84" ry="3.05" fill="rgba(255,255,255,0.24)"/><ellipse cx="258.27" cy="484.85" rx="3.24" ry="2.45" fill="url(#gd2)"/><ellipse cx="258.27" cy="484.85" rx="3.24" ry="2.45" fill="rgba(255,255,255,0.05)"/></g><g transform="rotate(-49.76 194.51 533.23)"><ellipse cx="194.91" cy="533.63" rx="4.1" ry="2.63" fill="rgba(0,0,0,0.2)"/><ellipse cx="194.11" cy="532.83" rx="4.1" ry="2.63" fill="rgba(255,255,255,0.24)"/><ellipse cx="194.51" cy="533.23" rx="3.5" ry="2.03" fill="url(#gd2)"/><ellipse cx="194.51" cy="533.23" rx="3.5" ry="2.03" fill="rgba(255,255,255,0.05)"/></g><g transform="rotate(69.08 223.03 527.34)"><ellipse cx="223.43" cy="527.74" rx="4.61" ry="2.83" fill="rgba(0,0,0,0.2)"/><ellipse cx="222.63" cy="526.94" rx="4.61" ry="2.83" fill="rgba(255,255,255,0.24)"/><ellipse cx="223.03" cy="527.34" rx="4.01" ry="2.23" fill="url(#gd2)"/><ellipse cx="223.03" cy="527.34" rx="4.01" ry="2.23" fill="rgba(255,255,255,0.05)"/></g><g transform="rotate(85.34 302.88 498.34)"><ellipse cx="303.28" cy="498.74" rx="3.84" ry="2.5" fill="rgba(0,0,0,0.2)"/><ellipse cx="302.48" cy="497.94" rx="3.84" ry="2.5" fill="rgba(255,255,255,0.24)"/><ellipse cx="302.88" cy="498.34" rx="3.24" ry="1.9" fill="url(#gd2)"/><ellipse cx="302.88" cy="498.34" rx="3.24" ry="1.9" fill="rgba(255,255,255,0.05)"/></g><g transform="rotate(71.67 203.34 489.61)"><ellipse cx="203.74" cy="490.01" rx="3.38" ry="2.64" fill="rgba(0,0,0,0.2)"/><ellipse cx="202.94" cy="489.21" rx="3.38" ry="2.64" fill="rgba(255,255,255,0.24)"/><ellipse cx="203.34" cy="489.61" rx="2.78" ry="2.04" fill="url(#gd2)"/><ellipse cx="203.34" cy="489.61" rx="2.78" ry="2.04" fill="rgba(255,255,255,0.05)"/></g><g transform="rotate(-52.67 229.19 573.01)"><ellipse cx="229.59" cy="573.41" rx="3.47" ry="3.08" fill="rgba(0,0,0,0.2)"/><ellipse cx="228.79" cy="572.61" rx="3.47" ry="3.08" fill="rgba(255,255,255,0.24)"/><ellipse cx="229.19" cy="573.01" rx="2.87" ry="2.48" fill="url(#gd2)"/><ellipse cx="229.19" cy="573.01" rx="2.87" ry="2.48" fill="rgba(255,255,255,0.05)"/></g><g transform="rotate(-81.13 229.83 560.65)"><ellipse cx="230.23" cy="561.05" rx="4.42" ry="2.67" fill="rgba(0,0,0,0.2)"/><ellipse cx="229.43" cy="560.25" rx="4.42" ry="2.67" fill="rgba(255,255,255,0.24)"/><ellipse cx="229.83" cy="560.65" rx="3.82" ry="2.07" fill="url(#gd2)"/><ellipse cx="229.83" cy="560.65" rx="3.82" ry="2.07" fill="rgba(255,255,255,0.05)"/></g><g transform="rotate(-82.68 189.56 522.74)"><ellipse cx="189.96" cy="523.14" rx="4.41" ry="2.93" fill="rgba(0,0,0,0.2)"/><ellipse cx="189.16" cy="522.34" rx="4.41" ry="2.93" fill="rgba(255,255,255,0.24)"/><ellipse cx="189.56" cy="522.74" rx="3.81" ry="2.33" fill="url(#gd2)"/><ellipse cx="189.56" cy="522.74" rx="3.81" ry="2.33" fill="rgba(255,255,255,0.05)"/></g><g transform="rotate(-12.61 303.87 572.86)"><ellipse cx="304.27" cy="573.26" rx="3.83" ry="2.53" fill="rgba(0,0,0,0.2)"/><ellipse cx="303.47" cy="572.46" rx="3.83" ry="2.53" fill="rgba(255,255,255,0.24)"/><ellipse cx="303.87" cy="572.86" rx="3.23" ry="1.93" fill="url(#gd2)"/><ellipse cx="303.87" cy="572.86" rx="3.23" ry="1.93" fill="rgba(255,255,255,0.05)"/></g><g transform="rotate(-24.87 281.17 540.87)"><ellipse cx="281.57" cy="541.27" rx="3.75" ry="2.58" fill="rgba(0,0,0,0.2)"/><ellipse cx="280.77" cy="540.47" rx="3.75" ry="2.58" fill="rgba(255,255,255,0.24)"/><ellipse cx="281.17" cy="540.87" rx="3.15" ry="1.98" fill="url(#gd2)"/><ellipse cx="281.17" cy="540.87" rx="3.15" ry="1.98" fill="rgba(255,255,255,0.05)"/></g><g transform="rotate(-45.48 282.34 492.12)"><ellipse cx="282.74" cy="492.52" rx="3.57" ry="2.92" fill="rgba(0,0,0,0.2)"/><ellipse cx="281.94" cy="491.72" rx="3.57" ry="2.92" fill="rgba(255,255,255,0.24)"/><ellipse cx="282.34" cy="492.12" rx="2.97" ry="2.32" fill="url(#gd2)"/><ellipse cx="282.34" cy="492.12" rx="2.97" ry="2.32" fill="rgba(255,255,255,0.05)"/></g><g transform="rotate(-56.67 210.93 485.88)"><ellipse cx="211.33" cy="486.28" rx="3.75" ry="2.86" fill="rgba(0,0,0,0.2)"/><ellipse cx="210.53" cy="485.48" rx="3.75" ry="2.86" fill="rgba(255,255,255,0.24)"/><ellipse cx="210.93" cy="485.88" rx="3.15" ry="2.26" fill="url(#gd2)"/><ellipse cx="210.93" cy="485.88" rx="3.15" ry="2.26" fill="rgba(255,255,255,0.05)"/></g><g transform="rotate(-60.54 234.6 535.6)"><ellipse cx="235" cy="536" rx="4.17" ry="2.4" fill="rgba(0,0,0,0.2)"/><ellipse cx="234.2" cy="535.2" rx="4.17" ry="2.4" fill="rgba(255,255,255,0.24)"/><ellipse cx="234.6" cy="535.6" rx="3.57" ry="1.8" fill="url(#gd2)"/><ellipse cx="234.6" cy="535.6" rx="3.57" ry="1.8" fill="rgba(255,255,255,0.05)"/></g><g transform="rotate(81.57 271.62 522.65)"><ellipse cx="272.02" cy="523.05" rx="3.69" ry="2.57" fill="rgba(0,0,0,0.2)"/><ellipse cx="271.22" cy="522.25" rx="3.69" ry="2.57" fill="rgba(255,255,255,0.24)"/><ellipse cx="271.62" cy="522.65" rx="3.09" ry="1.97" fill="url(#gd2)"/><ellipse cx="271.62" cy="522.65" rx="3.09" ry="1.97" fill="rgba(255,255,255,0.05)"/></g><g transform="rotate(-3.11 210.18 496.52)"><ellipse cx="210.58" cy="496.92" rx="4.59" ry="3.09" fill="rgba(0,0,0,0.2)"/><ellipse cx="209.78" cy="496.12" rx="4.59" ry="3.09" fill="rgba(255,255,255,0.24)"/><ellipse cx="210.18" cy="496.52" rx="3.99" ry="2.49" fill="url(#gd2)"/><ellipse cx="210.18" cy="496.52" rx="3.99" ry="2.49" fill="rgba(255,255,255,0.05)"/></g><g transform="rotate(-50.03 262.36 560.92)"><ellipse cx="262.76" cy="561.32" rx="3.52" ry="2.94" fill="rgba(0,0,0,0.2)"/><ellipse cx="261.96" cy="560.52" rx="3.52" ry="2.94" fill="rgba(255,255,255,0.24)"/><ellipse cx="262.36" cy="560.92" rx="2.92" ry="2.34" fill="url(#gd2)"/><ellipse cx="262.36" cy="560.92" rx="2.92" ry="2.34" fill="rgba(255,255,255,0.05)"/></g><g transform="rotate(47.44 188.71 541.94)"><ellipse cx="189.11" cy="542.34" rx="3.97" ry="2.51" fill="rgba(0,0,0,0.2)"/><ellipse cx="188.31" cy="541.54" rx="3.97" ry="2.51" fill="rgba(255,255,255,0.24)"/><ellipse cx="188.71" cy="541.94" rx="3.37" ry="1.91" fill="url(#gd2)"/><ellipse cx="188.71" cy="541.94" rx="3.37" ry="1.91" fill="rgba(255,255,255,0.05)"/></g><g transform="rotate(86.71 308.72 552.39)"><ellipse cx="309.12" cy="552.79" rx="4.41" ry="2.48" fill="rgba(0,0,0,0.2)"/><ellipse cx="308.32" cy="551.99" rx="4.41" ry="2.48" fill="rgba(255,255,255,0.24)"/><ellipse cx="308.72" cy="552.39" rx="3.81" ry="1.88" fill="url(#gd2)"/><ellipse cx="308.72" cy="552.39" rx="3.81" ry="1.88" fill="rgba(255,255,255,0.05)"/></g><g transform="rotate(53.58 198.73 576.47)"><ellipse cx="199.13" cy="576.87" rx="4.16" ry="2.64" fill="rgba(0,0,0,0.2)"/><ellipse cx="198.33" cy="576.07" rx="4.16" ry="2.64" fill="rgba(255,255,255,0.24)"/><ellipse cx="198.73" cy="576.47" rx="3.56" ry="2.04" fill="url(#gd2)"/><ellipse cx="198.73" cy="576.47" rx="3.56" ry="2.04" fill="rgba(255,255,255,0.05)"/></g><g transform="rotate(47.64 218.49 576.24)"><ellipse cx="218.89" cy="576.64" rx="4.09" ry="2.61" fill="rgba(0,0,0,0.2)"/><ellipse cx="218.09" cy="575.84" rx="4.09" ry="2.61" fill="rgba(255,255,255,0.24)"/><ellipse cx="218.49" cy="576.24" rx="3.49" ry="2.01" fill="url(#gd2)"/><ellipse cx="218.49" cy="576.24" rx="3.49" ry="2.01" fill="rgba(255,255,255,0.05)"/></g><g transform="rotate(57.57 240.39 501.14)"><ellipse cx="240.79" cy="501.54" rx="4.31" ry="2.37" fill="rgba(0,0,0,0.2)"/><ellipse cx="239.99" cy="500.74" rx="4.31" ry="2.37" fill="rgba(255,255,255,0.24)"/><ellipse cx="240.39" cy="501.14" rx="3.71" ry="1.77" fill="url(#gd2)"/><ellipse cx="240.39" cy="501.14" rx="3.71" ry="1.77" fill="rgba(255,255,255,0.05)"/></g><g transform="rotate(71.2 204.26 541.68)"><ellipse cx="204.66" cy="542.08" rx="3.89" ry="2.73" fill="rgba(0,0,0,0.2)"/><ellipse cx="203.86" cy="541.28" rx="3.89" ry="2.73" fill="rgba(255,255,255,0.24)"/><ellipse cx="204.26" cy="541.68" rx="3.29" ry="2.13" fill="url(#gd2)"/><ellipse cx="204.26" cy="541.68" rx="3.29" ry="2.13" fill="rgba(255,255,255,0.05)"/></g><g transform="rotate(29.74 215.34 568.59)"><ellipse cx="215.74" cy="568.99" rx="4.16" ry="2.87" fill="rgba(0,0,0,0.2)"/><ellipse cx="214.94" cy="568.19" rx="4.16" ry="2.87" fill="rgba(255,255,255,0.24)"/><ellipse cx="215.34" cy="568.59" rx="3.56" ry="2.27" fill="url(#gd2)"/><ellipse cx="215.34" cy="568.59" rx="3.56" ry="2.27" fill="rgba(255,255,255,0.05)"/></g><g transform="rotate(-85.47 234.51 567)"><ellipse cx="234.91" cy="567.4" rx="3.42" ry="3.02" fill="rgba(0,0,0,0.2)"/><ellipse cx="234.11" cy="566.6" rx="3.42" ry="3.02" fill="rgba(255,255,255,0.24)"/><ellipse cx="234.51" cy="567" rx="2.82" ry="2.42" fill="url(#gd2)"/><ellipse cx="234.51" cy="567" rx="2.82" ry="2.42" fill="rgba(255,255,255,0.05)"/></g><g transform="rotate(-30.95 216.37 514.97)"><ellipse cx="216.77" cy="515.37" rx="4.01" ry="2.46" fill="rgba(0,0,0,0.2)"/><ellipse cx="215.97" cy="514.57" rx="4.01" ry="2.46" fill="rgba(255,255,255,0.24)"/><ellipse cx="216.37" cy="514.97" rx="3.41" ry="1.86" fill="url(#gd2)"/><ellipse cx="216.37" cy="514.97" rx="3.41" ry="1.86" fill="rgba(255,255,255,0.05)"/></g><g transform="rotate(-18.06 307.29 517.63)"><ellipse cx="307.69" cy="518.03" rx="3.38" ry="2.54" fill="rgba(0,0,0,0.2)"/><ellipse cx="306.89" cy="517.23" rx="3.38" ry="2.54" fill="rgba(255,255,255,0.24)"/><ellipse cx="307.29" cy="517.63" rx="2.78" ry="1.94" fill="url(#gd2)"/><ellipse cx="307.29" cy="517.63" rx="2.78" ry="1.94" fill="rgba(255,255,255,0.05)"/></g><g transform="rotate(-5.74 229.4 543.78)"><ellipse cx="229.8" cy="544.18" rx="4.42" ry="2.97" fill="rgba(0,0,0,0.2)"/><ellipse cx="229" cy="543.38" rx="4.42" ry="2.97" fill="rgba(255,255,255,0.24)"/><ellipse cx="229.4" cy="543.78" rx="3.82" ry="2.37" fill="url(#gd2)"/><ellipse cx="229.4" cy="543.78" rx="3.82" ry="2.37" fill="rgba(255,255,255,0.05)"/></g><g transform="rotate(53.52 256.76 525.32)"><ellipse cx="257.16" cy="525.72" rx="4.22" ry="2.44" fill="rgba(0,0,0,0.2)"/><ellipse cx="256.36" cy="524.92" rx="4.22" ry="2.44" fill="rgba(255,255,255,0.24)"/><ellipse cx="256.76" cy="525.32" rx="3.62" ry="1.84" fill="url(#gd2)"/><ellipse cx="256.76" cy="525.32" rx="3.62" ry="1.84" fill="rgba(255,255,255,0.05)"/></g><g transform="rotate(-55.95 295.03 532.99)"><ellipse cx="295.43" cy="533.39" rx="3.95" ry="2.79" fill="rgba(0,0,0,0.2)"/><ellipse cx="294.63" cy="532.59" rx="3.95" ry="2.79" fill="rgba(255,255,255,0.24)"/><ellipse cx="295.03" cy="532.99" rx="3.35" ry="2.19" fill="url(#gd2)"/><ellipse cx="295.03" cy="532.99" rx="3.35" ry="2.19" fill="rgba(255,255,255,0.05)"/></g><g transform="rotate(-19.24 255.47 543.95)"><ellipse cx="255.87" cy="544.35" rx="4.6" ry="2.85" fill="rgba(0,0,0,0.2)"/><ellipse cx="255.07" cy="543.55" rx="4.6" ry="2.85" fill="rgba(255,255,255,0.24)"/><ellipse cx="255.47" cy="543.95" rx="4" ry="2.25" fill="url(#gd2)"/><ellipse cx="255.47" cy="543.95" rx="4" ry="2.25" fill="rgba(255,255,255,0.05)"/></g><g transform="rotate(-68.26 186.4 532.8)"><ellipse cx="186.8" cy="533.2" rx="3.91" ry="2.73" fill="rgba(0,0,0,0.2)"/><ellipse cx="186" cy="532.4" rx="3.91" ry="2.73" fill="rgba(255,255,255,0.24)"/><ellipse cx="186.4" cy="532.8" rx="3.31" ry="2.13" fill="url(#gd2)"/><ellipse cx="186.4" cy="532.8" rx="3.31" ry="2.13" fill="rgba(255,255,255,0.05)"/></g><g transform="rotate(78.76 256.5 553.73)"><ellipse cx="256.9" cy="554.13" rx="3.53" ry="2.97" fill="rgba(0,0,0,0.2)"/><ellipse cx="256.1" cy="553.33" rx="3.53" ry="2.97" fill="rgba(255,255,255,0.24)"/><ellipse cx="256.5" cy="553.73" rx="2.93" ry="2.37" fill="url(#gd2)"/><ellipse cx="256.5" cy="553.73" rx="2.93" ry="2.37" fill="rgba(255,255,255,0.05)"/></g><g transform="rotate(51.29 276.97 553.42)"><ellipse cx="277.37" cy="553.82" rx="4.34" ry="2.7" fill="rgba(0,0,0,0.2)"/><ellipse cx="276.57" cy="553.02" rx="4.34" ry="2.7" fill="rgba(255,255,255,0.24)"/><ellipse cx="276.97" cy="553.42" rx="3.74" ry="2.1" fill="url(#gd2)"/><ellipse cx="276.97" cy="553.42" rx="3.74" ry="2.1" fill="rgba(255,255,255,0.05)"/></g><g transform="rotate(-0.48 298.17 485.82)"><ellipse cx="298.57" cy="486.22" rx="3.37" ry="2.77" fill="rgba(0,0,0,0.2)"/><ellipse cx="297.77" cy="485.42" rx="3.37" ry="2.77" fill="rgba(255,255,255,0.24)"/><ellipse cx="298.17" cy="485.82" rx="2.77" ry="2.17" fill="url(#gd2)"/><ellipse cx="298.17" cy="485.82" rx="2.77" ry="2.17" fill="rgba(255,255,255,0.05)"/></g><g transform="rotate(67.03 231.23 507.55)"><ellipse cx="231.63" cy="507.95" rx="4.13" ry="2.5" fill="rgba(0,0,0,0.2)"/><ellipse cx="230.83" cy="507.15" rx="4.13" ry="2.5" fill="rgba(255,255,255,0.24)"/><ellipse cx="231.23" cy="507.55" rx="3.53" ry="1.9" fill="url(#gd2)"/><ellipse cx="231.23" cy="507.55" rx="3.53" ry="1.9" fill="rgba(255,255,255,0.05)"/></g><g transform="rotate(-82.27 185.95 561.82)"><ellipse cx="186.35" cy="562.22" rx="4.36" ry="2.55" fill="rgba(0,0,0,0.2)"/><ellipse cx="185.55" cy="561.42" rx="4.36" ry="2.55" fill="rgba(255,255,255,0.24)"/><ellipse cx="185.95" cy="561.82" rx="3.76" ry="1.95" fill="url(#gd2)"/><ellipse cx="185.95" cy="561.82" rx="3.76" ry="1.95" fill="rgba(255,255,255,0.05)"/></g><g transform="rotate(-69.67 260.32 494.02)"><ellipse cx="260.72" cy="494.42" rx="4.05" ry="2.96" fill="rgba(0,0,0,0.2)"/><ellipse cx="259.92" cy="493.62" rx="4.05" ry="2.96" fill="rgba(255,255,255,0.24)"/><ellipse cx="260.32" cy="494.02" rx="3.45" ry="2.36" fill="url(#gd2)"/><ellipse cx="260.32" cy="494.02" rx="3.45" ry="2.36" fill="rgba(255,255,255,0.05)"/></g><g transform="rotate(65.35 308.5 504.82)"><ellipse cx="308.9" cy="505.22" rx="4.08" ry="2.45" fill="rgba(0,0,0,0.2)"/><ellipse cx="308.1" cy="504.42" rx="4.08" ry="2.45" fill="rgba(255,255,255,0.24)"/><ellipse cx="308.5" cy="504.82" rx="3.48" ry="1.85" fill="url(#gd2)"/><ellipse cx="308.5" cy="504.82" rx="3.48" ry="1.85" fill="rgba(255,255,255,0.05)"/></g><g transform="rotate(38.93 205.24 505.71)"><ellipse cx="205.64" cy="506.11" rx="4.35" ry="2.97" fill="rgba(0,0,0,0.2)"/><ellipse cx="204.84" cy="505.31" rx="4.35" ry="2.97" fill="rgba(255,255,255,0.24)"/><ellipse cx="205.24" cy="505.71" rx="3.75" ry="2.37" fill="url(#gd2)"/><ellipse cx="205.24" cy="505.71" rx="3.75" ry="2.37" fill="rgba(255,255,255,0.05)"/></g><g transform="rotate(59.81 287.53 486.03)"><ellipse cx="287.93" cy="486.43" rx="3.58" ry="2.47" fill="rgba(0,0,0,0.2)"/><ellipse cx="287.13" cy="485.63" rx="3.58" ry="2.47" fill="rgba(255,255,255,0.24)"/><ellipse cx="287.53" cy="486.03" rx="2.98" ry="1.87" fill="url(#gd2)"/><ellipse cx="287.53" cy="486.03" rx="2.98" ry="1.87" fill="rgba(255,255,255,0.05)"/></g><g transform="rotate(-30.73 274.99 495.36)"><ellipse cx="275.39" cy="495.76" rx="3.61" ry="2.34" fill="rgba(0,0,0,0.2)"/><ellipse cx="274.59" cy="494.96" rx="3.61" ry="2.34" fill="rgba(255,255,255,0.24)"/><ellipse cx="274.99" cy="495.36" rx="3.01" ry="1.74" fill="url(#gd2)"/><ellipse cx="274.99" cy="495.36" rx="3.01" ry="1.74" fill="rgba(255,255,255,0.05)"/></g><g transform="rotate(-87.82 290.55 512.76)"><ellipse cx="290.95" cy="513.16" rx="3.67" ry="2.64" fill="rgba(0,0,0,0.2)"/><ellipse cx="290.15" cy="512.36" rx="3.67" ry="2.64" fill="rgba(255,255,255,0.24)"/><ellipse cx="290.55" cy="512.76" rx="3.07" ry="2.04" fill="url(#gd2)"/><ellipse cx="290.55" cy="512.76" rx="3.07" ry="2.04" fill="rgba(255,255,255,0.05)"/></g><g transform="rotate(-60.48 217.64 498.73)"><ellipse cx="218.04" cy="499.13" rx="3.98" ry="2.37" fill="rgba(0,0,0,0.2)"/><ellipse cx="217.24" cy="498.33" rx="3.98" ry="2.37" fill="rgba(255,255,255,0.24)"/><ellipse cx="217.64" cy="498.73" rx="3.38" ry="1.77" fill="url(#gd2)"/><ellipse cx="217.64" cy="498.73" rx="3.38" ry="1.77" fill="rgba(255,255,255,0.05)"/></g><g transform="rotate(4.39 187.92 549.8)"><ellipse cx="188.32" cy="550.2" rx="3.53" ry="2.8" fill="rgba(0,0,0,0.2)"/><ellipse cx="187.52" cy="549.4" rx="3.53" ry="2.8" fill="rgba(255,255,255,0.24)"/><ellipse cx="187.92" cy="549.8" rx="2.93" ry="2.2" fill="url(#gd2)"/><ellipse cx="187.92" cy="549.8" rx="2.93" ry="2.2" fill="rgba(255,255,255,0.05)"/></g><g transform="rotate(3.77 209.42 563.44)"><ellipse cx="209.82" cy="563.84" rx="4.07" ry="2.44" fill="rgba(0,0,0,0.2)"/><ellipse cx="209.02" cy="563.04" rx="4.07" ry="2.44" fill="rgba(255,255,255,0.24)"/><ellipse cx="209.42" cy="563.44" rx="3.47" ry="1.84" fill="url(#gd2)"/><ellipse cx="209.42" cy="563.44" rx="3.47" ry="1.84" fill="rgba(255,255,255,0.05)"/></g></g>
<g clip-path="url(#d2)" filter="url(#b2)"><ellipse cx="297.54" cy="539.23" rx="4.27" ry="2.72" fill="rgba(255,255,255,0.3)"/><ellipse cx="270.93" cy="489.69" rx="2.33" ry="2.33" fill="rgba(255,255,255,0.3)"/><ellipse cx="244.12" cy="524.07" rx="1.55" ry="1.94" fill="rgba(255,255,255,0.3)"/><ellipse cx="216.91" cy="533.01" rx="1.94" ry="1.17" fill="rgba(255,255,255,0.3)"/><ellipse cx="226.63" cy="512.42" rx="1.55" ry="1.17" fill="rgba(255,255,255,0.3)"/><ellipse cx="201.37" cy="541.17" rx="1.94" ry="1.17" fill="rgba(255,255,255,0.3)"/></g>
<g clip-path="url(#d3)" filter="url(#b2)"><g transform="rotate(20 391.54 486.68)"><ellipse cx="391.54" cy="486.68" rx="3.17" ry="4.77" fill="rgba(255,255,255,0.26)"/><ellipse cx="391.54" cy="486.68" rx="2.32" ry="3.92" fill="url(#gd3)"/><ellipse cx="391.54" cy="486.68" rx="2.32" ry="3.92" fill="rgba(0,0,0,0.15)"/></g><g transform="rotate(25 339.47 497.37)"><ellipse cx="339.47" cy="497.37" rx="4.24" ry="3.17" fill="rgba(255,255,255,0.26)"/><ellipse cx="339.47" cy="497.37" rx="3.39" ry="2.32" fill="url(#gd3)"/><ellipse cx="339.47" cy="497.37" rx="3.39" ry="2.32" fill="rgba(0,0,0,0.15)"/></g><g transform="rotate(20 352.3 493.48)"><ellipse cx="352.3" cy="493.48" rx="3.97" ry="2.9" fill="rgba(255,255,255,0.26)"/><ellipse cx="352.3" cy="493.48" rx="3.12" ry="2.05" fill="url(#gd3)"/><ellipse cx="352.3" cy="493.48" rx="3.12" ry="2.05" fill="rgba(0,0,0,0.15)"/></g><g transform="rotate(20 358.9 495.43)"><ellipse cx="358.9" cy="495.43" rx="2.9" ry="1.84" fill="rgba(255,255,255,0.26)"/><ellipse cx="358.9" cy="495.43" rx="2.05" ry="0.99" fill="url(#gd3)"/><ellipse cx="358.9" cy="495.43" rx="2.05" ry="0.99" fill="rgba(0,0,0,0.15)"/></g><g transform="rotate(-15 382.41 499.31)"><ellipse cx="382.41" cy="499.31" rx="3.17" ry="4.51" fill="rgba(255,255,255,0.26)"/><ellipse cx="382.41" cy="499.31" rx="2.32" ry="3.66" fill="url(#gd3)"/><ellipse cx="382.41" cy="499.31" rx="2.32" ry="3.66" fill="rgba(0,0,0,0.15)"/></g><g transform="rotate(-15 409.03 496.4)"><ellipse cx="409.03" cy="496.4" rx="2.37" ry="4.24" fill="rgba(255,255,255,0.26)"/><ellipse cx="409.03" cy="496.4" rx="1.52" ry="3.39" fill="url(#gd3)"/><ellipse cx="409.03" cy="496.4" rx="1.52" ry="3.39" fill="rgba(0,0,0,0.15)"/></g><g transform="rotate(0 430.79 491.93)"><ellipse cx="430.79" cy="491.93" rx="2.1" ry="4.24" fill="rgba(255,255,255,0.26)"/><ellipse cx="430.79" cy="491.93" rx="1.25" ry="3.39" fill="url(#gd3)"/><ellipse cx="430.79" cy="491.93" rx="1.25" ry="3.39" fill="rgba(0,0,0,0.15)"/></g><g transform="rotate(0 314.8 515.44)"><ellipse cx="314.8" cy="515.44" rx="2.64" ry="3.71" fill="rgba(255,255,255,0.26)"/><ellipse cx="314.8" cy="515.44" rx="1.79" ry="2.86" fill="url(#gd3)"/><ellipse cx="314.8" cy="515.44" rx="1.79" ry="2.86" fill="rgba(0,0,0,0.15)"/></g><g transform="rotate(0 340.64 518.35)"><ellipse cx="340.64" cy="518.35" rx="3.71" ry="2.37" fill="rgba(255,255,255,0.26)"/><ellipse cx="340.64" cy="518.35" rx="2.86" ry="1.52" fill="url(#gd3)"/><ellipse cx="340.64" cy="518.35" rx="2.86" ry="1.52" fill="rgba(0,0,0,0.15)"/></g><g transform="rotate(35 374.06 512.91)"><ellipse cx="374.06" cy="512.91" rx="3.71" ry="2.64" fill="rgba(255,255,255,0.26)"/><ellipse cx="374.06" cy="512.91" rx="2.86" ry="1.79" fill="url(#gd3)"/><ellipse cx="374.06" cy="512.91" rx="2.86" ry="1.79" fill="rgba(0,0,0,0.15)"/></g><g transform="rotate(30 379.89 516.8)"><ellipse cx="379.89" cy="516.8" rx="3.71" ry="2.9" fill="rgba(255,255,255,0.26)"/><ellipse cx="379.89" cy="516.8" rx="2.86" ry="2.05" fill="url(#gd3)"/><ellipse cx="379.89" cy="516.8" rx="2.86" ry="2.05" fill="rgba(0,0,0,0.15)"/></g><g transform="rotate(20 408.64 515.44)"><ellipse cx="408.64" cy="515.44" rx="2.64" ry="3.97" fill="rgba(255,255,255,0.26)"/><ellipse cx="408.64" cy="515.44" rx="1.79" ry="3.12" fill="url(#gd3)"/><ellipse cx="408.64" cy="515.44" rx="1.79" ry="3.12" fill="rgba(0,0,0,0.15)"/></g><g transform="rotate(35 358.51 523.6)"><ellipse cx="358.51" cy="523.6" rx="3.17" ry="5.04" fill="rgba(255,255,255,0.26)"/><ellipse cx="358.51" cy="523.6" rx="2.32" ry="4.19" fill="url(#gd3)"/><ellipse cx="358.51" cy="523.6" rx="2.32" ry="4.19" fill="rgba(0,0,0,0.15)"/></g><g transform="rotate(20 343.55 530.98)"><ellipse cx="343.55" cy="530.98" rx="4.24" ry="3.17" fill="rgba(255,255,255,0.26)"/><ellipse cx="343.55" cy="530.98" rx="3.39" ry="2.32" fill="url(#gd3)"/><ellipse cx="343.55" cy="530.98" rx="3.39" ry="2.32" fill="rgba(0,0,0,0.15)"/></g><g transform="rotate(25 321.6 537.2)"><ellipse cx="321.6" cy="537.2" rx="3.71" ry="3.17" fill="rgba(255,255,255,0.26)"/><ellipse cx="321.6" cy="537.2" rx="2.86" ry="2.32" fill="url(#gd3)"/><ellipse cx="321.6" cy="537.2" rx="2.86" ry="2.32" fill="rgba(0,0,0,0.15)"/></g><g transform="rotate(-20 319.27 533.31)"><ellipse cx="319.27" cy="533.31" rx="1.57" ry="2.1" fill="rgba(255,255,255,0.26)"/><ellipse cx="319.27" cy="533.31" rx="0.72" ry="1.25" fill="url(#gd3)"/><ellipse cx="319.27" cy="533.31" rx="0.72" ry="1.25" fill="rgba(0,0,0,0.15)"/></g><g transform="rotate(0 419.72 538.17)"><ellipse cx="419.72" cy="538.17" rx="3.97" ry="2.9" fill="rgba(255,255,255,0.26)"/><ellipse cx="419.72" cy="538.17" rx="3.12" ry="2.05" fill="url(#gd3)"/><ellipse cx="419.72" cy="538.17" rx="3.12" ry="2.05" fill="rgba(0,0,0,0.15)"/></g><g transform="rotate(0 425.54 536.81)"><ellipse cx="425.54" cy="536.81" rx="3.44" ry="2.9" fill="rgba(255,255,255,0.26)"/><ellipse cx="425.54" cy="536.81" rx="2.59" ry="2.05" fill="url(#gd3)"/><ellipse cx="425.54" cy="536.81" rx="2.59" ry="2.05" fill="rgba(0,0,0,0.15)"/></g><g transform="rotate(-20 376 541.67)"><ellipse cx="376" cy="541.67" rx="3.97" ry="3.17" fill="rgba(255,255,255,0.26)"/><ellipse cx="376" cy="541.67" rx="3.12" ry="2.32" fill="url(#gd3)"/><ellipse cx="376" cy="541.67" rx="3.12" ry="2.32" fill="rgba(0,0,0,0.15)"/></g><g transform="rotate(20 372.12 546.91)"><ellipse cx="372.12" cy="546.91" rx="3.17" ry="4.51" fill="rgba(255,255,255,0.26)"/><ellipse cx="372.12" cy="546.91" rx="2.32" ry="3.66" fill="url(#gd3)"/><ellipse cx="372.12" cy="546.91" rx="2.32" ry="3.66" fill="rgba(0,0,0,0.15)"/></g><g transform="rotate(-25 380.86 549.83)"><ellipse cx="380.86" cy="549.83" rx="3.97" ry="2.64" fill="rgba(255,255,255,0.26)"/><ellipse cx="380.86" cy="549.83" rx="3.12" ry="1.79" fill="url(#gd3)"/><ellipse cx="380.86" cy="549.83" rx="3.12" ry="1.79" fill="rgba(0,0,0,0.15)"/></g><g transform="rotate(0 389.6 548.27)"><ellipse cx="389.6" cy="548.27" rx="3.71" ry="2.9" fill="rgba(255,255,255,0.26)"/><ellipse cx="389.6" cy="548.27" rx="2.86" ry="2.05" fill="url(#gd3)"/><ellipse cx="389.6" cy="548.27" rx="2.86" ry="2.05" fill="rgba(0,0,0,0.15)"/></g><g transform="rotate(-20 420.3 548.27)"><ellipse cx="420.3" cy="548.27" rx="3.97" ry="3.17" fill="rgba(255,255,255,0.26)"/><ellipse cx="420.3" cy="548.27" rx="3.12" ry="2.32" fill="url(#gd3)"/><ellipse cx="420.3" cy="548.27" rx="3.12" ry="2.32" fill="rgba(0,0,0,0.15)"/></g><g transform="rotate(30 325.1 559.15)"><ellipse cx="325.1" cy="559.15" rx="3.17" ry="4.24" fill="rgba(255,255,255,0.26)"/><ellipse cx="325.1" cy="559.15" rx="2.32" ry="3.39" fill="url(#gd3)"/><ellipse cx="325.1" cy="559.15" rx="2.32" ry="3.39" fill="rgba(0,0,0,0.15)"/></g><g transform="rotate(0 384.36 558.18)"><ellipse cx="384.36" cy="558.18" rx="2.64" ry="3.17" fill="rgba(255,255,255,0.26)"/><ellipse cx="384.36" cy="558.18" rx="1.79" ry="2.32" fill="url(#gd3)"/><ellipse cx="384.36" cy="558.18" rx="1.79" ry="2.32" fill="rgba(0,0,0,0.15)"/></g><g transform="rotate(0 403.2 559.93)"><ellipse cx="403.2" cy="559.93" rx="3.17" ry="4.24" fill="rgba(255,255,255,0.26)"/><ellipse cx="403.2" cy="559.93" rx="2.32" ry="3.39" fill="url(#gd3)"/><ellipse cx="403.2" cy="559.93" rx="2.32" ry="3.39" fill="rgba(0,0,0,0.15)"/></g><g transform="rotate(-20 345.89 568.28)"><ellipse cx="345.89" cy="568.28" rx="3.97" ry="3.44" fill="rgba(255,255,255,0.26)"/><ellipse cx="345.89" cy="568.28" rx="3.12" ry="2.59" fill="url(#gd3)"/><ellipse cx="345.89" cy="568.28" rx="3.12" ry="2.59" fill="rgba(0,0,0,0.15)"/></g><g transform="rotate(25 371.14 570.81)"><ellipse cx="371.14" cy="570.81" rx="3.17" ry="5.04" fill="rgba(255,255,255,0.26)"/><ellipse cx="371.14" cy="570.81" rx="2.32" ry="4.19" fill="url(#gd3)"/><ellipse cx="371.14" cy="570.81" rx="2.32" ry="4.19" fill="rgba(0,0,0,0.15)"/></g><g transform="rotate(-20 321.21 572.75)"><ellipse cx="321.21" cy="572.75" rx="2.9" ry="3.97" fill="rgba(255,255,255,0.26)"/><ellipse cx="321.21" cy="572.75" rx="2.05" ry="3.12" fill="url(#gd3)"/><ellipse cx="321.21" cy="572.75" rx="2.05" ry="3.12" fill="rgba(0,0,0,0.15)"/></g><g transform="rotate(0 315.77 566.73)"><ellipse cx="315.77" cy="566.73" rx="2.64" ry="2.1" fill="rgba(255,255,255,0.26)"/><ellipse cx="315.77" cy="566.73" rx="1.79" ry="1.25" fill="url(#gd3)"/><ellipse cx="315.77" cy="566.73" rx="1.79" ry="1.25" fill="rgba(0,0,0,0.15)"/></g><g transform="rotate(0 361.43 575.47)"><ellipse cx="361.43" cy="575.47" rx="3.17" ry="2.1" fill="rgba(255,255,255,0.26)"/><ellipse cx="361.43" cy="575.47" rx="2.32" ry="1.25" fill="url(#gd3)"/><ellipse cx="361.43" cy="575.47" rx="2.32" ry="1.25" fill="rgba(0,0,0,0.15)"/></g></g>
<g clip-path="url(#d4)" filter="url(#b2)"><g transform="rotate(0 470 495.51)"><ellipse cx="470.3" cy="495.81" rx="6.22" ry="4.27" fill="rgba(0,0,0,0.3)"/><ellipse cx="469.7" cy="495.21" rx="6.22" ry="4.27" fill="rgba(255,255,255,0.36)"/><ellipse cx="470" cy="495.51" rx="5.62" ry="3.67" fill="url(#gd4)"/><ellipse cx="470" cy="495.51" rx="5.62" ry="3.67" fill="rgba(255,255,255,0.03)"/></g><g transform="rotate(0 451.93 503.29)"><ellipse cx="452.23" cy="503.59" rx="2.72" ry="3.89" fill="rgba(0,0,0,0.3)"/><ellipse cx="451.63" cy="502.99" rx="2.72" ry="3.89" fill="rgba(255,255,255,0.36)"/><ellipse cx="451.93" cy="503.29" rx="2.12" ry="3.29" fill="url(#gd4)"/><ellipse cx="451.93" cy="503.29" rx="2.12" ry="3.29" fill="rgba(255,255,255,0.03)"/></g><g transform="rotate(0 466.7 505.81)"><ellipse cx="467" cy="506.11" rx="2.72" ry="2.33" fill="rgba(0,0,0,0.3)"/><ellipse cx="466.4" cy="505.51" rx="2.72" ry="2.33" fill="rgba(255,255,255,0.36)"/><ellipse cx="466.7" cy="505.81" rx="2.12" ry="1.73" fill="url(#gd4)"/><ellipse cx="466.7" cy="505.81" rx="2.12" ry="1.73" fill="rgba(255,255,255,0.03)"/></g><g transform="rotate(0 448.63 519.8)"><ellipse cx="448.93" cy="520.1" rx="3.11" ry="2.33" fill="rgba(0,0,0,0.3)"/><ellipse cx="448.33" cy="519.5" rx="3.11" ry="2.33" fill="rgba(255,255,255,0.36)"/><ellipse cx="448.63" cy="519.8" rx="2.51" ry="1.73" fill="url(#gd4)"/><ellipse cx="448.63" cy="519.8" rx="2.51" ry="1.73" fill="rgba(255,255,255,0.03)"/></g><g transform="rotate(0 461.26 518.83)"><ellipse cx="461.56" cy="519.13" rx="2.33" ry="2.72" fill="rgba(0,0,0,0.3)"/><ellipse cx="460.96" cy="518.53" rx="2.33" ry="2.72" fill="rgba(255,255,255,0.36)"/><ellipse cx="461.26" cy="518.83" rx="1.73" ry="2.12" fill="url(#gd4)"/><ellipse cx="461.26" cy="518.83" rx="1.73" ry="2.12" fill="rgba(255,255,255,0.03)"/></g><g transform="rotate(0 469.42 516.89)"><ellipse cx="469.72" cy="517.19" rx="4.27" ry="3.5" fill="rgba(0,0,0,0.3)"/><ellipse cx="469.12" cy="516.59" rx="4.27" ry="3.5" fill="rgba(255,255,255,0.36)"/><ellipse cx="469.42" cy="516.89" rx="3.67" ry="2.9" fill="url(#gd4)"/><ellipse cx="469.42" cy="516.89" rx="3.67" ry="2.9" fill="rgba(255,255,255,0.03)"/></g><g transform="rotate(0 462.23 531.46)"><ellipse cx="462.53" cy="531.76" rx="2.33" ry="3.89" fill="rgba(0,0,0,0.3)"/><ellipse cx="461.93" cy="531.16" rx="2.33" ry="3.89" fill="rgba(255,255,255,0.36)"/><ellipse cx="462.23" cy="531.46" rx="1.73" ry="3.29" fill="url(#gd4)"/><ellipse cx="462.23" cy="531.46" rx="1.73" ry="3.29" fill="rgba(255,255,255,0.03)"/></g><g transform="rotate(0 464.17 537.29)"><ellipse cx="464.47" cy="537.59" rx="1.55" ry="2.72" fill="rgba(0,0,0,0.3)"/><ellipse cx="463.87" cy="536.99" rx="1.55" ry="2.72" fill="rgba(255,255,255,0.36)"/><ellipse cx="464.17" cy="537.29" rx="0.95" ry="2.12" fill="url(#gd4)"/><ellipse cx="464.17" cy="537.29" rx="0.95" ry="2.12" fill="rgba(255,255,255,0.03)"/></g><g transform="rotate(0 471.94 553.8)"><ellipse cx="472.24" cy="554.1" rx="4.27" ry="3.89" fill="rgba(0,0,0,0.3)"/><ellipse cx="471.64" cy="553.5" rx="4.27" ry="3.89" fill="rgba(255,255,255,0.36)"/><ellipse cx="471.94" cy="553.8" rx="3.67" ry="3.29" fill="url(#gd4)"/><ellipse cx="471.94" cy="553.8" rx="3.67" ry="3.29" fill="rgba(255,255,255,0.03)"/></g><g transform="rotate(0 460.29 565.46)"><ellipse cx="460.59" cy="565.76" rx="3.89" ry="4.66" fill="rgba(0,0,0,0.3)"/><ellipse cx="459.99" cy="565.16" rx="3.89" ry="4.66" fill="rgba(255,255,255,0.36)"/><ellipse cx="460.29" cy="565.46" rx="3.29" ry="4.06" fill="url(#gd4)"/><ellipse cx="460.29" cy="565.46" rx="3.29" ry="4.06" fill="rgba(255,255,255,0.03)"/></g><g transform="rotate(0 465.14 573.23)"><ellipse cx="465.44" cy="573.53" rx="2.72" ry="3.5" fill="rgba(0,0,0,0.3)"/><ellipse cx="464.84" cy="572.93" rx="2.72" ry="3.5" fill="rgba(255,255,255,0.36)"/><ellipse cx="465.14" cy="573.23" rx="2.12" ry="2.9" fill="url(#gd4)"/><ellipse cx="465.14" cy="573.23" rx="2.12" ry="2.9" fill="rgba(255,255,255,0.03)"/></g><g transform="rotate(0 474.86 486.77)"><ellipse cx="475.16" cy="487.07" rx="2.33" ry="3.11" fill="rgba(0,0,0,0.3)"/><ellipse cx="474.56" cy="486.47" rx="2.33" ry="3.11" fill="rgba(255,255,255,0.36)"/><ellipse cx="474.86" cy="486.77" rx="1.73" ry="2.51" fill="url(#gd4)"/><ellipse cx="474.86" cy="486.77" rx="1.73" ry="2.51" fill="rgba(255,255,255,0.03)"/></g><g transform="rotate(0 514.69 501.34)"><ellipse cx="514.99" cy="501.64" rx="3.11" ry="4.27" fill="rgba(0,0,0,0.3)"/><ellipse cx="514.39" cy="501.04" rx="3.11" ry="4.27" fill="rgba(255,255,255,0.36)"/><ellipse cx="514.69" cy="501.34" rx="2.51" ry="3.67" fill="url(#gd4)"/><ellipse cx="514.69" cy="501.34" rx="2.51" ry="3.67" fill="rgba(255,255,255,0.03)"/></g><g transform="rotate(0 507.89 506.2)"><ellipse cx="508.19" cy="506.5" rx="2.72" ry="2.72" fill="rgba(0,0,0,0.3)"/><ellipse cx="507.59" cy="505.9" rx="2.72" ry="2.72" fill="rgba(255,255,255,0.36)"/><ellipse cx="507.89" cy="506.2" rx="2.12" ry="2.12" fill="url(#gd4)"/><ellipse cx="507.89" cy="506.2" rx="2.12" ry="2.12" fill="rgba(255,255,255,0.03)"/></g><g transform="rotate(0 515.66 486.77)"><ellipse cx="515.96" cy="487.07" rx="3.5" ry="2.33" fill="rgba(0,0,0,0.3)"/><ellipse cx="515.36" cy="486.47" rx="3.5" ry="2.33" fill="rgba(255,255,255,0.36)"/><ellipse cx="515.66" cy="486.77" rx="2.9" ry="1.73" fill="url(#gd4)"/><ellipse cx="515.66" cy="486.77" rx="2.9" ry="1.73" fill="rgba(255,255,255,0.03)"/></g><g transform="rotate(0 523.82 486.38)"><ellipse cx="524.12" cy="486.68" rx="3.5" ry="1.94" fill="rgba(0,0,0,0.3)"/><ellipse cx="523.52" cy="486.08" rx="3.5" ry="1.94" fill="rgba(255,255,255,0.36)"/><ellipse cx="523.82" cy="486.38" rx="2.9" ry="1.34" fill="url(#gd4)"/><ellipse cx="523.82" cy="486.38" rx="2.9" ry="1.34" fill="rgba(255,255,255,0.03)"/></g><g transform="rotate(0 526.93 491.63)"><ellipse cx="527.23" cy="491.93" rx="3.11" ry="1.94" fill="rgba(0,0,0,0.3)"/><ellipse cx="526.63" cy="491.33" rx="3.11" ry="1.94" fill="rgba(255,255,255,0.36)"/><ellipse cx="526.93" cy="491.63" rx="2.51" ry="1.34" fill="url(#gd4)"/><ellipse cx="526.93" cy="491.63" rx="2.51" ry="1.34" fill="rgba(255,255,255,0.03)"/></g><g transform="rotate(0 507.5 518.44)"><ellipse cx="507.8" cy="518.74" rx="2.33" ry="2.72" fill="rgba(0,0,0,0.3)"/><ellipse cx="507.2" cy="518.14" rx="2.33" ry="2.72" fill="rgba(255,255,255,0.36)"/><ellipse cx="507.5" cy="518.44" rx="1.73" ry="2.12" fill="url(#gd4)"/><ellipse cx="507.5" cy="518.44" rx="1.73" ry="2.12" fill="rgba(255,255,255,0.03)"/></g><g transform="rotate(0 502.45 520.77)"><ellipse cx="502.75" cy="521.07" rx="1.55" ry="2.72" fill="rgba(0,0,0,0.3)"/><ellipse cx="502.15" cy="520.47" rx="1.55" ry="2.72" fill="rgba(255,255,255,0.36)"/><ellipse cx="502.45" cy="520.77" rx="0.95" ry="2.12" fill="url(#gd4)"/><ellipse cx="502.45" cy="520.77" rx="0.95" ry="2.12" fill="rgba(255,255,255,0.03)"/></g><g transform="rotate(20 513.33 523.3)"><ellipse cx="513.63" cy="523.6" rx="3.5" ry="2.33" fill="rgba(0,0,0,0.3)"/><ellipse cx="513.03" cy="523" rx="3.5" ry="2.33" fill="rgba(255,255,255,0.36)"/><ellipse cx="513.33" cy="523.3" rx="2.9" ry="1.73" fill="url(#gd4)"/><ellipse cx="513.33" cy="523.3" rx="2.9" ry="1.73" fill="rgba(255,255,255,0.03)"/></g><g transform="rotate(20 506.92 527.18)"><ellipse cx="507.22" cy="527.48" rx="3.5" ry="2.33" fill="rgba(0,0,0,0.3)"/><ellipse cx="506.62" cy="526.88" rx="3.5" ry="2.33" fill="rgba(255,255,255,0.36)"/><ellipse cx="506.92" cy="527.18" rx="2.9" ry="1.73" fill="url(#gd4)"/><ellipse cx="506.92" cy="527.18" rx="2.9" ry="1.73" fill="rgba(255,255,255,0.03)"/></g><g transform="rotate(-20 494.29 529.9)"><ellipse cx="494.59" cy="530.2" rx="2.33" ry="3.11" fill="rgba(0,0,0,0.3)"/><ellipse cx="493.99" cy="529.6" rx="2.33" ry="3.11" fill="rgba(255,255,255,0.36)"/><ellipse cx="494.29" cy="529.9" rx="1.73" ry="2.51" fill="url(#gd4)"/><ellipse cx="494.29" cy="529.9" rx="1.73" ry="2.51" fill="rgba(255,255,255,0.03)"/></g><g transform="rotate(0 496.62 536.31)"><ellipse cx="496.92" cy="536.61" rx="3.89" ry="2.33" fill="rgba(0,0,0,0.3)"/><ellipse cx="496.32" cy="536.01" rx="3.89" ry="2.33" fill="rgba(255,255,255,0.36)"/><ellipse cx="496.62" cy="536.31" rx="3.29" ry="1.73" fill="url(#gd4)"/><ellipse cx="496.62" cy="536.31" rx="3.29" ry="1.73" fill="rgba(255,255,255,0.03)"/></g><g transform="rotate(0 502.06 541.56)"><ellipse cx="502.36" cy="541.86" rx="5.05" ry="3.89" fill="rgba(0,0,0,0.3)"/><ellipse cx="501.76" cy="541.26" rx="5.05" ry="3.89" fill="rgba(255,255,255,0.36)"/><ellipse cx="502.06" cy="541.56" rx="4.45" ry="3.29" fill="url(#gd4)"/><ellipse cx="502.06" cy="541.56" rx="4.45" ry="3.29" fill="rgba(255,255,255,0.03)"/></g><g transform="rotate(0 497.2 547.39)"><ellipse cx="497.5" cy="547.69" rx="3.11" ry="3.11" fill="rgba(0,0,0,0.3)"/><ellipse cx="496.9" cy="547.09" rx="3.11" ry="3.11" fill="rgba(255,255,255,0.36)"/><ellipse cx="497.2" cy="547.39" rx="2.51" ry="2.51" fill="url(#gd4)"/><ellipse cx="497.2" cy="547.39" rx="2.51" ry="2.51" fill="rgba(255,255,255,0.03)"/></g><g transform="rotate(0 496.62 553.8)"><ellipse cx="496.92" cy="554.1" rx="4.27" ry="3.5" fill="rgba(0,0,0,0.3)"/><ellipse cx="496.32" cy="553.5" rx="4.27" ry="3.5" fill="rgba(255,255,255,0.36)"/><ellipse cx="496.62" cy="553.8" rx="3.67" ry="2.9" fill="url(#gd4)"/><ellipse cx="496.62" cy="553.8" rx="3.67" ry="2.9" fill="rgba(255,255,255,0.03)"/></g><g transform="rotate(10 498.17 560.6)"><ellipse cx="498.47" cy="560.9" rx="4.27" ry="3.11" fill="rgba(0,0,0,0.3)"/><ellipse cx="497.87" cy="560.3" rx="4.27" ry="3.11" fill="rgba(255,255,255,0.36)"/><ellipse cx="498.17" cy="560.6" rx="3.67" ry="2.51" fill="url(#gd4)"/><ellipse cx="498.17" cy="560.6" rx="3.67" ry="2.51" fill="rgba(255,255,255,0.03)"/></g><g transform="rotate(0 509.83 561.57)"><ellipse cx="510.13" cy="561.87" rx="3.89" ry="4.27" fill="rgba(0,0,0,0.3)"/><ellipse cx="509.53" cy="561.27" rx="3.89" ry="4.27" fill="rgba(255,255,255,0.36)"/><ellipse cx="509.83" cy="561.57" rx="3.29" ry="3.67" fill="url(#gd4)"/><ellipse cx="509.83" cy="561.57" rx="3.29" ry="3.67" fill="rgba(255,255,255,0.03)"/></g><g transform="rotate(0 511.77 568.37)"><ellipse cx="512.07" cy="568.67" rx="3.11" ry="3.5" fill="rgba(0,0,0,0.3)"/><ellipse cx="511.47" cy="568.07" rx="3.11" ry="3.5" fill="rgba(255,255,255,0.36)"/><ellipse cx="511.77" cy="568.37" rx="2.51" ry="2.9" fill="url(#gd4)"/><ellipse cx="511.77" cy="568.37" rx="2.51" ry="2.9" fill="rgba(255,255,255,0.03)"/></g><g transform="rotate(0 513.33 573.23)"><ellipse cx="513.63" cy="573.53" rx="2.72" ry="3.5" fill="rgba(0,0,0,0.3)"/><ellipse cx="513.03" cy="572.93" rx="2.72" ry="3.5" fill="rgba(255,255,255,0.36)"/><ellipse cx="513.33" cy="573.23" rx="2.12" ry="2.9" fill="url(#gd4)"/><ellipse cx="513.33" cy="573.23" rx="2.12" ry="2.9" fill="rgba(255,255,255,0.03)"/></g><g transform="rotate(-30 522.46 554.77)"><ellipse cx="522.76" cy="555.07" rx="3.5" ry="3.89" fill="rgba(0,0,0,0.3)"/><ellipse cx="522.16" cy="554.47" rx="3.5" ry="3.89" fill="rgba(255,255,255,0.36)"/><ellipse cx="522.46" cy="554.77" rx="2.9" ry="3.29" fill="url(#gd4)"/><ellipse cx="522.46" cy="554.77" rx="2.9" ry="3.29" fill="rgba(255,255,255,0.03)"/></g><g transform="rotate(0 529.26 562.54)"><ellipse cx="529.56" cy="562.84" rx="2.33" ry="2.72" fill="rgba(0,0,0,0.3)"/><ellipse cx="528.96" cy="562.24" rx="2.33" ry="2.72" fill="rgba(255,255,255,0.36)"/><ellipse cx="529.26" cy="562.54" rx="1.73" ry="2.12" fill="url(#gd4)"/><ellipse cx="529.26" cy="562.54" rx="1.73" ry="2.12" fill="rgba(255,255,255,0.03)"/></g><g transform="rotate(0 532.56 567.4)"><ellipse cx="532.86" cy="567.7" rx="3.11" ry="3.11" fill="rgba(0,0,0,0.3)"/><ellipse cx="532.26" cy="567.1" rx="3.11" ry="3.11" fill="rgba(255,255,255,0.36)"/><ellipse cx="532.56" cy="567.4" rx="2.51" ry="2.51" fill="url(#gd4)"/><ellipse cx="532.56" cy="567.4" rx="2.51" ry="2.51" fill="rgba(255,255,255,0.03)"/></g><g transform="rotate(0 538.97 567.98)"><ellipse cx="539.27" cy="568.28" rx="3.89" ry="4.27" fill="rgba(0,0,0,0.3)"/><ellipse cx="538.67" cy="567.68" rx="3.89" ry="4.27" fill="rgba(255,255,255,0.36)"/><ellipse cx="538.97" cy="567.98" rx="3.29" ry="3.67" fill="url(#gd4)"/><ellipse cx="538.97" cy="567.98" rx="3.29" ry="3.67" fill="rgba(255,255,255,0.03)"/></g><g transform="rotate(0 526.34 571.87)"><ellipse cx="526.64" cy="572.17" rx="3.11" ry="2.33" fill="rgba(0,0,0,0.3)"/><ellipse cx="526.04" cy="571.57" rx="3.11" ry="2.33" fill="rgba(255,255,255,0.36)"/><ellipse cx="526.34" cy="571.87" rx="2.51" ry="1.73" fill="url(#gd4)"/><ellipse cx="526.34" cy="571.87" rx="2.51" ry="1.73" fill="rgba(255,255,255,0.03)"/></g><g transform="rotate(0 536.64 535.34)"><ellipse cx="536.94" cy="535.64" rx="3.5" ry="2.33" fill="rgba(0,0,0,0.3)"/><ellipse cx="536.34" cy="535.04" rx="3.5" ry="2.33" fill="rgba(255,255,255,0.36)"/><ellipse cx="536.64" cy="535.34" rx="2.9" ry="1.73" fill="url(#gd4)"/><ellipse cx="536.64" cy="535.34" rx="2.9" ry="1.73" fill="rgba(255,255,255,0.03)"/></g><g transform="rotate(0 548.69 530.49)"><ellipse cx="548.99" cy="530.79" rx="3.5" ry="4.27" fill="rgba(0,0,0,0.3)"/><ellipse cx="548.39" cy="530.19" rx="3.5" ry="4.27" fill="rgba(255,255,255,0.36)"/><ellipse cx="548.69" cy="530.49" rx="2.9" ry="3.67" fill="url(#gd4)"/><ellipse cx="548.69" cy="530.49" rx="2.9" ry="3.67" fill="rgba(255,255,255,0.03)"/></g><g transform="rotate(0 554.13 510.09)"><ellipse cx="554.43" cy="510.39" rx="3.5" ry="3.89" fill="rgba(0,0,0,0.3)"/><ellipse cx="553.83" cy="509.79" rx="3.5" ry="3.89" fill="rgba(255,255,255,0.36)"/><ellipse cx="554.13" cy="510.09" rx="2.9" ry="3.29" fill="url(#gd4)"/><ellipse cx="554.13" cy="510.09" rx="2.9" ry="3.29" fill="rgba(255,255,255,0.03)"/></g><g transform="rotate(0 558.79 518.44)"><ellipse cx="559.09" cy="518.74" rx="3.5" ry="2.72" fill="rgba(0,0,0,0.3)"/><ellipse cx="558.49" cy="518.14" rx="3.5" ry="2.72" fill="rgba(255,255,255,0.36)"/><ellipse cx="558.79" cy="518.44" rx="2.9" ry="2.12" fill="url(#gd4)"/><ellipse cx="558.79" cy="518.44" rx="2.9" ry="2.12" fill="rgba(255,255,255,0.03)"/></g><g transform="rotate(0 561.32 489.69)"><ellipse cx="561.62" cy="489.99" rx="2.72" ry="1.94" fill="rgba(0,0,0,0.3)"/><ellipse cx="561.02" cy="489.39" rx="2.72" ry="1.94" fill="rgba(255,255,255,0.36)"/><ellipse cx="561.32" cy="489.69" rx="2.12" ry="1.34" fill="url(#gd4)"/><ellipse cx="561.32" cy="489.69" rx="2.12" ry="1.34" fill="rgba(255,255,255,0.03)"/></g><g transform="rotate(0 548.1 544.09)"><ellipse cx="548.4" cy="544.39" rx="3.11" ry="2.72" fill="rgba(0,0,0,0.3)"/><ellipse cx="547.8" cy="543.79" rx="3.11" ry="2.72" fill="rgba(255,255,255,0.36)"/><ellipse cx="548.1" cy="544.09" rx="2.51" ry="2.12" fill="url(#gd4)"/><ellipse cx="548.1" cy="544.09" rx="2.51" ry="2.12" fill="rgba(255,255,255,0.03)"/></g><g transform="rotate(0 540.92 545.64)"><ellipse cx="541.22" cy="545.94" rx="3.11" ry="2.33" fill="rgba(0,0,0,0.3)"/><ellipse cx="540.62" cy="545.34" rx="3.11" ry="2.33" fill="rgba(255,255,255,0.36)"/><ellipse cx="540.92" cy="545.64" rx="2.51" ry="1.73" fill="url(#gd4)"/><ellipse cx="540.92" cy="545.64" rx="2.51" ry="1.73" fill="rgba(255,255,255,0.03)"/></g><g transform="rotate(0 540.33 553.8)"><ellipse cx="540.63" cy="554.1" rx="3.11" ry="2.33" fill="rgba(0,0,0,0.3)"/><ellipse cx="540.03" cy="553.5" rx="3.11" ry="2.33" fill="rgba(255,255,255,0.36)"/><ellipse cx="540.33" cy="553.8" rx="2.51" ry="1.73" fill="url(#gd4)"/><ellipse cx="540.33" cy="553.8" rx="2.51" ry="1.73" fill="rgba(255,255,255,0.03)"/></g><g transform="rotate(0 546.74 555.36)"><ellipse cx="547.04" cy="555.66" rx="3.11" ry="2.33" fill="rgba(0,0,0,0.3)"/><ellipse cx="546.44" cy="555.06" rx="3.11" ry="2.33" fill="rgba(255,255,255,0.36)"/><ellipse cx="546.74" cy="555.36" rx="2.51" ry="1.73" fill="url(#gd4)"/><ellipse cx="546.74" cy="555.36" rx="2.51" ry="1.73" fill="rgba(255,255,255,0.03)"/></g><g transform="rotate(0 559.37 553.8)"><ellipse cx="559.67" cy="554.1" rx="3.89" ry="2.72" fill="rgba(0,0,0,0.3)"/><ellipse cx="559.07" cy="553.5" rx="3.89" ry="2.72" fill="rgba(255,255,255,0.36)"/><ellipse cx="559.37" cy="553.8" rx="3.29" ry="2.12" fill="url(#gd4)"/><ellipse cx="559.37" cy="553.8" rx="3.29" ry="2.12" fill="rgba(255,255,255,0.03)"/></g><g transform="rotate(0 552.57 562.16)"><ellipse cx="552.87" cy="562.46" rx="3.5" ry="2.33" fill="rgba(0,0,0,0.3)"/><ellipse cx="552.27" cy="561.86" rx="3.5" ry="2.33" fill="rgba(255,255,255,0.36)"/><ellipse cx="552.57" cy="562.16" rx="2.9" ry="1.73" fill="url(#gd4)"/><ellipse cx="552.57" cy="562.16" rx="2.9" ry="1.73" fill="rgba(255,255,255,0.03)"/></g><g transform="rotate(0 563.26 538.26)"><ellipse cx="563.56" cy="538.56" rx="1.55" ry="3.5" fill="rgba(0,0,0,0.3)"/><ellipse cx="562.96" cy="537.96" rx="1.55" ry="3.5" fill="rgba(255,255,255,0.36)"/><ellipse cx="563.26" cy="538.26" rx="0.95" ry="2.9" fill="url(#gd4)"/><ellipse cx="563.26" cy="538.26" rx="0.95" ry="2.9" fill="rgba(255,255,255,0.03)"/></g></g>
<g clip-path="url(#d5)" filter="url(#b2)"><g transform="rotate(-20 630 486.85)"><ellipse cx="630" cy="486.85" rx="3.17" ry="4.24" fill="rgba(255,255,255,0.42)"/><ellipse cx="630" cy="486.85" rx="2.27" ry="3.34" fill="url(#gd5)"/><ellipse cx="630" cy="486.85" rx="2.27" ry="3.34" fill="rgba(0,0,0,0.24)"/></g><g transform="rotate(35 628.64 500.84)"><ellipse cx="628.64" cy="500.84" rx="2.74" ry="4.24" fill="rgba(255,255,255,0.42)"/><ellipse cx="628.64" cy="500.84" rx="1.84" ry="3.34" fill="url(#gd5)"/><ellipse cx="628.64" cy="500.84" rx="1.84" ry="3.34" fill="rgba(0,0,0,0.24)"/></g><g transform="rotate(30 624.17 506.28)"><ellipse cx="624.17" cy="506.28" rx="3.17" ry="4.24" fill="rgba(255,255,255,0.42)"/><ellipse cx="624.17" cy="506.28" rx="2.27" ry="3.34" fill="url(#gd5)"/><ellipse cx="624.17" cy="506.28" rx="2.27" ry="3.34" fill="rgba(0,0,0,0.24)"/></g><g transform="rotate(-15 630.97 512.5)"><ellipse cx="630.97" cy="512.5" rx="3.6" ry="4.88" fill="rgba(255,255,255,0.42)"/><ellipse cx="630.97" cy="512.5" rx="2.7" ry="3.98" fill="url(#gd5)"/><ellipse cx="630.97" cy="512.5" rx="2.7" ry="3.98" fill="rgba(0,0,0,0.24)"/></g><g transform="rotate(-15 665.94 499.87)"><ellipse cx="665.94" cy="499.87" rx="2.96" ry="4.03" fill="rgba(255,255,255,0.42)"/><ellipse cx="665.94" cy="499.87" rx="2.06" ry="3.13" fill="url(#gd5)"/><ellipse cx="665.94" cy="499.87" rx="2.06" ry="3.13" fill="rgba(0,0,0,0.24)"/></g><g transform="rotate(-25 689.65 510.17)"><ellipse cx="689.65" cy="510.17" rx="2.74" ry="4.03" fill="rgba(255,255,255,0.42)"/><ellipse cx="689.65" cy="510.17" rx="1.84" ry="3.13" fill="url(#gd5)"/><ellipse cx="689.65" cy="510.17" rx="1.84" ry="3.13" fill="rgba(0,0,0,0.24)"/></g><g transform="rotate(0 569.38 508.23)"><ellipse cx="569.38" cy="508.23" rx="3.17" ry="5.31" fill="rgba(255,255,255,0.42)"/><ellipse cx="569.38" cy="508.23" rx="2.27" ry="4.41" fill="url(#gd5)"/><ellipse cx="569.38" cy="508.23" rx="2.27" ry="4.41" fill="rgba(0,0,0,0.24)"/></g><g transform="rotate(-10 570.74 516.39)"><ellipse cx="570.74" cy="516.39" rx="3.38" ry="4.88" fill="rgba(255,255,255,0.42)"/><ellipse cx="570.74" cy="516.39" rx="2.48" ry="3.98" fill="url(#gd5)"/><ellipse cx="570.74" cy="516.39" rx="2.48" ry="3.98" fill="rgba(0,0,0,0.24)"/></g><g transform="rotate(15 577.54 518.33)"><ellipse cx="577.54" cy="518.33" rx="4.03" ry="3.6" fill="rgba(255,255,255,0.42)"/><ellipse cx="577.54" cy="518.33" rx="3.13" ry="2.7" fill="url(#gd5)"/><ellipse cx="577.54" cy="518.33" rx="3.13" ry="2.7" fill="rgba(0,0,0,0.24)"/></g><g transform="rotate(25 594.06 523.77)"><ellipse cx="594.06" cy="523.77" rx="4.88" ry="3.6" fill="rgba(255,255,255,0.42)"/><ellipse cx="594.06" cy="523.77" rx="3.98" ry="2.7" fill="url(#gd5)"/><ellipse cx="594.06" cy="523.77" rx="3.98" ry="2.7" fill="rgba(0,0,0,0.24)"/></g><g transform="rotate(0 598.53 526.68)"><ellipse cx="598.53" cy="526.68" rx="2.31" ry="1.89" fill="rgba(255,255,255,0.42)"/><ellipse cx="598.53" cy="526.68" rx="1.41" ry="0.99" fill="url(#gd5)"/><ellipse cx="598.53" cy="526.68" rx="1.41" ry="0.99" fill="rgba(0,0,0,0.24)"/></g><g transform="rotate(-35 631.56 521.24)"><ellipse cx="631.56" cy="521.24" rx="2.74" ry="4.46" fill="rgba(255,255,255,0.42)"/><ellipse cx="631.56" cy="521.24" rx="1.84" ry="3.56" fill="url(#gd5)"/><ellipse cx="631.56" cy="521.24" rx="1.84" ry="3.56" fill="rgba(0,0,0,0.24)"/></g><g transform="rotate(-35 636.41 526.29)"><ellipse cx="636.41" cy="526.29" rx="3.38" ry="4.88" fill="rgba(255,255,255,0.42)"/><ellipse cx="636.41" cy="526.29" rx="2.48" ry="3.98" fill="url(#gd5)"/><ellipse cx="636.41" cy="526.29" rx="2.48" ry="3.98" fill="rgba(0,0,0,0.24)"/></g><g transform="rotate(-10 647.1 530.96)"><ellipse cx="647.1" cy="530.96" rx="5.31" ry="3.6" fill="rgba(255,255,255,0.42)"/><ellipse cx="647.1" cy="530.96" rx="4.41" ry="2.7" fill="url(#gd5)"/><ellipse cx="647.1" cy="530.96" rx="4.41" ry="2.7" fill="rgba(0,0,0,0.24)"/></g><g transform="rotate(35 621.26 532.9)"><ellipse cx="621.26" cy="532.9" rx="2.53" ry="4.46" fill="rgba(255,255,255,0.42)"/><ellipse cx="621.26" cy="532.9" rx="1.63" ry="3.56" fill="url(#gd5)"/><ellipse cx="621.26" cy="532.9" rx="1.63" ry="3.56" fill="rgba(0,0,0,0.24)"/></g><g transform="rotate(-10 680.13 536.98)"><ellipse cx="680.13" cy="536.98" rx="4.88" ry="3.6" fill="rgba(255,255,255,0.42)"/><ellipse cx="680.13" cy="536.98" rx="3.98" ry="2.7" fill="url(#gd5)"/><ellipse cx="680.13" cy="536.98" rx="3.98" ry="2.7" fill="rgba(0,0,0,0.24)"/></g><g transform="rotate(-20 614.07 540.67)"><ellipse cx="614.07" cy="540.67" rx="2.74" ry="1.89" fill="rgba(255,255,255,0.42)"/><ellipse cx="614.07" cy="540.67" rx="1.84" ry="0.99" fill="url(#gd5)"/><ellipse cx="614.07" cy="540.67" rx="1.84" ry="0.99" fill="rgba(0,0,0,0.24)"/></g><g transform="rotate(10 620.29 546.11)"><ellipse cx="620.29" cy="546.11" rx="3.17" ry="5.31" fill="rgba(255,255,255,0.42)"/><ellipse cx="620.29" cy="546.11" rx="2.27" ry="4.41" fill="url(#gd5)"/><ellipse cx="620.29" cy="546.11" rx="2.27" ry="4.41" fill="rgba(0,0,0,0.24)"/></g><g transform="rotate(-5 625.73 549.03)"><ellipse cx="625.73" cy="549.03" rx="3.38" ry="5.74" fill="rgba(255,255,255,0.42)"/><ellipse cx="625.73" cy="549.03" rx="2.48" ry="4.84" fill="url(#gd5)"/><ellipse cx="625.73" cy="549.03" rx="2.48" ry="4.84" fill="rgba(0,0,0,0.24)"/></g><g transform="rotate(-15 631.56 546.11)"><ellipse cx="631.56" cy="546.11" rx="3.17" ry="4.24" fill="rgba(255,255,255,0.42)"/><ellipse cx="631.56" cy="546.11" rx="2.27" ry="3.34" fill="url(#gd5)"/><ellipse cx="631.56" cy="546.11" rx="2.27" ry="3.34" fill="rgba(0,0,0,0.24)"/></g><g transform="rotate(-30 617.37 551.36)"><ellipse cx="617.37" cy="551.36" rx="3.17" ry="2.31" fill="rgba(255,255,255,0.42)"/><ellipse cx="617.37" cy="551.36" rx="2.27" ry="1.41" fill="url(#gd5)"/><ellipse cx="617.37" cy="551.36" rx="2.27" ry="1.41" fill="rgba(0,0,0,0.24)"/></g><g transform="rotate(-30 658.17 552.91)"><ellipse cx="658.17" cy="552.91" rx="3.81" ry="4.46" fill="rgba(255,255,255,0.42)"/><ellipse cx="658.17" cy="552.91" rx="2.91" ry="3.56" fill="url(#gd5)"/><ellipse cx="658.17" cy="552.91" rx="2.91" ry="3.56" fill="rgba(0,0,0,0.24)"/></g><g transform="rotate(15 646.9 557.77)"><ellipse cx="646.9" cy="557.77" rx="4.46" ry="3.17" fill="rgba(255,255,255,0.42)"/><ellipse cx="646.9" cy="557.77" rx="3.56" ry="2.27" fill="url(#gd5)"/><ellipse cx="646.9" cy="557.77" rx="3.56" ry="2.27" fill="rgba(0,0,0,0.24)"/></g><g transform="rotate(0 642.63 556.22)"><ellipse cx="642.63" cy="556.22" rx="2.31" ry="1.89" fill="rgba(255,255,255,0.42)"/><ellipse cx="642.63" cy="556.22" rx="1.41" ry="0.99" fill="url(#gd5)"/><ellipse cx="642.63" cy="556.22" rx="1.41" ry="0.99" fill="rgba(0,0,0,0.24)"/></g><g transform="rotate(35 648.46 567.87)"><ellipse cx="648.46" cy="567.87" rx="4.88" ry="3.6" fill="rgba(255,255,255,0.42)"/><ellipse cx="648.46" cy="567.87" rx="3.98" ry="2.7" fill="url(#gd5)"/><ellipse cx="648.46" cy="567.87" rx="3.98" ry="2.7" fill="rgba(0,0,0,0.24)"/></g></g>
<text x="18.3" y="402.4" font-family='"Liberation Serif", serif' font-size="11.5" font-weight="bold" text-anchor="middle" fill="#000">D</text>
<text x="40.3" y="424.2" font-family='"Liberation Serif", serif' font-size="9.3" font-weight="bold" text-anchor="start" fill="#000">PI</text>
<text x="10.2" y="475.2" font-family='"Liberation Serif", serif' font-size="12.9" font-weight="bold" text-anchor="start" fill="#000">CLSM</text>
<text x="33.6" y="514.6" font-family='"Liberation Serif", serif' font-size="8.8" font-weight="bold" text-anchor="start" fill="#000">DIC</text>
</svg>
</body></html>
